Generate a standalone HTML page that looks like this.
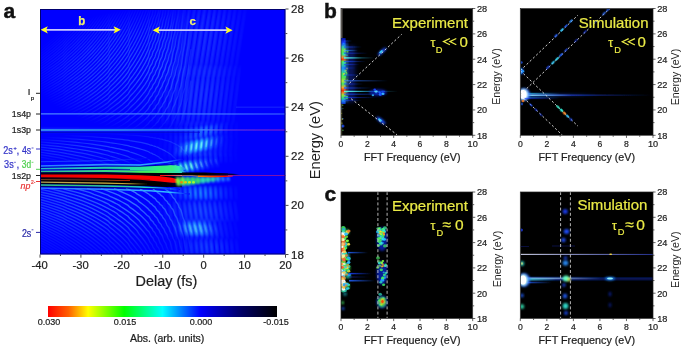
<!DOCTYPE html><html><head><meta charset="utf-8"><style>html,body{margin:0;padding:0;background:#fff;width:685px;height:350px;overflow:hidden;position:relative}</style></head><body><svg width="685" height="350" viewBox="0 0 685 350" font-family='"Liberation Sans", sans-serif' style="position:absolute;left:0;top:0;will-change:transform">
<defs>
<filter id="b04" x="-20%" y="-20%" width="140%" height="140%"><feGaussianBlur stdDeviation="0.4"/></filter>
<filter id="b08" x="-20%" y="-50%" width="140%" height="200%"><feGaussianBlur stdDeviation="0.8"/></filter>
<filter id="b12" x="-30%" y="-50%" width="160%" height="200%"><feGaussianBlur stdDeviation="1.2"/></filter>
<filter id="b2" x="-50%" y="-50%" width="200%" height="200%"><feGaussianBlur stdDeviation="2"/></filter>
<filter id="b3" x="-50%" y="-50%" width="200%" height="200%"><feGaussianBlur stdDeviation="3"/></filter>
<linearGradient id="cbar" x1="0" x2="1" y1="0" y2="0">
<stop offset="0" stop-color="#ff0000"/>
<stop offset="0.09" stop-color="#ff6000"/>
<stop offset="0.175" stop-color="#ffff00"/>
<stop offset="0.333" stop-color="#00ff00"/>
<stop offset="0.5" stop-color="#00ffff"/>
<stop offset="0.667" stop-color="#0000ff"/>
<stop offset="0.83" stop-color="#000070"/>
<stop offset="1" stop-color="#000000"/>
</linearGradient>
<clipPath id="clipA"><rect x="40" y="9" width="245.5" height="245.5"/></clipPath>
<clipPath id="clipb"><rect x="341" y="8.5" width="131.7" height="126.8"/></clipPath>
<clipPath id="clipb2"><rect x="520.3" y="8.5" width="132.7" height="126.8"/></clipPath>
<clipPath id="clipc"><rect x="341" y="192" width="131.7" height="126.5"/></clipPath>
<clipPath id="clipc2"><rect x="520.3" y="192" width="132.7" height="126.5"/></clipPath>
</defs>
<rect x="0" y="0" width="685" height="350" fill="#ffffff"/>
<g clip-path="url(#clipA)">
<rect x="40" y="9" width="245.5" height="245.5" fill="#0000ff"/>
<radialGradient id="rgU" cx="0.5" cy="0.5" r="0.5"><stop offset="0" stop-color="#fff" stop-opacity="0.8"/><stop offset="0.6" stop-color="#fff" stop-opacity="0.5"/><stop offset="1" stop-color="#fff" stop-opacity="0"/></radialGradient>
<linearGradient id="fx" gradientUnits="userSpaceOnUse" x1="165" y1="0" x2="205" y2="0"><stop offset="0" stop-color="#fff"/><stop offset="1" stop-color="#fff" stop-opacity="0"/></linearGradient>
<mask id="mfx" maskUnits="userSpaceOnUse" x="40" y="9" width="246" height="246"><rect x="40" y="9" width="246" height="246" fill="url(#fx)"/></mask>
<mask id="mkU" maskUnits="userSpaceOnUse" x="40" y="9" width="246" height="246"><ellipse cx="165" cy="70" rx="135" ry="64" fill="url(#rgU)"/></mask>
<mask id="mkM" maskUnits="userSpaceOnUse" x="40" y="9" width="246" height="246"><ellipse cx="120" cy="149" rx="115" ry="16" fill="url(#rgU)"/></mask>
<linearGradient id="fanL" gradientUnits="userSpaceOnUse" x1="0" y1="188" x2="0" y2="254"><stop offset="0" stop-color="#fff" stop-opacity="1"/><stop offset="0.45" stop-color="#fff" stop-opacity="0.75"/><stop offset="0.75" stop-color="#fff" stop-opacity="0.3"/><stop offset="1" stop-color="#fff" stop-opacity="0.12"/></linearGradient>
<mask id="mkL" maskUnits="userSpaceOnUse" x="40" y="180" width="246" height="80"><rect x="40" y="180" width="246" height="80" fill="url(#fanL)"/></mask>
<linearGradient id="fanLx" gradientUnits="userSpaceOnUse" x1="40" y1="0" x2="210" y2="0"><stop offset="0" stop-color="#fff" stop-opacity="0.45"/><stop offset="0.55" stop-color="#fff" stop-opacity="0.95"/><stop offset="0.85" stop-color="#fff" stop-opacity="0.6"/><stop offset="1" stop-color="#fff" stop-opacity="0"/></linearGradient>
<mask id="mkLx" maskUnits="userSpaceOnUse" x="40" y="180" width="246" height="80"><rect x="40" y="180" width="246" height="80" fill="url(#fanLx)"/></mask>
<g mask="url(#mfx)">
<path d="M38,170.9L43,170.8L48,170.6L53,170.4L58,170.3L63,170.1L67,169.8L72,169.6L77,169.4L82,169.1L87,168.8L92,168.5L97,168.2L102,167.8L105,167.5L108,167.3L110,167.0L113,166.8L116,166.5L119,166.1L122,165.8L125,165.4L128,165.0L130,164.6L133,164.1L136,163.6L139,163.1L142,162.5L145,161.8L148,161.1L149,160.7L150,160.3L152,159.9L153,159.4L155,158.9L156,158.4L158,157.9L159,157.3L160,156.7L162,156.0L163,155.3L165,154.6L166,153.7L168,152.9L169,151.9L171,150.9L172,149.7L173,148.5L175,147.1L176,145.6L178,144.0L179,142.1L181,140.0L182,137.6L183,134.9L185,131.8L186,128.2L188,123.9L189,118.7L191,112.5M38,168.4L43,168.2L48,167.9L53,167.7L58,167.4L63,167.1L67,166.8L72,166.5L77,166.1L82,165.7L87,165.3L92,164.8L97,164.3L102,163.7L105,163.4L108,163.0L110,162.6L113,162.2L116,161.7L119,161.2L122,160.7L125,160.2L128,159.6L130,158.9L133,158.2L136,157.5L139,156.7L142,155.8L145,154.8L148,153.7L149,153.1L150,152.5L152,151.9L153,151.2L155,150.4L156,149.7L158,148.9L159,148.0L160,147.1L162,146.1L163,145.0L165,143.9L166,142.6L168,141.3L169,139.9L171,138.3L172,136.6L173,134.8L175,132.7L176,130.5L178,128.0L179,125.2L181,122.0L182,118.5L183,114.4L185,109.7L186,104.3L188,97.8L189,90.1L191,80.7M38,165.9L43,165.6L48,165.3L53,164.9L58,164.6L63,164.2L67,163.7L72,163.3L77,162.8L82,162.3L87,161.7L92,161.1L97,160.4L102,159.6L105,159.2L108,158.7L110,158.1L113,157.6L116,157.0L119,156.3L122,155.6L125,154.9L128,154.1L130,153.2L133,152.3L136,151.3L139,150.2L142,149.0L145,147.7L148,146.3L149,145.5L150,144.7L152,143.8L153,142.9L155,142.0L156,140.9L158,139.8L159,138.7L160,137.4L162,136.1L163,134.7L165,133.2L166,131.6L168,129.8L169,127.9L171,125.8L172,123.5L173,121.1L175,118.3L176,115.3L178,112.0L179,108.2L181,104.1L182,99.3L183,93.9L185,87.6L186,80.4L188,71.8L189,61.5L191,49.0M38,163.4L43,163.0L48,162.6L53,162.2L58,161.7L63,161.2L67,160.7L72,160.1L77,159.5L82,158.8L87,158.1L92,157.3L97,156.5L102,155.6L105,155.0L108,154.3L110,153.7L113,153.0L116,152.2L119,151.4L122,150.6L125,149.6L128,148.6L130,147.6L133,146.4L136,145.2L139,143.8L142,142.3L145,140.7L148,138.9L149,137.9L150,136.9L152,135.8L153,134.7L155,133.5L156,132.2L158,130.8L159,129.4L160,127.8L162,126.2L163,124.4L165,122.5L166,120.5L168,118.2L169,115.9L171,113.3L172,110.4L173,107.3L175,103.9L176,100.2L178,96.0L179,91.3L181,86.1L182,80.1L183,73.4L185,65.6L186,56.5L188,45.8L189,32.9L191,17.3M38,160.9L43,160.4L48,159.9L53,159.4L58,158.9L63,158.3L67,157.6L72,157.0L77,156.2L82,155.4L87,154.6L92,153.6L97,152.6L102,151.5L105,150.8L108,150.0L110,149.2L113,148.4L116,147.5L119,146.5L122,145.5L125,144.4L128,143.2L130,141.9L133,140.5L136,139.0L139,137.4L142,135.6L145,133.6L148,131.5L149,130.3L150,129.1L152,127.8L153,126.4L155,125.0L156,123.4L158,121.8L159,120.0L160,118.2L162,116.2L163,114.1L165,111.8L166,109.4L168,106.7L169,103.8L171,100.7L172,97.3L173,93.6L175,89.5L176,85.0L178,80.0L179,74.4L181,68.1L182,61.0L183,52.9L185,43.5L186,32.6L188,19.7L189,4.3M38,158.4L43,157.9L48,157.3L53,156.7L58,156.0L63,155.3L67,154.6L72,153.8L77,152.9L82,152.0L87,151.0L92,149.9L97,148.7L102,147.4L105,146.6L108,145.7L110,144.8L113,143.8L116,142.7L119,141.6L122,140.4L125,139.1L128,137.7L130,136.2L133,134.6L136,132.9L139,131.0L142,128.9L145,126.6L148,124.1L149,122.7L150,121.3L152,119.8L153,118.2L155,116.5L156,114.7L158,112.8L159,110.7L160,108.6L162,106.3L163,103.8L165,101.1L166,98.3L168,95.2L169,91.8L171,88.2L172,84.2L173,79.9L175,75.1L176,69.9L178,64.0L179,57.5L181,50.1L182,41.8L183,32.3L185,21.4L186,8.7M38,155.9L43,155.3L48,154.6L53,153.9L58,153.2L63,152.4L67,151.5L72,150.6L77,149.7L82,148.6L87,147.4L92,146.2L97,144.8L102,143.3L105,142.4L108,141.4L110,140.3L113,139.2L116,138.0L119,136.7L122,135.3L125,133.9L128,132.3L130,130.6L133,128.7L136,126.7L139,124.5L142,122.1L145,119.5L148,116.6L149,115.1L150,113.5L152,111.7L153,109.9L155,108.0L156,105.9L158,103.7L159,101.4L160,98.9L162,96.3L163,93.5L165,90.4L166,87.2L168,83.6L169,79.8L171,75.7L172,71.1L173,66.2L175,60.7L176,54.7L178,48.0L179,40.6L181,32.2L182,22.7L183,11.8L185,-0.6M38,153.4L43,152.7L48,152.0L53,151.2L58,150.3L63,149.5L67,148.5L72,147.5L77,146.4L82,145.2L87,143.9L92,142.5L97,140.9L102,139.2L105,138.2L108,137.1L110,135.9L113,134.6L116,133.2L119,131.8L122,130.2L125,128.6L128,126.8L130,124.9L133,122.8L136,120.6L139,118.1L142,115.4L145,112.5L148,109.2L149,107.5L150,105.6L152,103.7L153,101.6L155,99.5L156,97.2L158,94.7L159,92.1L160,89.3L162,86.3L163,83.2L165,79.7L166,76.1L168,72.1L169,67.8L171,63.1L172,58.0L173,52.4L175,46.3L176,39.5L178,32.0L179,23.6L181,14.2L182,3.5M38,150.9L43,150.1L48,149.3L53,148.4L58,147.5L63,146.5L67,145.4L72,144.3L77,143.1L82,141.8L87,140.3L92,138.7L97,137.0L102,135.2L105,134.0L108,132.7L110,131.4L113,130.0L116,128.5L119,126.9L122,125.2L125,123.3L128,121.3L130,119.2L133,116.9L136,114.4L139,111.7L142,108.7L145,105.4L148,101.8L149,99.9L150,97.8L152,95.7L153,93.4L155,91.0L156,88.4L158,85.7L159,82.8L160,79.7L162,76.4L163,72.9L165,69.1L166,65.0L168,60.6L169,55.8L171,50.6L172,44.9L173,38.7L175,31.9L176,24.4L178,16.0L179,6.7L181,-3.8M38,148.4L43,147.5L48,146.6L53,145.7L58,144.7L63,143.6L67,142.4L72,141.1L77,139.8L82,138.3L87,136.7L92,135.0L97,133.1L102,131.1L105,129.8L108,128.4L110,127.0L113,125.4L116,123.7L119,122.0L122,120.1L125,118.1L128,115.9L130,113.5L133,111.0L136,108.2L139,105.2L142,102.0L145,98.4L148,94.4L149,92.3L150,90.0L152,87.6L153,85.1L155,82.5L156,79.7L158,76.7L159,73.5L160,70.1L162,66.4L163,62.5L165,58.4L166,53.9L168,49.0L169,43.8L171,38.0L172,31.8L173,25.0L175,17.5L176,9.2L178,0.0M38,145.9L43,144.9L48,144.0L53,142.9L58,141.8L63,140.6L67,139.3L72,138.0L77,136.5L82,134.9L87,133.2L92,131.3L97,129.3L102,127.0L105,125.6L108,124.1L110,122.5L113,120.8L116,119.0L119,117.1L122,115.0L125,112.8L128,110.4L130,107.9L133,105.1L136,102.1L139,98.8L142,95.2L145,91.3L148,87.0L149,84.7L150,82.2L152,79.6L153,76.9L155,74.0L156,70.9L158,67.6L159,64.2L160,60.4L162,56.5L163,52.2L165,47.7L166,42.8L168,37.5L169,31.7L171,25.5L172,18.7L173,11.3L175,3.1M38,143.3L43,142.4L48,141.3L53,140.2L58,139.0L63,137.7L67,136.3L72,134.8L77,133.2L82,131.5L87,129.6L92,127.6L97,125.4L102,122.9L105,121.4L108,119.8L110,118.0L113,116.2L116,114.3L119,112.2L122,109.9L125,107.5L128,105.0L130,102.2L133,99.2L136,95.9L139,92.4L142,88.5L145,84.3L148,79.6L149,77.1L150,74.4L152,71.6L153,68.6L155,65.5L156,62.1L158,58.6L159,54.8L160,50.8L162,46.5L163,41.9L165,37.0L166,31.7L168,25.9L169,19.7L171,13.0L172,5.6L173,-2.4M38,140.8L43,139.8L48,138.6L53,137.4L58,136.1L63,134.7L67,133.3L72,131.7L77,129.9L82,128.1L87,126.1L92,123.9L97,121.5L102,118.8L105,117.2L108,115.4L110,113.6L113,111.6L116,109.5L119,107.3L122,104.9L125,102.3L128,99.5L130,96.5L133,93.3L136,89.8L139,86.0L142,81.8L145,77.2L148,72.2L149,69.5L150,66.6L152,63.6L153,60.4L155,57.0L156,53.4L158,49.6L159,45.5L160,41.2L162,36.6L163,31.6L165,26.3L166,20.6L168,14.4L169,7.7L171,0.4M38,138.3L43,137.2L48,136.0L53,134.7L58,133.3L63,131.8L67,130.2L72,128.5L77,126.6L82,124.7L87,122.5L92,120.1L97,117.6L102,114.8L105,113.0L108,111.1L110,109.1L113,107.0L116,104.8L119,102.4L122,99.8L125,97.0L128,94.1L130,90.9L133,87.4L136,83.6L139,79.5L142,75.1L145,70.2L148,64.8L149,61.9L150,58.8L152,55.5L153,52.1L155,48.5L156,44.6L158,40.6L159,36.2L160,31.6L162,26.6L163,21.3L165,15.6L166,9.5L168,2.9L169,-4.3M38,135.8L43,134.6L48,133.3L53,131.9L58,130.4L63,128.8L67,127.2L72,125.3L77,123.4L82,121.2L87,118.9L92,116.4L97,113.7L102,110.7L105,108.8L108,106.8L110,104.7L113,102.4L116,100.0L119,97.5L122,94.7L125,91.8L128,88.6L130,85.2L133,81.5L136,77.5L139,73.1L142,68.3L145,63.1L148,57.4L149,54.2L150,51.0L152,47.5L153,43.9L155,40.0L156,35.9L158,31.5L159,26.9L160,21.9L162,16.7L163,11.0L165,4.9L166,-1.6M38,133.3L43,132.0L48,130.6L53,129.2L58,127.6L63,125.9L67,124.1L72,122.2L77,120.1L82,117.8L87,115.4L92,112.7L97,109.8L102,106.6L105,104.6L108,102.5L110,100.2L113,97.8L116,95.3L119,92.6L122,89.6L125,86.5L128,83.1L130,79.5L133,75.6L136,71.3L139,66.7L142,61.6L145,56.1L148,49.9L149,46.6L150,43.2L152,39.5L153,35.6L155,31.5L156,27.1L158,22.5L159,17.6L160,12.3L162,6.7L163,0.7M38,130.8L43,129.4L48,128.0L53,126.4L58,124.7L63,123.0L67,121.1L72,119.0L77,116.8L82,114.4L87,111.8L92,109.0L97,105.9L102,102.5L105,100.4L108,98.2L110,95.8L113,93.2L116,90.5L119,87.6L122,84.6L125,81.2L128,77.7L130,73.8L133,69.7L136,65.2L139,60.3L142,54.9L145,49.0L148,42.5L149,39.0L150,35.3L152,31.5L153,27.3L155,23.0L156,18.4L158,13.5L159,8.3L160,2.7L162,-3.2M38,128.3L43,126.8L48,125.3L53,123.7L58,121.9L63,120.0L67,118.0L72,115.8L77,113.5L82,111.0L87,108.2L92,105.3L97,102.0L102,98.5L105,96.2L108,93.8L110,91.3L113,88.6L116,85.8L119,82.7L122,79.5L125,76.0L128,72.2L130,68.2L133,63.8L136,59.0L139,53.8L142,48.2L145,42.0L148,35.1L149,31.4L150,27.5L152,23.4L153,19.1L155,14.5L156,9.6L158,4.5L159,-1.1M38,125.8L43,124.3L48,122.6L53,120.9L58,119.1L63,117.1L67,115.0L72,112.7L77,110.2L82,107.6L87,104.7L92,101.6L97,98.1L102,94.4L105,92.0L108,89.5L110,86.9L113,84.0L116,81.0L119,77.8L122,74.4L125,70.7L128,66.8L130,62.5L133,57.9L136,52.9L139,47.4L142,41.5L145,34.9L148,27.7L149,23.8L150,19.7L152,15.4L153,10.8L155,6.0L156,0.9L158,-4.6M38,123.3L43,121.7L48,120.0L53,118.2L58,116.2L63,114.1L67,111.9L72,109.5L77,106.9L82,104.1L87,101.1L92,97.8L97,94.2L102,90.3L105,87.8L108,85.2L110,82.4L113,79.5L116,76.3L119,72.9L122,69.3L125,65.5L128,61.3L130,56.8L133,52.0L136,46.7L139,41.0L142,34.7L145,27.9L148,20.3L149,16.2L150,11.9L152,7.4L153,2.6L155,-2.5M38,120.8L43,119.1L48,117.3L53,115.4L58,113.4L63,111.2L67,108.9L72,106.3L77,103.6L82,100.7L87,97.6L92,94.1L97,90.4L102,86.2L105,83.6L108,80.9L110,78.0L113,74.9L116,71.6L119,68.0L122,64.2L125,60.2L128,55.8L130,51.1L133,46.1L136,40.6L139,34.6L142,28.0L145,20.8L148,12.9L149,8.6L150,4.1L152,-0.6L153,-5.7M38,118.3L43,116.5L48,114.6L53,112.7L58,110.5L63,108.2L67,105.8L72,103.2L77,100.4L82,97.3L87,94.0L92,90.4L97,86.5L102,82.1L105,79.4L108,76.6L110,73.5L113,70.3L116,66.8L119,63.1L122,59.2L125,54.9L128,50.4L130,45.5L133,40.2L136,34.4L139,28.1L142,21.3L145,13.8L148,5.5L149,1.0L150,-3.7M38,115.8L43,113.9L48,112.0L53,109.9L58,107.7L63,105.3L67,102.8L72,100.0L77,97.1L82,93.9L87,90.4L92,86.7L97,82.6L102,78.1L105,75.2L108,72.2L110,69.1L113,65.7L116,62.1L119,58.2L122,54.1L125,49.7L128,44.9L130,39.8L133,34.3L136,28.2L139,21.7L142,14.6L145,6.7L148,-1.9M38,113.3L43,111.3L48,109.3L53,107.1L58,104.8L63,102.4L67,99.7L72,96.9L77,93.8L82,90.5L87,86.9L92,83.0L97,78.7L102,74.0L105,71.0L108,67.9L110,64.6L113,61.1L116,57.3L119,53.3L122,49.0L125,44.4L128,39.5L130,34.1L133,28.4L136,22.1L139,15.3L142,7.8L145,-0.3M38,110.8L43,108.8L48,106.6L53,104.4L58,102.0L63,99.4L67,96.7L72,93.7L77,90.5L82,87.1L87,83.3L92,79.2L97,74.8L102,69.9L105,66.8L108,63.6L110,60.2L113,56.5L116,52.6L119,48.4L122,43.9L125,39.2L128,34.0L130,28.5L133,22.5L136,15.9L139,8.9L142,1.1M38,108.2L43,106.2L48,104.0L53,101.6L58,99.1L63,96.5L67,93.6L72,90.5L77,87.2L82,83.6L87,79.7L92,75.5L97,70.9L102,65.8L105,62.7L108,59.3L110,55.7L113,51.9L116,47.8L119,43.5L122,38.9L125,33.9L128,28.5L130,22.8L133,16.5L136,9.8L139,2.4L142,-5.6M38,105.7L43,103.6L48,101.3L53,98.9L58,96.3L63,93.5L67,90.6L72,87.4L77,83.9L82,80.2L87,76.2L92,71.8L97,67.0L102,61.8L105,58.5L108,55.0L110,51.2L113,47.3L116,43.1L119,38.6L122,33.8L125,28.6L128,23.1L130,17.1L133,10.6L136,3.6L139,-4.0M38,103.2L43,101.0L48,98.7L53,96.1L58,93.5L63,90.6L67,87.5L72,84.2L77,80.6L82,76.8L87,72.6L92,68.1L97,63.1L102,57.7L105,54.3L108,50.6L110,46.8L113,42.7L116,38.3L119,33.7L122,28.7L125,23.4L128,17.6L130,11.4L133,4.7L136,-2.5M38,100.7L43,98.4L48,96.0L53,93.4L58,90.6L63,87.6L67,84.5L72,81.0L77,77.4L82,73.4L87,69.1L92,64.4L97,59.2L102,53.6L105,50.1L108,46.3L110,42.3L113,38.1L116,33.6L119,28.8L122,23.6L125,18.1L128,12.2L130,5.8L133,-1.2M38,98.2L43,95.8L48,93.3L53,90.6L58,87.8L63,84.7L67,81.4L72,77.9L77,74.1L82,70.0L87,65.5L92,60.6L97,55.3L102,49.5L105,45.9L108,42.0L110,37.9L113,33.5L116,28.9L119,23.9L122,18.6L125,12.8L128,6.7L130,0.1M38,95.7L43,93.3L48,90.7L53,87.9L58,84.9L63,81.8L67,78.4L72,74.7L77,70.8L82,66.5L87,61.9L92,56.9L97,51.4L102,45.4L105,41.7L108,37.7L110,33.4L113,28.9L116,24.1L119,19.0L122,13.5L125,7.6L128,1.2L130,-5.6M38,93.2L43,90.7L48,88.0L53,85.1L58,82.1L63,78.8L67,75.3L72,71.6L77,67.5L82,63.1L87,58.4L92,53.2L97,47.6L102,41.4L105,37.5L108,33.4L110,29.0L113,24.3L116,19.4L119,14.1L122,8.4L125,2.3L128,-4.2M38,90.7L43,88.1L48,85.3L53,82.4L58,79.2L63,75.9L67,72.3L72,68.4L77,64.2L82,59.7L87,54.8L92,49.5L97,43.7L102,37.3L105,33.3L108,29.0L110,24.5L113,19.7L116,14.6L119,9.2L122,3.3L125,-2.9M38,88.2L43,85.5L48,82.7L53,79.6L58,76.4L63,72.9L67,69.2L72,65.2L77,60.9L82,56.3L87,51.2L92,45.8L97,39.8L102,33.2L105,29.1L108,24.7L110,20.1L113,15.1L116,9.9L119,4.3L122,-1.8M38,85.7L43,82.9L48,80.0L53,76.9L58,73.5L63,70.0L67,66.2L72,62.1L77,57.6L82,52.9L87,47.7L92,42.0L97,35.9L102,29.1L105,24.9L108,20.4L110,15.6L113,10.5L116,5.1L119,-0.6M38,83.2L43,80.3L48,77.3L53,74.1L58,70.7L63,67.0L67,63.1L72,58.9L77,54.4L82,49.4L87,44.1L92,38.3L97,32.0L102,25.1L105,20.7L108,16.1L110,11.2L113,5.9L116,0.4L119,-5.6M38,80.7L43,77.8L48,74.7L53,71.4L58,67.9L63,64.1L67,60.1L72,55.7L77,51.1L82,46.0L87,40.6L92,34.6L97,28.1L102,21.0L105,16.5L108,11.7L110,6.7L113,1.3L116,-4.4M38,78.2L43,75.2L48,72.0L53,68.6L58,65.0L63,61.2L67,57.0L72,52.6L77,47.8L82,42.6L87,37.0L92,30.9L97,24.2L102,16.9L105,12.3L108,7.4L110,2.3L113,-3.2M38,75.7L43,72.6L48,69.3L53,65.9L58,62.2L63,58.2L67,54.0L72,49.4L77,44.5L82,39.2L87,33.4L92,27.2L97,20.3L102,12.8L105,8.1L108,3.1L110,-2.2M38,73.1L43,70.0L48,66.7L53,63.1L58,59.3L63,55.3L67,50.9L72,46.2L77,41.2L82,35.8L87,29.9L92,23.4L97,16.4L102,8.7L105,3.9L108,-1.2M38,70.6L43,67.4L48,64.0L53,60.4L58,56.5L63,52.3L67,47.9L72,43.1L77,37.9L82,32.3L87,26.3L92,19.7L97,12.5L102,4.7L105,-0.3L108,-5.5M38,68.1L43,64.8L48,61.3L53,57.6L58,53.6L63,49.4L67,44.8L72,39.9L77,34.6L82,28.9L87,22.7L92,16.0L97,8.7L102,0.6L105,-4.5M38,65.6L43,62.3L48,58.7L53,54.9L58,50.8L63,46.4L67,41.8L72,36.8L77,31.4L82,25.5L87,19.2L92,12.3L97,4.8L102,-3.5M38,63.1L43,59.7L48,56.0L53,52.1L58,47.9L63,43.5L67,38.7L72,33.6L77,28.1L82,22.1L87,15.6L92,8.6L97,0.9M38,60.6L43,57.1L48,53.3L53,49.4L58,45.1L63,40.6L67,35.7L72,30.4L77,24.8L82,18.7L87,12.1L92,4.8L97,-3.0M38,58.1L43,54.5L48,50.7L53,46.6L58,42.3L63,37.6L67,32.6L72,27.3L77,21.5L82,15.3L87,8.5L92,1.1M38,55.6L43,51.9L48,48.0L53,43.9L58,39.4L63,34.7L67,29.6L72,24.1L77,18.2L82,11.8L87,4.9L92,-2.6M38,53.1L43,49.3L48,45.4L53,41.1L58,36.6L63,31.7L67,26.5L72,20.9L77,14.9L82,8.4L87,1.4M38,50.6L43,46.8L48,42.7L53,38.4L58,33.7L63,28.8L67,23.5L72,17.8L77,11.6L82,5.0L87,-2.2M38,48.1L43,44.2L48,40.0L53,35.6L58,30.9L63,25.8L67,20.4L72,14.6L77,8.4L82,1.6M38,45.6L43,41.6L48,37.4L53,32.9L58,28.0L63,22.9L67,17.4L72,11.5L77,5.1L82,-1.8M38,43.1L43,39.0L48,34.7L53,30.1L58,25.2L63,20.0L67,14.3L72,8.3L77,1.8L82,-5.3M38,40.6L43,36.4L48,32.0L53,27.3L58,22.4L63,17.0L67,11.3L72,5.1L77,-1.5M38,38.0L43,33.8L48,29.4L53,24.6L58,19.5L63,14.1L67,8.2L72,2.0L77,-4.8M38,35.5L43,31.3L48,26.7L53,21.8L58,16.7L63,11.1L67,5.2L72,-1.2M38,33.0L43,28.7L48,24.0L53,19.1L58,13.8L63,8.2L67,2.1L72,-4.4M38,30.5L43,26.1L48,21.4L53,16.3L58,11.0L63,5.2L67,-0.9M38,28.0L43,23.5L48,18.7L53,13.6L58,8.1L63,2.3L67,-4.0M38,25.5L43,20.9L48,16.0L53,10.8L58,5.3L63,-0.6M38,23.0L43,18.3L48,13.4L53,8.1L58,2.4L63,-3.6M38,20.5L43,15.8L48,10.7L53,5.3L58,-0.4" fill="none" stroke="#3c78ff" stroke-width="1.3" mask="url(#mkU)" opacity="0.85" filter="url(#b04)"/>
<path d="M38,131.8L43,131.9L48,132.0L53,132.0L58,132.1L63,132.2L67,132.3L72,132.5L77,132.6L82,132.7L87,132.9L92,133.0L97,133.2L102,133.4L105,133.5L108,133.6L110,133.7L113,133.9L116,134.0L119,134.2L122,134.4L125,134.6L128,134.8L130,135.0L133,135.2L136,135.4L139,135.7L142,136.0L145,136.3L148,136.7L149,136.9L150,137.1L152,137.3L153,137.6L155,137.8L156,138.0L158,138.3L159,138.6L160,138.9L162,139.2L163,139.6L165,140.0L166,140.4L168,140.8L169,141.3L171,141.8L172,142.4L173,143.0L175,143.7L176,144.5L178,145.3L179,146.2L181,147.3L182,148.5L183,149.8L185,151.4L186,153.2L188,155.3L189,157.9L191,161.0M38,134.3L43,134.5L48,134.6L53,134.8L58,135.0L63,135.2L67,135.4L72,135.6L77,135.9L82,136.1L87,136.4L92,136.7L97,137.1L102,137.5L105,137.7L108,137.9L110,138.2L113,138.5L116,138.8L119,139.1L122,139.4L125,139.8L128,140.2L130,140.6L133,141.1L136,141.6L139,142.1L142,142.7L145,143.4L148,144.1L149,144.5L150,144.9L152,145.3L153,145.8L155,146.3L156,146.8L158,147.3L159,147.9L160,148.5L162,149.2L163,149.9L165,150.7L166,151.5L168,152.4L169,153.3L171,154.4L172,155.5L173,156.7L175,158.1L176,159.6L178,161.3L179,163.1L181,165.2M38,136.8L43,137.0L48,137.3L53,137.6L58,137.8L63,138.1L67,138.4L72,138.8L77,139.2L82,139.6L87,140.0L92,140.5L97,141.0L102,141.5L105,141.9L108,142.3L110,142.7L113,143.1L116,143.5L119,144.0L122,144.5L125,145.1L128,145.7L130,146.3L133,147.0L136,147.8L139,148.6L142,149.5L145,150.4L148,151.5L149,152.1L150,152.7L152,153.4L153,154.1L155,154.8L156,155.6L158,156.4L159,157.2L160,158.2L162,159.2L163,160.2L165,161.4L166,162.6L168,163.9L169,165.3M38,139.3L43,139.6L48,140.0L53,140.3L58,140.7L63,141.1L67,141.5L72,141.9L77,142.4L82,143.0L87,143.5L92,144.2L97,144.9L102,145.6L105,146.1L108,146.6L110,147.1L113,147.7L116,148.3L119,148.9L122,149.6L125,150.3L128,151.1L130,152.0L133,152.9L136,153.9L139,155.0L142,156.2L145,157.5L148,158.9L149,159.7L150,160.5L152,161.4L153,162.3L155,163.3L156,164.3L158,165.4M38,141.8L43,142.2L48,142.6L53,143.1L58,143.5L63,144.0L67,144.5L72,145.1L77,145.7L82,146.4L87,147.1L92,147.9L97,148.7L102,149.7L105,150.3L108,150.9L110,151.6L113,152.3L116,153.0L119,153.8L122,154.7L125,155.6L128,156.6L130,157.7L133,158.8L136,160.1L139,161.4L142,162.9L145,164.6M38,144.3L43,144.8L48,145.3L53,145.8L58,146.4L63,147.0L67,147.6L72,148.3L77,149.0L82,149.8L87,150.7L92,151.6L97,152.6L102,153.8L105,154.5L108,155.2L110,156.0L113,156.9L116,157.8L119,158.7L122,159.8L125,160.9L128,162.0L130,163.3L133,164.7M38,146.8L43,147.4L48,148.0L53,148.6L58,149.2L63,149.9L67,150.6L72,151.4L77,152.3L82,153.2L87,154.2L92,155.3L97,156.5L102,157.8L105,158.7L108,159.5L110,160.5L113,161.5L116,162.5L119,163.6L122,164.8M38,149.4L43,150.0L48,150.6L53,151.3L58,152.0L63,152.8L67,153.7L72,154.6L77,155.6L82,156.6L87,157.8L92,159.0L97,160.4L102,161.9L105,162.9L108,163.9L110,164.9L113,166.1M38,151.9L43,152.5L48,153.3L53,154.1L58,154.9L63,155.8L67,156.7L72,157.8L77,158.9L82,160.1L87,161.4L92,162.8L97,164.3L102,166.0M38,154.4L43,155.1L48,155.9L53,156.8L58,157.7L63,158.7L67,159.8L72,160.9L77,162.2L82,163.5L87,164.9M38,156.9L43,157.7L48,158.6L53,159.6L58,160.6L63,161.7L67,162.8L72,164.1L77,165.4M38,159.4L43,160.3L48,161.3L53,162.3L58,163.4L63,164.6L67,165.9" fill="none" stroke="#3c80ff" stroke-width="1.2" mask="url(#mkM)" opacity="0.7" filter="url(#b04)"/>
</g>
<g mask="url(#mkLx)">
<path d="M165,188.4L166,189.6L168,190.9L169,192.3L171,193.9L172,195.6L173,197.5L175,199.5L176,201.8L178,204.3L179,207.1L181,210.2L182,213.8L183,217.8L185,222.5L186,228.0L188,234.4L189,242.1L191,251.5L192,263.2M153,188.8L154,189.7L155,190.7L157,191.8L158,192.9L160,194.1L161,195.4L163,196.7L164,198.2L165,199.7L167,201.4L168,203.3L170,205.2L171,207.4L173,209.7L174,212.3L175,215.2L177,218.3L178,221.8L180,225.7L181,230.1L183,235.2L184,240.9L185,247.6L187,255.4L188,264.6M140,189.1L143,190.6L146,192.3L149,194.2L150,195.2L152,196.3L153,197.4L155,198.6L156,199.9L157,201.2L159,202.7L160,204.2L162,205.8L163,207.6L165,209.5L166,211.5L167,213.7L169,216.0L170,218.6L172,221.4L173,224.4L175,227.8L176,231.5L177,235.6L179,240.2L180,245.4L182,251.2L183,257.8L185,265.5M126,188.4L129,189.6L132,190.9L135,192.3L137,193.9L140,195.6L143,197.5L146,199.5L149,201.8L150,203.0L152,204.3L153,205.6L155,207.1L156,208.6L157,210.2L159,211.9L160,213.8L162,215.7L163,217.8L165,220.1L166,222.5L167,225.1L169,228.0L170,231.1L172,234.4L173,238.1L175,242.1L176,246.6L177,251.5L179,257.0L180,263.2M114,188.6L117,189.7L119,190.8L122,192.0L125,193.3L128,194.7L131,196.2L134,197.9L137,199.6L139,201.6L142,203.7L145,206.0L148,208.6L149,209.9L151,211.4L152,212.9L154,214.6L155,216.3L157,218.1L158,220.0L159,222.1L161,224.3L162,226.7L164,229.2L165,231.9L167,234.8L168,238.0L170,241.4L171,245.1L172,249.2L174,253.7L175,258.6L177,264.0M101,188.8L104,189.7L107,190.7L110,191.8L113,192.9L116,194.1L119,195.4L121,196.7L124,198.2L127,199.7L130,201.4L133,203.3L136,205.2L139,207.4L141,209.7L144,212.3L147,215.2L149,216.7L150,218.3L151,220.0L153,221.8L154,223.7L156,225.7L157,227.9L159,230.1L160,232.6L162,235.2L163,237.9L164,240.9L166,244.1L167,247.6L169,251.3L170,255.4L172,259.8L173,264.6M87,188.4L92,189.8L97,191.3L102,193.0L105,194.1L108,195.2L110,196.4L113,197.7L116,199.0L119,200.4L122,202.0L125,203.6L128,205.4L130,207.4L133,209.4L136,211.7L139,214.1L142,216.8L145,219.8L148,223.0L149,224.8L150,226.6L152,228.5L153,230.6L155,232.8L156,235.1L158,237.5L159,240.1L160,242.9L162,245.9L163,249.1L165,252.5L166,256.2L168,260.1L169,264.4L171,269.1M75,188.5L80,189.8L85,191.2L90,192.7L94,194.3L99,196.1L104,198.1L107,199.3L110,200.6L113,202.0L116,203.5L119,205.1L121,206.8L124,208.6L127,210.6L130,212.7L133,215.0L136,217.5L139,220.2L141,223.1L144,226.3L147,229.9L149,231.8L150,233.8L151,235.9L153,238.2L154,240.6L156,243.1L157,245.8L159,248.6L160,251.6L162,254.9L163,258.3L164,262.1L166,266.1M63,188.7L67,189.8L72,191.1L77,192.4L82,193.9L87,195.5L92,197.2L97,199.1L102,201.2L105,202.5L108,203.8L110,205.3L113,206.8L116,208.5L119,210.3L122,212.1L125,214.2L128,216.3L130,218.7L133,221.2L136,224.0L139,227.0L142,230.3L145,233.9L148,237.8L149,240.0L150,242.2L152,244.6L153,247.1L155,249.8L156,252.6L158,255.6L159,258.8L160,262.2L162,265.8M48,188.4L53,189.4L58,190.5L63,191.7L68,193.0L73,194.4L78,195.9L83,197.5L87,199.2L92,201.1L97,203.2L102,205.4L105,206.9L108,208.4L111,210.0L114,211.7L117,213.5L119,215.4L122,217.5L125,219.8L128,222.2L131,224.8L134,227.6L137,230.6L139,233.9L142,237.5L145,241.5L148,245.9L149,248.3L151,250.8L152,253.4L154,256.2L155,259.1L157,262.3L158,265.6L159,269.1M38,188.9L43,189.9L48,190.9L53,192.1L58,193.3L63,194.6L67,195.9L72,197.4L77,199.0L82,200.7L87,202.6L92,204.7L97,206.9L102,209.3L105,210.8L108,212.5L110,214.2L113,216.0L116,218.0L119,220.1L122,222.3L125,224.7L128,227.3L130,230.0L133,233.0L136,236.3L139,239.8L142,243.7L145,248.0L148,252.7L149,255.2L150,257.8L152,260.6L153,263.6L155,266.8M38,191.4L43,192.5L48,193.6L53,194.8L58,196.1L63,197.5L67,199.0L72,200.6L77,202.3L82,204.2L87,206.2L92,208.4L97,210.8L102,213.4L105,215.0L108,216.8L110,218.6L113,220.6L116,222.7L119,225.0L122,227.4L125,230.0L128,232.7L130,235.7L133,238.9L136,242.5L139,246.3L142,250.4L145,255.0L148,260.1L149,262.8L150,265.6L152,268.7M38,193.9L43,195.1L48,196.3L53,197.6L58,199.0L63,200.4L67,202.0L72,203.7L77,205.6L82,207.6L87,209.7L92,212.1L97,214.7L102,217.5L105,219.2L108,221.1L110,223.1L113,225.2L116,227.5L119,229.9L122,232.5L125,235.2L128,238.2L130,241.4L133,244.9L136,248.6L139,252.7L142,257.2L145,262.1L148,267.5M38,196.4L43,197.6L48,198.9L53,200.3L58,201.8L63,203.4L67,205.1L72,206.9L77,208.9L82,211.0L87,213.3L92,215.8L97,218.5L102,221.5L105,223.4L108,225.4L110,227.6L113,229.8L116,232.2L119,234.8L122,237.5L125,240.5L128,243.6L130,247.1L133,250.8L136,254.8L139,259.1L142,263.9L145,269.1M38,198.9L43,200.2L48,201.6L53,203.1L58,204.7L63,206.3L67,208.1L72,210.1L77,212.2L82,214.4L87,216.9L92,219.5L97,222.4L102,225.6L105,227.6L108,229.8L110,232.0L113,234.4L116,237.0L119,239.7L122,242.6L125,245.7L128,249.1L130,252.7L133,256.7L136,260.9L139,265.6M38,201.4L43,202.8L48,204.3L53,205.8L58,207.5L63,209.3L67,211.2L72,213.2L77,215.4L82,217.8L87,220.4L92,223.2L97,226.3L102,229.7L105,231.8L108,234.1L110,236.5L113,239.0L116,241.7L119,244.6L122,247.7L125,251.0L128,254.6L130,258.4L133,262.6L136,267.1M38,203.9L43,205.4L48,206.9L53,208.6L58,210.3L63,212.2L67,214.2L72,216.4L77,218.7L82,221.3L87,224.0L92,227.0L97,230.2L102,233.8L105,236.0L108,238.4L110,240.9L113,243.6L116,246.5L119,249.5L122,252.8L125,256.3L128,260.0L130,264.1L133,268.5M38,206.4L43,208.0L48,209.6L53,211.3L58,213.2L63,215.2L67,217.3L72,219.6L77,222.0L82,224.7L87,227.6L92,230.7L97,234.1L102,237.9L105,240.2L108,242.7L110,245.4L113,248.2L116,251.2L119,254.4L122,257.8L125,261.5L128,265.5M38,208.9L43,210.6L48,212.3L53,214.1L58,216.0L63,218.1L67,220.3L72,222.7L77,225.3L82,228.1L87,231.1L92,234.4L97,238.0L102,241.9L105,244.4L108,247.0L110,249.8L113,252.8L116,255.9L119,259.3L122,262.9L125,266.8M38,211.5L43,213.1L48,214.9L53,216.8L58,218.9L63,221.0L67,223.4L72,225.9L77,228.6L82,231.5L87,234.7L92,238.1L97,241.9L102,246.0L105,248.6L108,251.4L110,254.3L113,257.4L116,260.7L119,264.2L122,268.0M38,214.0L43,215.7L48,217.6L53,219.6L58,221.7L63,224.0L67,226.4L72,229.1L77,231.9L82,234.9L87,238.2L92,241.8L97,245.8L102,250.1L105,252.8L108,255.7L110,258.7L113,262.0L116,265.4L119,269.1M38,216.5L43,218.3L48,220.3L53,222.3L58,224.6L63,226.9L67,229.5L72,232.2L77,235.2L82,238.4L87,241.8L92,245.6L97,249.7L102,254.2L105,257.0L108,260.0L110,263.2L113,266.6M38,219.0L43,220.9L48,222.9L53,225.1L58,227.4L63,229.9L67,232.5L72,235.4L77,238.5L82,241.8L87,245.4L92,249.3L97,253.6L102,258.2L105,261.2L108,264.3L110,267.6M38,221.5L43,223.5L48,225.6L53,227.8L58,230.2L63,232.8L67,235.6L72,238.5L77,241.7L82,245.2L87,248.9L92,253.0L97,257.4L102,262.3L105,265.4L108,268.6M38,224.0L43,226.1L48,228.3L53,230.6L58,233.1L63,235.8L67,238.6L72,241.7L77,245.0L82,248.6L87,252.5L92,256.7L97,261.3L102,266.4M38,226.5L43,228.6L48,230.9L53,233.3L58,235.9L63,238.7L67,241.7L72,244.9L77,248.3L82,252.0L87,256.1L92,260.4L97,265.2M38,229.0L43,231.2L48,233.6L53,236.1L58,238.8L63,241.7L67,244.7L72,248.0L77,251.6L82,255.4L87,259.6L92,264.2L97,269.1M38,231.5L43,233.8L48,236.3L53,238.9L58,241.6L63,244.6L67,247.8L72,251.2L77,254.9L82,258.9L87,263.2L92,267.9M38,234.0L43,236.4L48,238.9L53,241.6L58,244.5L63,247.5L67,250.8L72,254.4L77,258.2L82,262.3L87,266.7M38,236.5L43,239.0L48,241.6L53,244.4L58,247.3L63,250.5L67,253.9L72,257.5L77,261.5L82,265.7M38,239.0L43,241.6L48,244.2L53,247.1L58,250.2L63,253.4L67,256.9L72,260.7L77,264.7L82,269.1M38,241.5L43,244.1L48,246.9L53,249.9L58,253.0L63,256.4L67,260.0L72,263.8L77,268.0M38,244.0L43,246.7L48,249.6L53,252.6L58,255.8L63,259.3L67,263.0L72,267.0M38,246.6L43,249.3L48,252.2L53,255.4L58,258.7L63,262.3L67,266.1M38,249.1L43,251.9L48,254.9L53,258.1L58,261.5L63,265.2L67,269.1M38,251.6L43,254.5L48,257.6L53,260.9L58,264.4L63,268.1M38,254.1L43,257.1L48,260.2L53,263.6L58,267.2M38,256.6L43,259.6L48,262.9L53,266.4M38,259.1L43,262.2L48,265.6L53,269.1M38,261.6L43,264.8L48,268.2M38,264.1L43,267.4" fill="none" stroke="#3c84ff" stroke-width="1.4" mask="url(#mkL)" filter="url(#b04)"/>
</g>
<ellipse cx="149.0" cy="42.0" rx="1.10" ry="36.00" fill="#3068ff" transform="rotate(9 149.0 42)" opacity="0.061112246480397134" filter="url(#b08)"/>
<ellipse cx="145.5" cy="95.0" rx="1.10" ry="30.00" fill="#3070ff" transform="rotate(7 145.5 95)" opacity="0.06547740694328265" filter="url(#b08)"/>
<ellipse cx="145.5" cy="130.0" rx="1.10" ry="9.00" fill="#2a70ff" transform="rotate(3 145.5 130)" opacity="0.005633437243446034" filter="url(#b08)"/>
<ellipse cx="145.0" cy="158.0" rx="1.10" ry="5.00" fill="#2a80ff" opacity="0.0013585323646617918" filter="url(#b08)"/>
<ellipse cx="145.0" cy="146.0" rx="1.50" ry="11.00" fill="#2a86ff" transform="rotate(5 145.0 146)" opacity="0.002900120274341886" filter="url(#b08)"/>
<ellipse cx="154.1" cy="42.0" rx="1.10" ry="36.00" fill="#3068ff" transform="rotate(9 154.05 42)" opacity="0.09513004322259339" filter="url(#b08)"/>
<ellipse cx="150.6" cy="95.0" rx="1.10" ry="30.00" fill="#3070ff" transform="rotate(7 150.55 95)" opacity="0.1019250463099215" filter="url(#b08)"/>
<ellipse cx="150.6" cy="130.0" rx="1.10" ry="9.00" fill="#2a70ff" transform="rotate(3 150.55 130)" opacity="0.012763852535808968" filter="url(#b08)"/>
<ellipse cx="150.1" cy="158.0" rx="1.10" ry="5.00" fill="#2a80ff" opacity="0.003824991865500471" filter="url(#b08)"/>
<ellipse cx="150.1" cy="146.0" rx="1.50" ry="11.00" fill="#2a86ff" transform="rotate(5 150.05 146)" opacity="0.007849504841044597" filter="url(#b08)"/>
<ellipse cx="159.1" cy="42.0" rx="1.10" ry="36.00" fill="#3068ff" transform="rotate(9 159.1 42)" opacity="0.14167025509861897" filter="url(#b08)"/>
<ellipse cx="155.6" cy="95.0" rx="1.10" ry="30.00" fill="#3070ff" transform="rotate(7 155.6 95)" opacity="0.15178955903423463" filter="url(#b08)"/>
<ellipse cx="155.6" cy="130.0" rx="1.10" ry="9.00" fill="#2a70ff" transform="rotate(3 155.6 130)" opacity="0.026730443236670773" filter="url(#b08)"/>
<ellipse cx="155.1" cy="158.0" rx="1.10" ry="5.00" fill="#2a80ff" opacity="0.009748257656782286" filter="url(#b08)"/>
<ellipse cx="155.1" cy="146.0" rx="1.50" ry="11.00" fill="#2a86ff" transform="rotate(5 155.1 146)" opacity="0.01923111526066492" filter="url(#b08)"/>
<ellipse cx="164.2" cy="42.0" rx="1.10" ry="36.00" fill="#3068ff" transform="rotate(9 164.15 42)" opacity="0.20184183888617133" filter="url(#b08)"/>
<ellipse cx="160.7" cy="95.0" rx="1.10" ry="30.00" fill="#3070ff" transform="rotate(7 160.65 95)" opacity="0.21625911309232643" filter="url(#b08)"/>
<ellipse cx="160.7" cy="130.0" rx="1.10" ry="9.00" fill="#2a70ff" transform="rotate(3 160.65 130)" opacity="0.05174240453191947" filter="url(#b08)"/>
<ellipse cx="160.2" cy="158.0" rx="1.10" ry="5.00" fill="#2a80ff" opacity="0.02248844570545564" filter="url(#b08)"/>
<ellipse cx="160.2" cy="146.0" rx="1.50" ry="11.00" fill="#2a86ff" transform="rotate(5 160.15 146)" opacity="0.04264838960023462" filter="url(#b08)"/>
<ellipse cx="169.2" cy="42.0" rx="1.10" ry="36.00" fill="#3068ff" transform="rotate(9 169.2 42)" opacity="0.27511562013285606" filter="url(#b08)"/>
<ellipse cx="165.7" cy="95.0" rx="1.10" ry="30.00" fill="#3070ff" transform="rotate(7 165.7 95)" opacity="0.29476673585663155" filter="url(#b08)"/>
<ellipse cx="165.7" cy="130.0" rx="1.10" ry="9.00" fill="#2a70ff" transform="rotate(3 165.7 130)" opacity="0.09257700330094086" filter="url(#b08)"/>
<ellipse cx="165.2" cy="158.0" rx="1.10" ry="5.00" fill="#2a80ff" opacity="0.04695997289950213" filter="url(#b08)"/>
<ellipse cx="165.2" cy="146.0" rx="1.50" ry="11.00" fill="#2a86ff" transform="rotate(5 165.2 146)" opacity="0.08561241734283027" filter="url(#b08)"/>
<ellipse cx="174.2" cy="42.0" rx="1.10" ry="36.00" fill="#3068ff" transform="rotate(9 174.25 42)" opacity="0.3587491162992355" filter="url(#b08)"/>
<ellipse cx="170.8" cy="95.0" rx="1.10" ry="30.00" fill="#3070ff" transform="rotate(7 170.75 95)" opacity="0.38437405317775236" filter="url(#b08)"/>
<ellipse cx="170.8" cy="130.0" rx="1.10" ry="9.00" fill="#2a70ff" transform="rotate(3 170.75 130)" opacity="0.1531001777789787" filter="url(#b08)"/>
<ellipse cx="170.2" cy="158.0" rx="1.10" ry="5.00" fill="#2a80ff" opacity="0.08876304496804929" filter="url(#b08)"/>
<ellipse cx="170.2" cy="146.0" rx="1.50" ry="11.00" fill="#2a86ff" transform="rotate(5 170.25 146)" opacity="0.15556318985947343" filter="url(#b08)"/>
<ellipse cx="179.3" cy="42.0" rx="1.10" ry="36.00" fill="#3068ff" transform="rotate(9 179.3 42)" opacity="0.4475462963171952" filter="url(#b08)"/>
<ellipse cx="175.8" cy="95.0" rx="1.10" ry="30.00" fill="#3070ff" transform="rotate(7 175.8 95)" opacity="0.47951388891128066" filter="url(#b08)"/>
<ellipse cx="175.8" cy="130.0" rx="1.10" ry="9.00" fill="#2a70ff" transform="rotate(3 175.8 130)" opacity="0.2340261220070226" filter="url(#b08)"/>
<ellipse cx="175.3" cy="158.0" rx="1.10" ry="5.00" fill="#2a80ff" opacity="0.15187017851266116" filter="url(#b08)"/>
<ellipse cx="175.3" cy="146.0" rx="1.50" ry="11.00" fill="#2a86ff" transform="rotate(5 175.3 146)" opacity="0.2558661749753225" filter="url(#b08)"/>
<ellipse cx="184.3" cy="42.0" rx="1.10" ry="36.00" fill="#3068ff" transform="rotate(9 184.35 42)" opacity="0.5341418808994214" filter="url(#b08)"/>
<ellipse cx="180.8" cy="95.0" rx="1.10" ry="30.00" fill="#3070ff" transform="rotate(7 180.85 95)" opacity="0.5722948723922373" filter="url(#b08)"/>
<ellipse cx="180.8" cy="130.0" rx="1.10" ry="9.00" fill="#2a70ff" transform="rotate(3 180.85 130)" opacity="0.3306503919990066" filter="url(#b08)"/>
<ellipse cx="180.3" cy="158.0" rx="1.10" ry="5.00" fill="#2a80ff" opacity="0.2352062033842491" filter="url(#b08)"/>
<ellipse cx="180.3" cy="146.0" rx="1.50" ry="11.00" fill="#2a86ff" transform="rotate(5 180.35 146)" opacity="0.38093850284035974" filter="url(#b08)"/>
<ellipse cx="189.4" cy="42.0" rx="1.10" ry="36.00" fill="#3068ff" transform="rotate(9 189.4 42)" opacity="0.6098834266446176" filter="url(#b08)"/>
<ellipse cx="185.9" cy="95.0" rx="1.10" ry="30.00" fill="#3070ff" transform="rotate(7 185.9 95)" opacity="0.6534465285478046" filter="url(#b08)"/>
<ellipse cx="185.9" cy="130.0" rx="1.10" ry="9.00" fill="#2a70ff" transform="rotate(3 185.9 130)" opacity="0.43180713333079357" filter="url(#b08)"/>
<ellipse cx="185.4" cy="158.0" rx="1.10" ry="5.00" fill="#2a80ff" opacity="0.32973192420216296" filter="url(#b08)"/>
<ellipse cx="185.4" cy="146.0" rx="1.50" ry="11.00" fill="#2a86ff" transform="rotate(5 185.4 146)" opacity="0.513372760543355" filter="url(#b08)"/>
<ellipse cx="194.4" cy="42.0" rx="1.10" ry="36.00" fill="#3068ff" transform="rotate(9 194.45 42)" opacity="0.6662060441124407" filter="url(#b08)"/>
<ellipse cx="190.9" cy="95.0" rx="1.10" ry="30.00" fill="#3070ff" transform="rotate(7 190.95 95)" opacity="0.7137921901204722" filter="url(#b08)"/>
<ellipse cx="190.9" cy="130.0" rx="1.10" ry="9.00" fill="#2a70ff" transform="rotate(3 190.95 130)" opacity="0.5212266919609103" filter="url(#b08)"/>
<ellipse cx="190.4" cy="158.0" rx="1.10" ry="5.00" fill="#2a80ff" opacity="0.4184168630560089" filter="url(#b08)"/>
<ellipse cx="190.4" cy="146.0" rx="1.50" ry="11.00" fill="#2a86ff" transform="rotate(5 190.45 146)" opacity="0.6262485438651263" filter="url(#b08)"/>
<ellipse cx="199.5" cy="42.0" rx="1.10" ry="36.00" fill="#3068ff" transform="rotate(9 199.5 42)" opacity="0.6962125403763452" filter="url(#b08)"/>
<ellipse cx="196.0" cy="95.0" rx="1.10" ry="30.00" fill="#3070ff" transform="rotate(7 196.0 95)" opacity="0.7459420075460842" filter="url(#b08)"/>
<ellipse cx="196.0" cy="130.0" rx="1.10" ry="9.00" fill="#2a70ff" transform="rotate(3 196.0 130)" opacity="0.5815399406858065" filter="url(#b08)"/>
<ellipse cx="195.5" cy="158.0" rx="1.10" ry="5.00" fill="#2a80ff" opacity="0.48061057037007826" filter="url(#b08)"/>
<ellipse cx="195.5" cy="146.0" rx="1.50" ry="11.00" fill="#2a86ff" transform="rotate(5 195.5 146)" opacity="0.6915070206198002" filter="url(#b08)"/>
<ellipse cx="204.6" cy="42.0" rx="1.10" ry="36.00" fill="#3068ff" transform="rotate(9 204.55 42)" opacity="0.6960599584299296" filter="url(#b08)"/>
<ellipse cx="201.1" cy="95.0" rx="1.10" ry="30.00" fill="#3070ff" transform="rotate(7 201.05 95)" opacity="0.7457785268892104" filter="url(#b08)"/>
<ellipse cx="201.1" cy="130.0" rx="1.10" ry="9.00" fill="#2a70ff" transform="rotate(3 201.05 130)" opacity="0.5997199727737859" filter="url(#b08)"/>
<ellipse cx="200.6" cy="158.0" rx="1.10" ry="5.00" fill="#2a80ff" opacity="0.4997046770937265" filter="url(#b08)"/>
<ellipse cx="200.6" cy="146.0" rx="1.50" ry="11.00" fill="#2a86ff" transform="rotate(5 200.55 146)" opacity="0.6911660782854274" filter="url(#b08)"/>
<ellipse cx="209.6" cy="42.0" rx="1.10" ry="36.00" fill="#3068ff" transform="rotate(9 209.6 42)" opacity="0.6657681229339759" filter="url(#b08)"/>
<ellipse cx="206.1" cy="95.0" rx="1.10" ry="30.00" fill="#3070ff" transform="rotate(7 206.1 95)" opacity="0.7133229888578314" filter="url(#b08)"/>
<ellipse cx="206.1" cy="130.0" rx="1.10" ry="9.00" fill="#2a70ff" transform="rotate(3 206.1 130)" opacity="0.5716543888595926" filter="url(#b08)"/>
<ellipse cx="205.6" cy="158.0" rx="1.10" ry="5.00" fill="#2a80ff" opacity="0.4702940316821711" filter="url(#b08)"/>
<ellipse cx="205.6" cy="146.0" rx="1.50" ry="11.00" fill="#2a86ff" transform="rotate(5 205.6 146)" opacity="0.6253226990959778" filter="url(#b08)"/>
<ellipse cx="214.6" cy="42.0" rx="1.10" ry="36.00" fill="#3068ff" transform="rotate(9 214.64999999999998 42)" opacity="0.6092154092287128" filter="url(#b08)"/>
<ellipse cx="211.1" cy="95.0" rx="1.10" ry="30.00" fill="#3070ff" transform="rotate(7 211.14999999999998 95)" opacity="0.6527307956021923" filter="url(#b08)"/>
<ellipse cx="211.1" cy="130.0" rx="1.10" ry="9.00" fill="#2a70ff" transform="rotate(3 211.14999999999998 130)" opacity="0.5036567240772116" filter="url(#b08)"/>
<ellipse cx="210.6" cy="158.0" rx="1.10" ry="5.00" fill="#2a80ff" opacity="0.40064661447597494" filter="url(#b08)"/>
<ellipse cx="210.6" cy="146.0" rx="1.50" ry="11.00" fill="#2a86ff" transform="rotate(5 210.64999999999998 146)" opacity="0.512108435002943" filter="url(#b08)"/>
<ellipse cx="219.7" cy="42.0" rx="1.10" ry="36.00" fill="#3068ff" transform="rotate(9 219.7 42)" opacity="0.5333229816917363" filter="url(#b08)"/>
<ellipse cx="216.2" cy="95.0" rx="1.10" ry="30.00" fill="#3070ff" transform="rotate(7 216.2 95)" opacity="0.5714174803840032" filter="url(#b08)"/>
<ellipse cx="216.2" cy="130.0" rx="1.10" ry="9.00" fill="#2a70ff" transform="rotate(3 216.2 130)" opacity="0.4101585748078616" filter="url(#b08)"/>
<ellipse cx="215.7" cy="158.0" rx="1.10" ry="5.00" fill="#2a80ff" opacity="0.3089508853485333" filter="url(#b08)"/>
<ellipse cx="215.7" cy="146.0" rx="1.50" ry="11.00" fill="#2a86ff" transform="rotate(5 215.7 146)" opacity="0.379625713857958" filter="url(#b08)"/>
<ellipse cx="224.8" cy="42.0" rx="1.10" ry="36.00" fill="#3068ff" transform="rotate(9 224.75 42)" opacity="0.44666431153101194" filter="url(#b08)"/>
<ellipse cx="221.2" cy="95.0" rx="1.10" ry="30.00" fill="#3070ff" transform="rotate(7 221.25 95)" opacity="0.4785689052117985" filter="url(#b08)"/>
<ellipse cx="221.2" cy="130.0" rx="1.10" ry="9.00" fill="#2a70ff" transform="rotate(3 221.25 130)" opacity="0.3087343976527265" filter="url(#b08)"/>
<ellipse cx="220.8" cy="158.0" rx="1.10" ry="5.00" fill="#2a80ff" opacity="0.21565193924476014" filter="url(#b08)"/>
<ellipse cx="220.8" cy="146.0" rx="1.50" ry="11.00" fill="#2a86ff" transform="rotate(5 220.75 146)" opacity="0.25473303552125587" filter="url(#b08)"/>
<ellipse cx="229.8" cy="42.0" rx="1.10" ry="36.00" fill="#3068ff" transform="rotate(9 229.8 42)" opacity="0.35788520533390444" filter="url(#b08)"/>
<ellipse cx="226.3" cy="95.0" rx="1.10" ry="30.00" fill="#3070ff" transform="rotate(7 226.3 95)" opacity="0.3834484342863262" filter="url(#b08)"/>
<ellipse cx="226.3" cy="130.0" rx="1.10" ry="9.00" fill="#2a70ff" transform="rotate(3 226.3 130)" opacity="0.2148000151131596" filter="url(#b08)"/>
<ellipse cx="225.8" cy="158.0" rx="1.10" ry="5.00" fill="#2a80ff" opacity="0.13625525115968046" filter="url(#b08)"/>
<ellipse cx="225.8" cy="146.0" rx="1.50" ry="11.00" fill="#2a86ff" transform="rotate(5 225.8 146)" opacity="0.15472157480053464" filter="url(#b08)"/>
<ellipse cx="234.8" cy="42.0" rx="1.10" ry="36.00" fill="#3068ff" transform="rotate(9 234.85 42)" opacity="0.27433282356333966" filter="url(#b08)"/>
<ellipse cx="231.3" cy="95.0" rx="1.10" ry="30.00" fill="#3070ff" transform="rotate(7 231.35 95)" opacity="0.29392802524643535" filter="url(#b08)"/>
<ellipse cx="231.3" cy="130.0" rx="1.10" ry="9.00" fill="#2a70ff" transform="rotate(3 231.35 130)" opacity="0.1381337050797228" filter="url(#b08)"/>
<ellipse cx="230.8" cy="158.0" rx="1.10" ry="5.00" fill="#2a80ff" opacity="0.07792720257784677" filter="url(#b08)"/>
<ellipse cx="230.8" cy="146.0" rx="1.50" ry="11.00" fill="#2a86ff" transform="rotate(5 230.85 146)" opacity="0.08506530045834527" filter="url(#b08)"/>
<ellipse cx="239.9" cy="42.0" rx="1.10" ry="36.00" fill="#3068ff" transform="rotate(9 239.89999999999998 42)" opacity="0.20117932097471997" filter="url(#b08)"/>
<ellipse cx="236.4" cy="95.0" rx="1.10" ry="30.00" fill="#3070ff" transform="rotate(7 236.39999999999998 95)" opacity="0.21554927247291425" filter="url(#b08)"/>
<ellipse cx="236.4" cy="130.0" rx="1.10" ry="9.00" fill="#2a70ff" transform="rotate(3 236.39999999999998 130)" opacity="0.08210716910191664" filter="url(#b08)"/>
<ellipse cx="235.9" cy="158.0" rx="1.10" ry="5.00" fill="#2a80ff" opacity="0.040342321014393584" filter="url(#b08)"/>
<ellipse cx="235.9" cy="146.0" rx="1.50" ry="11.00" fill="#2a86ff" transform="rotate(5 235.89999999999998 146)" opacity="0.042334063843760046" filter="url(#b08)"/>
<ellipse cx="176.4" cy="150.4" rx="1.55" ry="6.60" fill="#30f0ff" transform="rotate(8 176.4 150.412)" opacity="0.10672607004541589" filter="url(#b08)"/>
<ellipse cx="176.4" cy="150.4" rx="0.80" ry="3.50" fill="#a0fff0" transform="rotate(8 176.4 150.412)" opacity="0.05821422002477229" filter="url(#b04)"/>
<ellipse cx="181.4" cy="149.3" rx="1.55" ry="6.60" fill="#30f0ff" transform="rotate(8 181.4 149.312)" opacity="0.27734589865763043" filter="url(#b08)"/>
<ellipse cx="181.4" cy="149.3" rx="0.80" ry="3.50" fill="#a0fff0" transform="rotate(8 181.4 149.312)" opacity="0.15127958108598022" filter="url(#b04)"/>
<ellipse cx="186.4" cy="148.2" rx="1.55" ry="6.60" fill="#30f0ff" transform="rotate(8 186.4 148.212)" opacity="0.5613055775750545" filter="url(#b08)"/>
<ellipse cx="186.4" cy="148.2" rx="0.80" ry="3.50" fill="#a0fff0" transform="rotate(8 186.4 148.212)" opacity="0.30616667867730246" filter="url(#b04)"/>
<ellipse cx="191.4" cy="147.1" rx="1.55" ry="6.60" fill="#30f0ff" transform="rotate(8 191.4 147.112)" opacity="0.8847149111223217" filter="url(#b08)"/>
<ellipse cx="191.4" cy="147.1" rx="0.80" ry="3.50" fill="#a0fff0" transform="rotate(8 191.4 147.112)" opacity="0.4825717697030845" filter="url(#b04)"/>
<ellipse cx="196.4" cy="146.0" rx="1.55" ry="6.60" fill="#30f0ff" transform="rotate(8 196.4 146.012)" filter="url(#b08)"/>
<ellipse cx="196.4" cy="146.0" rx="0.80" ry="3.50" fill="#a0fff0" transform="rotate(8 196.4 146.012)" opacity="0.5923689429541743" filter="url(#b04)"/>
<ellipse cx="201.4" cy="144.9" rx="1.55" ry="6.60" fill="#30f0ff" transform="rotate(8 201.4 144.912)" filter="url(#b08)"/>
<ellipse cx="201.4" cy="144.9" rx="0.80" ry="3.50" fill="#a0fff0" transform="rotate(8 201.4 144.912)" opacity="0.5663032177803257" filter="url(#b04)"/>
<ellipse cx="206.4" cy="143.8" rx="1.55" ry="6.60" fill="#30f0ff" transform="rotate(8 206.4 143.812)" opacity="0.7729894951552371" filter="url(#b08)"/>
<ellipse cx="206.4" cy="143.8" rx="0.80" ry="3.50" fill="#a0fff0" transform="rotate(8 206.4 143.812)" opacity="0.4216306337210384" filter="url(#b04)"/>
<ellipse cx="211.4" cy="142.7" rx="1.55" ry="6.60" fill="#30f0ff" transform="rotate(8 211.4 142.712)" opacity="0.44821160737378013" filter="url(#b08)"/>
<ellipse cx="211.4" cy="142.7" rx="0.80" ry="3.50" fill="#a0fff0" transform="rotate(8 211.4 142.712)" opacity="0.2444790585675164" filter="url(#b04)"/>
<ellipse cx="216.4" cy="141.6" rx="1.55" ry="6.60" fill="#30f0ff" transform="rotate(8 216.4 141.612)" opacity="0.20240395116449164" filter="url(#b08)"/>
<ellipse cx="216.4" cy="141.6" rx="0.80" ry="3.50" fill="#a0fff0" transform="rotate(8 216.4 141.612)" opacity="0.11040215518063179" filter="url(#b04)"/>
<ellipse cx="221.4" cy="140.5" rx="1.55" ry="6.60" fill="#30f0ff" transform="rotate(8 221.4 140.512)" opacity="0.0711838138343494" filter="url(#b08)"/>
<ellipse cx="221.4" cy="140.5" rx="0.80" ry="3.50" fill="#a0fff0" transform="rotate(8 221.4 140.512)" opacity="0.03882753481873603" filter="url(#b04)"/>
<ellipse cx="186.0" cy="134.0" rx="1.30" ry="5.50" fill="#2aa0ff" transform="rotate(8 186.0 134.0)" opacity="0.13157956526172393" filter="url(#b08)"/>
<ellipse cx="191.0" cy="133.2" rx="1.30" ry="5.50" fill="#2aa0ff" transform="rotate(8 191.0 133.25)" opacity="0.3002488790811197" filter="url(#b08)"/>
<ellipse cx="196.0" cy="132.5" rx="1.30" ry="5.50" fill="#2aa0ff" transform="rotate(8 196.0 132.5)" opacity="0.5335814486867795" filter="url(#b08)"/>
<ellipse cx="201.0" cy="131.8" rx="1.30" ry="5.50" fill="#2aa0ff" transform="rotate(8 201.0 131.75)" opacity="0.7384930771093087" filter="url(#b08)"/>
<ellipse cx="206.0" cy="131.0" rx="1.30" ry="5.50" fill="#2aa0ff" transform="rotate(8 206.0 131.0)" opacity="0.7960099833541459" filter="url(#b08)"/>
<ellipse cx="211.0" cy="130.2" rx="1.30" ry="5.50" fill="#2aa0ff" transform="rotate(8 211.0 130.25)" opacity="0.6682161691290176" filter="url(#b08)"/>
<ellipse cx="216.0" cy="129.5" rx="1.30" ry="5.50" fill="#2aa0ff" transform="rotate(8 216.0 129.5)" opacity="0.4368595413117675" filter="url(#b08)"/>
<ellipse cx="221.0" cy="128.8" rx="1.30" ry="5.50" fill="#2aa0ff" transform="rotate(8 221.0 128.75)" opacity="0.22242984036255528" filter="url(#b08)"/>
<ellipse cx="226.0" cy="128.0" rx="1.30" ry="5.50" fill="#2aa0ff" transform="rotate(8 226.0 128.0)" opacity="0.08820042024358818" filter="url(#b08)"/>
<ellipse cx="171.3" cy="169.4" rx="1.70" ry="5.80" fill="#40f0a0" transform="rotate(-18 171.3 169.44899999999998)" filter="url(#b08)"/>
<ellipse cx="171.3" cy="169.4" rx="0.90" ry="3.00" fill="#b0fff0" transform="rotate(-18 171.3 169.44899999999998)" opacity="0.5" filter="url(#b04)"/>
<ellipse cx="176.3" cy="168.6" rx="1.70" ry="5.80" fill="#40f0a0" transform="rotate(-18 176.3 168.599)" filter="url(#b08)"/>
<ellipse cx="176.3" cy="168.6" rx="0.90" ry="3.00" fill="#b0fff0" transform="rotate(-18 176.3 168.599)" opacity="0.5" filter="url(#b04)"/>
<ellipse cx="181.3" cy="167.7" rx="1.70" ry="5.80" fill="#30f0e8" transform="rotate(-18 181.3 167.749)" filter="url(#b08)"/>
<ellipse cx="181.3" cy="167.7" rx="0.90" ry="3.00" fill="#b0fff0" transform="rotate(-18 181.3 167.749)" opacity="0.5" filter="url(#b04)"/>
<ellipse cx="186.3" cy="166.9" rx="1.70" ry="5.80" fill="#30f0e8" transform="rotate(-18 186.3 166.899)" filter="url(#b08)"/>
<ellipse cx="186.3" cy="166.9" rx="0.90" ry="3.00" fill="#b0fff0" transform="rotate(-18 186.3 166.899)" opacity="0.5" filter="url(#b04)"/>
<ellipse cx="191.3" cy="166.0" rx="1.70" ry="5.80" fill="#30f0e8" transform="rotate(-18 191.3 166.049)" filter="url(#b08)"/>
<ellipse cx="191.3" cy="166.0" rx="0.90" ry="3.00" fill="#b0fff0" transform="rotate(-18 191.3 166.049)" opacity="0.5" filter="url(#b04)"/>
<ellipse cx="196.3" cy="165.2" rx="1.70" ry="5.80" fill="#30c0ff" transform="rotate(-18 196.3 165.199)" opacity="0.804545454545454" filter="url(#b08)"/>
<ellipse cx="196.3" cy="165.2" rx="0.90" ry="3.00" fill="#b0fff0" transform="rotate(-18 196.3 165.199)" opacity="0.402272727272727" filter="url(#b04)"/>
<ellipse cx="201.3" cy="164.3" rx="1.70" ry="5.80" fill="#30c0ff" transform="rotate(-18 201.3 164.349)" opacity="0.5772727272727267" filter="url(#b08)"/>
<ellipse cx="201.3" cy="164.3" rx="0.90" ry="3.00" fill="#b0fff0" transform="rotate(-18 201.3 164.349)" opacity="0.28863636363636336" filter="url(#b04)"/>
<ellipse cx="206.3" cy="163.5" rx="1.70" ry="5.80" fill="#30c0ff" transform="rotate(-18 206.3 163.499)" opacity="0.34999999999999953" filter="url(#b08)"/>
<ellipse cx="206.3" cy="163.5" rx="0.90" ry="3.00" fill="#b0fff0" transform="rotate(-18 206.3 163.499)" opacity="0.17499999999999977" filter="url(#b04)"/>
<ellipse cx="211.3" cy="162.6" rx="1.70" ry="5.80" fill="#30c0ff" transform="rotate(-18 211.3 162.649)" opacity="0.15" filter="url(#b08)"/>
<ellipse cx="211.3" cy="162.6" rx="0.90" ry="3.00" fill="#b0fff0" transform="rotate(-18 211.3 162.649)" opacity="0.075" filter="url(#b04)"/>
<ellipse cx="216.3" cy="161.8" rx="1.70" ry="5.80" fill="#30c0ff" transform="rotate(-18 216.3 161.799)" opacity="0.15" filter="url(#b08)"/>
<ellipse cx="216.3" cy="161.8" rx="0.90" ry="3.00" fill="#b0fff0" transform="rotate(-18 216.3 161.799)" opacity="0.075" filter="url(#b04)"/>
<ellipse cx="145.0" cy="211.0" rx="1.30" ry="11.00" fill="#2a80ff" transform="rotate(-8 145.0 211)" opacity="0.018235344706889877" filter="url(#b08)"/>
<ellipse cx="145.0" cy="229.0" rx="1.30" ry="11.00" fill="#2a84ff" transform="rotate(-10 145.0 229)" opacity="0.0037341354573509978" filter="url(#b08)"/>
<ellipse cx="146.0" cy="247.0" rx="1.20" ry="9.00" fill="#2a84ff" transform="rotate(-6 146.0 247)" opacity="0.001380860192143378" filter="url(#b08)"/>
<ellipse cx="150.1" cy="211.0" rx="1.30" ry="11.00" fill="#2a80ff" transform="rotate(-8 150.05 211)" opacity="0.03536980898308136" filter="url(#b08)"/>
<ellipse cx="150.1" cy="229.0" rx="1.30" ry="11.00" fill="#2a84ff" transform="rotate(-10 150.05 229)" opacity="0.009341501628469683" filter="url(#b08)"/>
<ellipse cx="151.1" cy="247.0" rx="1.20" ry="9.00" fill="#2a84ff" transform="rotate(-6 151.05 247)" opacity="0.0037698211758648466" filter="url(#b08)"/>
<ellipse cx="155.1" cy="211.0" rx="1.30" ry="11.00" fill="#2a80ff" transform="rotate(-8 155.1 211)" opacity="0.06436688080858713" filter="url(#b08)"/>
<ellipse cx="155.1" cy="229.0" rx="1.30" ry="11.00" fill="#2a84ff" transform="rotate(-10 155.1 229)" opacity="0.02139535325105774" filter="url(#b08)"/>
<ellipse cx="156.1" cy="247.0" rx="1.20" ry="9.00" fill="#2a84ff" transform="rotate(-6 156.1 247)" opacity="0.009422538729735048" filter="url(#b08)"/>
<ellipse cx="160.2" cy="211.0" rx="1.30" ry="11.00" fill="#2a80ff" transform="rotate(-8 160.15 211)" opacity="0.10990140027321352" filter="url(#b08)"/>
<ellipse cx="160.2" cy="229.0" rx="1.30" ry="11.00" fill="#2a84ff" transform="rotate(-10 160.15 229)" opacity="0.044864039121648616" filter="url(#b08)"/>
<ellipse cx="161.2" cy="247.0" rx="1.20" ry="9.00" fill="#2a84ff" transform="rotate(-6 161.15 247)" opacity="0.021562109866485397" filter="url(#b08)"/>
<ellipse cx="165.2" cy="211.0" rx="1.30" ry="11.00" fill="#2a80ff" transform="rotate(-8 165.2 211)" opacity="0.17605769039583652" filter="url(#b08)"/>
<ellipse cx="165.2" cy="229.0" rx="1.30" ry="11.00" fill="#2a84ff" transform="rotate(-10 165.2 229)" opacity="0.08612979662556323" filter="url(#b08)"/>
<ellipse cx="166.2" cy="247.0" rx="1.20" ry="9.00" fill="#2a84ff" transform="rotate(-6 166.2 247)" opacity="0.04517422594868763" filter="url(#b08)"/>
<ellipse cx="170.2" cy="193.0" rx="1.30" ry="7.50" fill="#28c8ff" transform="rotate(-4 170.25 193)" opacity="0.1508971764456838" filter="url(#b08)"/>
<ellipse cx="170.2" cy="211.0" rx="1.30" ry="11.00" fill="#2a80ff" transform="rotate(-8 170.25 211)" opacity="0.26461702781905183" filter="url(#b08)"/>
<ellipse cx="170.2" cy="229.0" rx="1.30" ry="11.00" fill="#2a84ff" transform="rotate(-10 170.25 229)" opacity="0.1513856167809211" filter="url(#b08)"/>
<ellipse cx="171.2" cy="247.0" rx="1.20" ry="9.00" fill="#2a84ff" transform="rotate(-6 171.25 247)" opacity="0.08664955300613546" filter="url(#b08)"/>
<ellipse cx="175.3" cy="193.0" rx="1.30" ry="7.50" fill="#28c8ff" transform="rotate(-4 175.3 193)" opacity="0.25817930347152396" filter="url(#b08)"/>
<ellipse cx="175.3" cy="211.0" rx="1.30" ry="11.00" fill="#2a80ff" transform="rotate(-8 175.3 211)" opacity="0.37315699442293376" filter="url(#b08)"/>
<ellipse cx="175.3" cy="228.5" rx="1.40" ry="7.50" fill="#38f0ff" transform="rotate(-14 175.3 228.5)" opacity="0.07810588911360089" filter="url(#b08)"/>
<ellipse cx="175.3" cy="228.5" rx="0.80" ry="4.00" fill="#a0fff0" transform="rotate(-14 175.3 228.5)" opacity="0.03550267686981858" filter="url(#b04)"/>
<ellipse cx="175.3" cy="229.0" rx="1.30" ry="11.00" fill="#2a84ff" transform="rotate(-10 175.3 229)" opacity="0.24360822603971566" filter="url(#b08)"/>
<ellipse cx="176.3" cy="247.0" rx="1.20" ry="9.00" fill="#2a84ff" transform="rotate(-6 176.3 247)" opacity="0.15216615801094718" filter="url(#b08)"/>
<ellipse cx="180.3" cy="193.0" rx="1.30" ry="7.50" fill="#28c8ff" transform="rotate(-4 180.35 193)" opacity="0.3998505457532235" filter="url(#b08)"/>
<ellipse cx="180.3" cy="211.0" rx="1.30" ry="11.00" fill="#2a80ff" transform="rotate(-8 180.35 211)" opacity="0.4937150864204151" filter="url(#b08)"/>
<ellipse cx="180.3" cy="228.5" rx="1.40" ry="7.50" fill="#38f0ff" transform="rotate(-14 180.35 228.5)" opacity="0.24254764731148748" filter="url(#b08)"/>
<ellipse cx="180.3" cy="228.5" rx="0.80" ry="4.00" fill="#a0fff0" transform="rotate(-14 180.35 228.5)" opacity="0.11024893059613067" filter="url(#b04)"/>
<ellipse cx="180.3" cy="229.0" rx="1.30" ry="11.00" fill="#2a84ff" transform="rotate(-10 180.35 229)" opacity="0.3589016258097099" filter="url(#b08)"/>
<ellipse cx="181.3" cy="247.0" rx="1.20" ry="9.00" fill="#2a84ff" transform="rotate(-6 181.35 247)" opacity="0.24465042013982932" filter="url(#b08)"/>
<ellipse cx="185.4" cy="193.0" rx="1.30" ry="7.50" fill="#28c8ff" transform="rotate(-4 185.4 193)" opacity="0.560544271143677" filter="url(#b08)"/>
<ellipse cx="185.4" cy="211.0" rx="1.30" ry="11.00" fill="#2a80ff" transform="rotate(-8 185.4 211)" opacity="0.6128754459871733" filter="url(#b08)"/>
<ellipse cx="185.4" cy="228.5" rx="1.40" ry="7.50" fill="#38f0ff" transform="rotate(-14 185.4 228.5)" opacity="0.5497618650733351" filter="url(#b08)"/>
<ellipse cx="185.4" cy="228.5" rx="0.80" ry="4.00" fill="#a0fff0" transform="rotate(-14 185.4 228.5)" opacity="0.24989175685151596" filter="url(#b04)"/>
<ellipse cx="185.4" cy="229.0" rx="1.30" ry="11.00" fill="#2a84ff" transform="rotate(-10 185.4 229)" opacity="0.48409995679994233" filter="url(#b08)"/>
<ellipse cx="186.4" cy="247.0" rx="1.20" ry="9.00" fill="#2a84ff" transform="rotate(-6 186.4 247)" opacity="0.3601222859058446" filter="url(#b08)"/>
<ellipse cx="190.4" cy="193.0" rx="1.30" ry="7.50" fill="#28c8ff" transform="rotate(-4 190.45 193)" opacity="0.7113086671952151" filter="url(#b08)"/>
<ellipse cx="190.4" cy="211.0" rx="1.30" ry="11.00" fill="#2a80ff" transform="rotate(-8 190.45 211)" opacity="0.7138041340645223" filter="url(#b08)"/>
<ellipse cx="190.4" cy="228.5" rx="1.40" ry="7.50" fill="#38f0ff" transform="rotate(-14 190.45 228.5)" opacity="0.9095287151321739" filter="url(#b08)"/>
<ellipse cx="190.4" cy="228.5" rx="0.80" ry="4.00" fill="#a0fff0" transform="rotate(-14 190.45 228.5)" opacity="0.4134221432418972" filter="url(#b04)"/>
<ellipse cx="190.4" cy="229.0" rx="1.30" ry="11.00" fill="#2a84ff" transform="rotate(-10 190.45 229)" opacity="0.5978205005909503" filter="url(#b08)"/>
<ellipse cx="191.4" cy="247.0" rx="1.20" ry="9.00" fill="#2a84ff" transform="rotate(-6 191.45 247)" opacity="0.4853222163749535" filter="url(#b08)"/>
<ellipse cx="195.5" cy="193.0" rx="1.30" ry="7.50" fill="#28c8ff" transform="rotate(-4 195.5 193)" opacity="0.817037969629133" filter="url(#b08)"/>
<ellipse cx="195.5" cy="211.0" rx="1.30" ry="11.00" fill="#2a80ff" transform="rotate(-8 195.5 211)" opacity="0.7800041402387343" filter="url(#b08)"/>
<ellipse cx="195.5" cy="228.5" rx="1.40" ry="7.50" fill="#38f0ff" transform="rotate(-14 195.5 228.5)" filter="url(#b08)"/>
<ellipse cx="195.5" cy="228.5" rx="0.80" ry="4.00" fill="#a0fff0" transform="rotate(-14 195.5 228.5)" opacity="0.49922899012976485" filter="url(#b04)"/>
<ellipse cx="195.5" cy="229.0" rx="1.30" ry="11.00" fill="#2a84ff" transform="rotate(-10 195.5 229)" opacity="0.675900403418451" filter="url(#b08)"/>
<ellipse cx="196.5" cy="247.0" rx="1.20" ry="9.00" fill="#2a84ff" transform="rotate(-6 196.5 247)" opacity="0.598806475449722" filter="url(#b08)"/>
<ellipse cx="200.6" cy="193.0" rx="1.30" ry="7.50" fill="#28c8ff" transform="rotate(-4 200.55 193)" opacity="0.849497951059335" filter="url(#b08)"/>
<ellipse cx="200.6" cy="211.0" rx="1.30" ry="11.00" fill="#2a80ff" transform="rotate(-8 200.55 211)" opacity="0.7996975571841984" filter="url(#b08)"/>
<ellipse cx="200.6" cy="228.5" rx="1.40" ry="7.50" fill="#38f0ff" transform="rotate(-14 200.55 228.5)" opacity="0.9680388772417556" filter="url(#b08)"/>
<ellipse cx="200.6" cy="228.5" rx="0.80" ry="4.00" fill="#a0fff0" transform="rotate(-14 200.55 228.5)" opacity="0.4400176714735253" filter="url(#b04)"/>
<ellipse cx="200.6" cy="229.0" rx="1.30" ry="11.00" fill="#2a84ff" transform="rotate(-10 200.55 229)" opacity="0.6996337463679824" filter="url(#b08)"/>
<ellipse cx="201.6" cy="247.0" rx="1.20" ry="9.00" fill="#2a84ff" transform="rotate(-6 201.55 247)" opacity="0.6764239026370766" filter="url(#b08)"/>
<ellipse cx="205.6" cy="193.0" rx="1.30" ry="7.50" fill="#28c8ff" transform="rotate(-4 205.6 193)" opacity="0.7994998538596908" filter="url(#b08)"/>
<ellipse cx="205.6" cy="211.0" rx="1.30" ry="11.00" fill="#2a80ff" transform="rotate(-8 205.6 211)" opacity="0.7692467025906156" filter="url(#b08)"/>
<ellipse cx="205.6" cy="228.5" rx="1.40" ry="7.50" fill="#38f0ff" transform="rotate(-14 205.6 228.5)" opacity="0.6227695644689178" filter="url(#b08)"/>
<ellipse cx="205.6" cy="228.5" rx="0.80" ry="4.00" fill="#a0fff0" transform="rotate(-14 205.6 228.5)" opacity="0.283077074758599" filter="url(#b04)"/>
<ellipse cx="205.6" cy="229.0" rx="1.30" ry="11.00" fill="#2a84ff" transform="rotate(-10 205.6 229)" opacity="0.6630326797400454" filter="url(#b08)"/>
<ellipse cx="206.6" cy="247.0" rx="1.20" ry="9.00" fill="#2a84ff" transform="rotate(-6 206.6 247)" opacity="0.6995641495868828" filter="url(#b08)"/>
<ellipse cx="210.6" cy="193.0" rx="1.30" ry="7.50" fill="#28c8ff" transform="rotate(-4 210.64999999999998 193)" opacity="0.6810992446091574" filter="url(#b08)"/>
<ellipse cx="210.6" cy="211.0" rx="1.30" ry="11.00" fill="#2a80ff" transform="rotate(-8 210.64999999999998 211)" opacity="0.6942510250477042" filter="url(#b08)"/>
<ellipse cx="210.6" cy="228.5" rx="1.40" ry="7.50" fill="#38f0ff" transform="rotate(-14 210.64999999999998 228.5)" opacity="0.29243289217068624" filter="url(#b08)"/>
<ellipse cx="210.6" cy="228.5" rx="0.80" ry="4.00" fill="#a0fff0" transform="rotate(-14 210.64999999999998 228.5)" opacity="0.13292404189576645" filter="url(#b04)"/>
<ellipse cx="210.6" cy="229.0" rx="1.30" ry="11.00" fill="#2a84ff" transform="rotate(-10 210.64999999999998 229)" opacity="0.5752746828767695" filter="url(#b08)"/>
<ellipse cx="211.6" cy="247.0" rx="1.20" ry="9.00" fill="#2a84ff" transform="rotate(-6 211.64999999999998 247)" opacity="0.6623877412210586" filter="url(#b08)"/>
<ellipse cx="215.7" cy="193.0" rx="1.30" ry="7.50" fill="#28c8ff" transform="rotate(-4 215.7 193)" opacity="0.5252165050925066" filter="url(#b08)"/>
<ellipse cx="215.7" cy="211.0" rx="1.30" ry="11.00" fill="#2a80ff" transform="rotate(-8 215.7 211)" opacity="0.5878661157490037" filter="url(#b08)"/>
<ellipse cx="215.7" cy="228.5" rx="1.40" ry="7.50" fill="#38f0ff" transform="rotate(-14 215.7 228.5)" opacity="0.10022805854356429" filter="url(#b08)"/>
<ellipse cx="215.7" cy="228.5" rx="0.80" ry="4.00" fill="#a0fff0" transform="rotate(-14 215.7 228.5)" opacity="0.045558208428892855" filter="url(#b04)"/>
<ellipse cx="215.7" cy="229.0" rx="1.30" ry="11.00" fill="#2a84ff" transform="rotate(-10 215.7 229)" opacity="0.45697425195241825" filter="url(#b08)"/>
<ellipse cx="216.7" cy="247.0" rx="1.20" ry="9.00" fill="#2a84ff" transform="rotate(-6 216.7 247)" opacity="0.574213196749861" filter="url(#b08)"/>
<ellipse cx="220.8" cy="193.0" rx="1.30" ry="7.50" fill="#28c8ff" transform="rotate(-4 220.75 193)" opacity="0.36660829671609224" filter="url(#b08)"/>
<ellipse cx="220.8" cy="211.0" rx="1.30" ry="11.00" fill="#2a80ff" transform="rotate(-8 220.75 211)" opacity="0.46703705558461517" filter="url(#b08)"/>
<ellipse cx="220.8" cy="229.0" rx="1.30" ry="11.00" fill="#2a84ff" transform="rotate(-10 220.75 229)" opacity="0.33234132062245836" filter="url(#b08)"/>
<ellipse cx="221.8" cy="247.0" rx="1.20" ry="9.00" fill="#2a84ff" transform="rotate(-6 221.75 247)" opacity="0.45573270281649764" filter="url(#b08)"/>
<ellipse cx="225.8" cy="193.0" rx="1.30" ry="7.50" fill="#28c8ff" transform="rotate(-4 225.8 193)" opacity="0.23163392697145677" filter="url(#b08)"/>
<ellipse cx="225.8" cy="211.0" rx="1.30" ry="11.00" fill="#2a80ff" transform="rotate(-8 225.8 211)" opacity="0.34812504072588535" filter="url(#b08)"/>
<ellipse cx="225.8" cy="229.0" rx="1.30" ry="11.00" fill="#2a84ff" transform="rotate(-10 225.8 229)" opacity="0.22128556958791679" filter="url(#b08)"/>
<ellipse cx="226.8" cy="247.0" rx="1.20" ry="9.00" fill="#2a84ff" transform="rotate(-6 226.8 247)" opacity="0.33114893349531566" filter="url(#b08)"/>
<ellipse cx="230.8" cy="193.0" rx="1.30" ry="7.50" fill="#28c8ff" transform="rotate(-4 230.85 193)" opacity="0.13247624438233951" filter="url(#b08)"/>
<ellipse cx="230.8" cy="211.0" rx="1.30" ry="11.00" fill="#2a80ff" transform="rotate(-8 230.85 211)" opacity="0.2434614472976717" filter="url(#b08)"/>
<ellipse cx="230.8" cy="229.0" rx="1.30" ry="11.00" fill="#2a84ff" transform="rotate(-10 230.85 229)" opacity="0.13489566331887634" filter="url(#b08)"/>
<ellipse cx="231.8" cy="247.0" rx="1.20" ry="9.00" fill="#2a84ff" transform="rotate(-6 231.85 247)" opacity="0.22029907266621207" filter="url(#b08)"/>
<ellipse cx="235.9" cy="193.0" rx="1.30" ry="7.50" fill="#28c8ff" transform="rotate(-4 235.89999999999998 193)" opacity="0.06858194572446909" filter="url(#b08)"/>
<ellipse cx="235.9" cy="211.0" rx="1.30" ry="11.00" fill="#2a80ff" transform="rotate(-8 235.89999999999998 211)" opacity="0.15974826423147315" filter="url(#b08)"/>
<ellipse cx="235.9" cy="229.0" rx="1.30" ry="11.00" fill="#2a84ff" transform="rotate(-10 235.89999999999998 229)" opacity="0.0752868322155133" filter="url(#b08)"/>
<ellipse cx="236.9" cy="247.0" rx="1.20" ry="9.00" fill="#2a84ff" transform="rotate(-6 236.89999999999998 247)" opacity="0.1341770128756561" filter="url(#b08)"/>
<linearGradient id="bg1" gradientUnits="userSpaceOnUse" x1="236" y1="0" x2="286" y2="0"><stop offset="0.000" stop-color="#3358ff"/><stop offset="1.000" stop-color="#3358ff"/></linearGradient>
<polygon points="236.0,106.65 286.0,106.65 286.0,107.55 236.0,107.55" fill="url(#bg1)" filter="url(#b04)" opacity="0.6"/>
<linearGradient id="bg2" gradientUnits="userSpaceOnUse" x1="40" y1="0" x2="286" y2="0"><stop offset="0.000" stop-color="#4c84ff"/><stop offset="0.447" stop-color="#4078ff"/><stop offset="0.780" stop-color="#4a88ff"/><stop offset="1.000" stop-color="#4070ff"/></linearGradient>
<polygon points="40.0,113.20 150.0,113.25 232.0,113.40 286.0,113.45 286.0,114.55 232.0,114.60 150.0,114.55 40.0,114.60" fill="url(#bg2)" filter="url(#b04)"/>
<linearGradient id="bg3" gradientUnits="userSpaceOnUse" x1="40" y1="0" x2="286" y2="0"><stop offset="0.000" stop-color="#50d0e0"/><stop offset="0.325" stop-color="#40c0e8"/><stop offset="0.650" stop-color="#4090ff"/><stop offset="0.764" stop-color="#6a40e0"/><stop offset="1.000" stop-color="#9a1cb8"/></linearGradient>
<polygon points="40.0,129.15 120.0,129.25 200.0,129.30 228.0,129.40 286.0,129.40 286.0,130.40 228.0,130.40 200.0,130.50 120.0,130.75 40.0,130.85" fill="url(#bg3)" filter="url(#b04)"/>
<linearGradient id="bg4" gradientUnits="userSpaceOnUse" x1="40" y1="0" x2="200" y2="0"><stop offset="0.000" stop-color="#2060ff"/><stop offset="1.000" stop-color="#1a40ff"/></linearGradient>
<polygon points="40.0,128.40 200.0,128.70 200.0,131.70 40.0,132.00" fill="url(#bg4)" filter="url(#b08)" opacity="0.5"/>
<linearGradient id="bg5" gradientUnits="userSpaceOnUse" x1="40" y1="0" x2="200" y2="0"><stop offset="0.000" stop-color="#0000a0"/><stop offset="1.000" stop-color="#0000c8"/></linearGradient>
<polygon points="40.0,131.70 200.0,131.70 200.0,132.70 40.0,132.70" fill="url(#bg5)" filter="url(#b04)" opacity="0.7"/>
<linearGradient id="bg6" gradientUnits="userSpaceOnUse" x1="40" y1="0" x2="182" y2="0"><stop offset="0.000" stop-color="#000018"/><stop offset="0.458" stop-color="#000010"/><stop offset="0.704" stop-color="#000008"/><stop offset="0.894" stop-color="#000010"/><stop offset="1.000" stop-color="#000060"/></linearGradient>
<polygon points="40.0,172.60 105.0,172.50 140.0,173.00 167.0,173.60 182.0,175.60 182.0,185.60 167.0,187.00 140.0,186.00 105.0,185.10 40.0,184.20" fill="url(#bg6)" filter="url(#b04)"/>
<linearGradient id="bg7" gradientUnits="userSpaceOnUse" x1="40" y1="0" x2="150" y2="0"><stop offset="0.000" stop-color="#2050ff"/><stop offset="0.636" stop-color="#2050ff"/><stop offset="1.000" stop-color="#0000ff"/></linearGradient>
<polygon points="40.0,161.30 110.0,160.00 150.0,158.00 150.0,159.00 110.0,161.00 40.0,162.30" fill="url(#bg7)" filter="url(#b04)" opacity="0.8"/>
<linearGradient id="bg8" gradientUnits="userSpaceOnUse" x1="40" y1="0" x2="184" y2="0"><stop offset="0.000" stop-color="#2a80ff"/><stop offset="0.451" stop-color="#3090ff"/><stop offset="0.694" stop-color="#30a8ff"/><stop offset="0.882" stop-color="#2a90ff"/><stop offset="1.000" stop-color="#0000ff"/></linearGradient>
<polygon points="40.0,165.30 105.0,163.80 140.0,164.15 167.0,161.25 184.0,158.40 184.0,159.60 167.0,162.75 140.0,165.85 105.0,165.40 40.0,166.70" fill="url(#bg8)" filter="url(#b04)"/>
<linearGradient id="bg9" gradientUnits="userSpaceOnUse" x1="40" y1="0" x2="178" y2="0"><stop offset="0.000" stop-color="#0000a0"/><stop offset="0.471" stop-color="#0000a0"/><stop offset="0.725" stop-color="#000080"/><stop offset="0.870" stop-color="#000090"/><stop offset="1.000" stop-color="#0000ff"/></linearGradient>
<polygon points="40.0,166.90 105.0,165.70 140.0,166.00 160.0,165.00 178.0,163.30 178.0,164.30 160.0,166.20 140.0,167.20 105.0,166.70 40.0,167.70" fill="url(#bg9)" filter="url(#b04)" opacity="0.9"/>
<linearGradient id="bg10" gradientUnits="userSpaceOnUse" x1="40" y1="0" x2="185" y2="0"><stop offset="0.000" stop-color="#20b4c8"/><stop offset="0.448" stop-color="#20ccb0"/><stop offset="0.690" stop-color="#28e0a0"/><stop offset="0.828" stop-color="#30f080"/><stop offset="0.910" stop-color="#38f080"/><stop offset="0.959" stop-color="#30f0b0"/><stop offset="1.000" stop-color="#2080ff"/></linearGradient>
<polygon points="40.0,167.90 105.0,166.80 140.0,166.80 160.0,165.70 172.0,165.20 179.0,165.90 185.0,167.80 185.0,169.80 179.0,171.30 172.0,171.60 160.0,170.90 140.0,170.60 105.0,169.00 40.0,169.50" fill="url(#bg10)" filter="url(#b04)"/>
<linearGradient id="bg11" gradientUnits="userSpaceOnUse" x1="40" y1="0" x2="130" y2="0"><stop offset="0.000" stop-color="#000090"/><stop offset="0.722" stop-color="#000070"/><stop offset="1.000" stop-color="#0000a0"/></linearGradient>
<polygon points="40.0,169.70 105.0,168.75 130.0,169.00 130.0,169.80 105.0,169.65 40.0,170.50" fill="url(#bg11)" filter="url(#b04)" opacity="0.8"/>
<linearGradient id="bg12" gradientUnits="userSpaceOnUse" x1="40" y1="0" x2="186" y2="0"><stop offset="0.000" stop-color="#30c090"/><stop offset="0.445" stop-color="#30d888"/><stop offset="0.685" stop-color="#40f060"/><stop offset="0.822" stop-color="#40f060"/><stop offset="0.966" stop-color="#30e0c0"/><stop offset="1.000" stop-color="#2080ff"/></linearGradient>
<polygon points="40.0,170.80 105.0,170.10 140.0,170.40 160.0,170.50 181.0,171.00 186.0,171.40 186.0,172.60 181.0,173.00 160.0,173.50 140.0,173.00 105.0,171.90 40.0,172.20" fill="url(#bg12)" filter="url(#b04)"/>
<linearGradient id="bg13" gradientUnits="userSpaceOnUse" x1="40" y1="0" x2="240" y2="0"><stop offset="0.000" stop-color="#000028"/><stop offset="0.325" stop-color="#000018"/><stop offset="0.600" stop-color="#000008"/><stop offset="0.750" stop-color="#000000"/><stop offset="0.875" stop-color="#000000"/><stop offset="0.965" stop-color="#000040"/><stop offset="1.000" stop-color="#0000ff"/></linearGradient>
<polygon points="40.0,172.55 105.0,172.45 160.0,172.95 190.0,172.90 215.0,173.00 233.0,173.85 240.0,174.30 240.0,175.30 233.0,175.35 215.0,175.60 190.0,175.30 160.0,174.45 105.0,173.75 40.0,173.85" fill="url(#bg13)" filter="url(#b04)"/>
<linearGradient id="bg14" gradientUnits="userSpaceOnUse" x1="40" y1="0" x2="182" y2="0"><stop offset="0.000" stop-color="#100000"/><stop offset="0.458" stop-color="#000000"/><stop offset="0.704" stop-color="#000000"/><stop offset="0.894" stop-color="#000008"/><stop offset="1.000" stop-color="#000040"/></linearGradient>
<polygon points="40.0,180.00 105.0,180.40 140.0,181.30 167.0,183.20 182.0,185.20 182.0,187.20 167.0,186.80 140.0,184.70 105.0,182.40 40.0,181.20" fill="url(#bg14)" filter="url(#b04)"/>
<linearGradient id="bg15" gradientUnits="userSpaceOnUse" x1="40" y1="0" x2="180.5" y2="0"><stop offset="0.000" stop-color="#f00000"/><stop offset="0.463" stop-color="#ff0000"/><stop offset="0.712" stop-color="#ff0000"/><stop offset="0.854" stop-color="#ff0000"/><stop offset="0.940" stop-color="#ff0800"/><stop offset="0.975" stop-color="#ff2000"/><stop offset="1.000" stop-color="#ff6000"/></linearGradient>
<polygon points="40.0,174.50 105.0,174.60 140.0,175.20 160.0,176.20 172.0,177.70 177.0,179.20 180.5,180.75 180.5,182.25 177.0,182.80 172.0,182.70 160.0,181.40 140.0,179.80 105.0,178.00 40.0,177.30" fill="url(#bg15)" filter="url(#b04)"/>
<linearGradient id="bg16" gradientUnits="userSpaceOnUse" x1="45" y1="0" x2="150" y2="0"><stop offset="0.000" stop-color="#500000"/><stop offset="0.571" stop-color="#600000"/><stop offset="1.000" stop-color="#700000"/></linearGradient>
<polygon points="45.0,177.60 105.0,178.30 150.0,178.90 150.0,179.50 105.0,178.90 45.0,178.20" fill="url(#bg16)" filter="url(#b04)" opacity="0.6"/>
<linearGradient id="bg17" gradientUnits="userSpaceOnUse" x1="40" y1="0" x2="130" y2="0"><stop offset="0.000" stop-color="#a05020"/><stop offset="0.722" stop-color="#c06020"/><stop offset="1.000" stop-color="#ff3000"/></linearGradient>
<polygon points="40.0,179.20 105.0,179.65 130.0,180.20 130.0,181.00 105.0,180.55 40.0,180.00" fill="url(#bg17)" filter="url(#b04)" opacity="0.9"/>
<linearGradient id="bg18" gradientUnits="userSpaceOnUse" x1="160" y1="0" x2="233" y2="0"><stop offset="0.000" stop-color="#ff0000"/><stop offset="0.274" stop-color="#e06080"/><stop offset="0.438" stop-color="#d0a0c8"/><stop offset="0.548" stop-color="#ff7000"/><stop offset="0.712" stop-color="#ff4000"/><stop offset="0.890" stop-color="#ff1000"/><stop offset="1.000" stop-color="#c01060"/></linearGradient>
<polygon points="160.0,174.90 180.0,174.90 192.0,174.90 200.0,175.30 212.0,175.45 225.0,175.60 233.0,175.55 233.0,176.45 225.0,177.00 212.0,177.15 200.0,176.70 192.0,175.90 180.0,175.90 160.0,176.10" fill="url(#bg18)" filter="url(#b04)"/>
<linearGradient id="bg19" gradientUnits="userSpaceOnUse" x1="40" y1="0" x2="148" y2="0"><stop offset="0.000" stop-color="#b8a050"/><stop offset="0.602" stop-color="#d0b040"/><stop offset="0.833" stop-color="#c0a030"/><stop offset="1.000" stop-color="#000000"/></linearGradient>
<polygon points="40.0,181.60 105.0,182.55 130.0,183.20 148.0,183.60 148.0,184.40 130.0,184.20 105.0,183.85 40.0,182.80" fill="url(#bg19)" filter="url(#b04)"/>
<linearGradient id="bg20" gradientUnits="userSpaceOnUse" x1="40" y1="0" x2="180" y2="0"><stop offset="0.000" stop-color="#30c070"/><stop offset="0.464" stop-color="#30d080"/><stop offset="0.714" stop-color="#20d8b0"/><stop offset="0.893" stop-color="#20c0ff"/><stop offset="1.000" stop-color="#0000ff"/></linearGradient>
<polygon points="40.0,184.35 105.0,185.25 140.0,186.20 165.0,187.85 180.0,189.10 180.0,190.10 165.0,189.35 140.0,187.80 105.0,186.75 40.0,185.65" fill="url(#bg20)" filter="url(#b04)"/>
<linearGradient id="bg21" gradientUnits="userSpaceOnUse" x1="40" y1="0" x2="170" y2="0"><stop offset="0.000" stop-color="#000070"/><stop offset="0.500" stop-color="#000060"/><stop offset="0.846" stop-color="#000090"/><stop offset="1.000" stop-color="#0000ff"/></linearGradient>
<polygon points="40.0,186.05 105.0,187.05 150.0,188.15 170.0,188.60 170.0,189.40 150.0,189.05 105.0,187.95 40.0,186.95" fill="url(#bg21)" filter="url(#b04)"/>
<linearGradient id="bg22" gradientUnits="userSpaceOnUse" x1="40" y1="0" x2="190" y2="0"><stop offset="0.000" stop-color="#2a80ff"/><stop offset="0.433" stop-color="#3090ff"/><stop offset="0.733" stop-color="#30b0ff"/><stop offset="0.867" stop-color="#30c0ff"/><stop offset="1.000" stop-color="#0000ff"/></linearGradient>
<polygon points="40.0,187.55 105.0,188.60 150.0,190.00 170.0,191.40 190.0,193.40 190.0,194.60 170.0,193.00 150.0,191.60 105.0,190.00 40.0,188.85" fill="url(#bg22)" filter="url(#b04)"/>
<polygon points="177,177.8 200,177.4 224,177.6 214,180.4 200,183 187,185.5 178,185" fill="#20d890" opacity="0.75" filter="url(#b12)"/>
<ellipse cx="178.0" cy="181.5" rx="1.90" ry="4.60" fill="#80ff30" transform="rotate(-10 178.0 181.5)" filter="url(#b08)"/>
<ellipse cx="183.0" cy="181.2" rx="1.90" ry="4.38" fill="#80ff30" transform="rotate(-10 183.0 181.24)" opacity="0.96" filter="url(#b08)"/>
<ellipse cx="188.0" cy="181.0" rx="1.90" ry="4.16" fill="#40f060" transform="rotate(-10 188.0 180.98)" opacity="0.9199999999999999" filter="url(#b08)"/>
<ellipse cx="193.0" cy="180.7" rx="1.90" ry="3.94" fill="#40f060" transform="rotate(-10 193.0 180.72)" opacity="0.88" filter="url(#b08)"/>
<ellipse cx="198.0" cy="180.5" rx="1.90" ry="3.72" fill="#40f060" transform="rotate(-10 198.0 180.46)" opacity="0.84" filter="url(#b08)"/>
<ellipse cx="203.0" cy="180.2" rx="1.90" ry="3.50" fill="#30f0c0" transform="rotate(-10 203.0 180.2)" opacity="0.8" filter="url(#b08)"/>
<ellipse cx="208.0" cy="179.9" rx="1.90" ry="3.28" fill="#30f0c0" transform="rotate(-10 208.0 179.94)" opacity="0.76" filter="url(#b08)"/>
<ellipse cx="213.0" cy="179.7" rx="1.90" ry="3.06" fill="#30f0c0" transform="rotate(-10 213.0 179.68)" opacity="0.72" filter="url(#b08)"/>
<ellipse cx="218.0" cy="179.4" rx="1.90" ry="2.84" fill="#30c8ff" transform="rotate(-10 218.0 179.42)" opacity="0.6799999999999999" filter="url(#b08)"/>
<ellipse cx="223.0" cy="179.2" rx="1.90" ry="2.62" fill="#30c8ff" transform="rotate(-10 223.0 179.16)" opacity="0.6399999999999999" filter="url(#b08)"/>
<ellipse cx="228.0" cy="178.9" rx="1.90" ry="2.40" fill="#30c8ff" transform="rotate(-10 228.0 178.9)" opacity="0.6" filter="url(#b08)"/>
<ellipse cx="181.5" cy="182.2" rx="1.50" ry="1.30" fill="#ff8000" opacity="0.85" filter="url(#b04)"/>
<ellipse cx="185.5" cy="182.2" rx="1.50" ry="1.30" fill="#ffc000" opacity="0.85" filter="url(#b04)"/>
<ellipse cx="189.5" cy="182.2" rx="1.50" ry="1.30" fill="#e8f000" opacity="0.85" filter="url(#b04)"/>
<ellipse cx="193.5" cy="182.2" rx="1.50" ry="1.30" fill="#b0ff20" opacity="0.85" filter="url(#b04)"/>
<linearGradient id="bg23" gradientUnits="userSpaceOnUse" x1="182" y1="0" x2="228" y2="0"><stop offset="0.000" stop-color="#000000"/><stop offset="0.500" stop-color="#000000"/><stop offset="1.000" stop-color="#000040"/></linearGradient>
<polygon points="182.0,172.40 205.0,172.60 228.0,173.60 228.0,175.40 205.0,175.60 182.0,175.20" fill="url(#bg23)" filter="url(#b04)"/>
<linearGradient id="bg24" gradientUnits="userSpaceOnUse" x1="198" y1="0" x2="232" y2="0"><stop offset="0.000" stop-color="#ff8000"/><stop offset="0.353" stop-color="#ff4000"/><stop offset="0.765" stop-color="#ff1000"/><stop offset="1.000" stop-color="#c01060"/></linearGradient>
<polygon points="198.0,175.70 210.0,175.65 224.0,175.70 232.0,175.60 232.0,176.40 224.0,176.90 210.0,177.15 198.0,176.90" fill="url(#bg24)" filter="url(#b04)"/>
<linearGradient id="bg25" gradientUnits="userSpaceOnUse" x1="228" y1="0" x2="286" y2="0"><stop offset="0.000" stop-color="#b0188c"/><stop offset="1.000" stop-color="#b0188c"/></linearGradient>
<polygon points="228.0,175.15 286.0,175.15 286.0,176.05 228.0,176.05" fill="url(#bg25)" filter="url(#b04)" opacity="0.95"/>
</g>
<line x1="45.6" y1="29.8" x2="115.8" y2="29.8" stroke="#c8c8ff" stroke-width="1.8"/>
<polygon points="40.6,29.8 47.800000000000004,26.2 46.2,29.8 47.800000000000004,33.4" fill="#ffff20"/>
<polygon points="120.8,29.8 113.6,26.2 115.2,29.8 113.6,33.4" fill="#ffff20"/>
<line x1="157.6" y1="30.2" x2="227.6" y2="30.2" stroke="#c8c8ff" stroke-width="1.8"/>
<polygon points="152.6,30.2 159.79999999999998,26.599999999999998 158.2,30.2 159.79999999999998,33.8" fill="#ffff20"/>
<polygon points="232.6,30.2 225.4,26.599999999999998 227.0,30.2 225.4,33.8" fill="#ffff20"/>
<text x="78.2" y="25.1" font-size="12" fill="#f0f070" stroke="#f0f070" stroke-width="0.25" font-weight="bold" textLength="7" lengthAdjust="spacingAndGlyphs">b</text>
<text x="189.4" y="24.9" font-size="11.5" fill="#f0f070" stroke="#f0f070" stroke-width="0.25" font-weight="bold" textLength="6.4" lengthAdjust="spacingAndGlyphs">c</text>
<rect x="40.5" y="9.5" width="244.5" height="244.5" fill="none" stroke="#000070" stroke-width="1"/>
<g clip-path="url(#clipb)">
<rect x="341" y="8.5" width="131.7" height="126.80000000000001" fill="#000000"/>
<rect x="341" y="9" width="1.4" height="32" fill="#c8c0b8" opacity="0.6"/>
<rect x="341" y="100" width="1.2" height="35" fill="#a0a060" opacity="0.45"/>
<linearGradient id="vs26" gradientUnits="userSpaceOnUse" x1="0" y1="38" x2="0" y2="104"><stop offset="0.000" stop-color="#0010a0"/><stop offset="0.076" stop-color="#1a40ff"/><stop offset="0.136" stop-color="#30c0c0"/><stop offset="0.182" stop-color="#60f040"/><stop offset="0.242" stop-color="#40f060"/><stop offset="0.295" stop-color="#ff9020"/><stop offset="0.326" stop-color="#ff4000"/><stop offset="0.356" stop-color="#60f040"/><stop offset="0.409" stop-color="#30d0a0"/><stop offset="0.455" stop-color="#2090ff"/><stop offset="0.500" stop-color="#30c0c0"/><stop offset="0.545" stop-color="#40f060"/><stop offset="0.606" stop-color="#60f040"/><stop offset="0.652" stop-color="#c0f030"/><stop offset="0.697" stop-color="#40f060"/><stop offset="0.750" stop-color="#ffb020"/><stop offset="0.795" stop-color="#ff3000"/><stop offset="0.826" stop-color="#ff8020"/><stop offset="0.864" stop-color="#a0f030"/><stop offset="0.909" stop-color="#30e080"/><stop offset="0.955" stop-color="#2080ff"/><stop offset="1.000" stop-color="#1030c0"/></linearGradient>
<rect x="341" y="38" width="4.6" height="66" fill="url(#vs26)" filter="url(#b04)"/>
<rect x="344" y="42" width="4" height="60" fill="url(#vs26)" opacity="0.5" filter="url(#b08)"/>
<rect x="345" y="46" width="10" height="56" fill="#1a40ff" opacity="0.35" filter="url(#b2)"/>
<ellipse cx="343.5" cy="46.7" rx="1.0" ry="0.8" fill="#40f060" opacity="0.46" filter="url(#b04)"/>
<ellipse cx="343.9" cy="53.9" rx="1.3" ry="1.0" fill="#30e0c0" opacity="0.79" filter="url(#b04)"/>
<ellipse cx="343.6" cy="43.6" rx="0.9" ry="0.8" fill="#20a0ff" opacity="0.61" filter="url(#b04)"/>
<ellipse cx="344.3" cy="75.6" rx="0.8" ry="0.7" fill="#20a0ff" opacity="0.54" filter="url(#b04)"/>
<ellipse cx="344.3" cy="63.5" rx="1.2" ry="1.0" fill="#30e0c0" opacity="0.48" filter="url(#b04)"/>
<ellipse cx="344.4" cy="75.1" rx="1.1" ry="0.9" fill="#40f060" opacity="0.74" filter="url(#b04)"/>
<ellipse cx="344.9" cy="52.2" rx="1.3" ry="1.1" fill="#20a0ff" opacity="0.41" filter="url(#b04)"/>
<ellipse cx="346.4" cy="92.1" rx="1.2" ry="1.0" fill="#30e0c0" opacity="0.48" filter="url(#b04)"/>
<ellipse cx="345.2" cy="62.0" rx="1.0" ry="0.8" fill="#30e0c0" opacity="0.59" filter="url(#b04)"/>
<ellipse cx="344.6" cy="57.6" rx="1.1" ry="0.9" fill="#20a0ff" opacity="0.66" filter="url(#b04)"/>
<ellipse cx="346.8" cy="97.7" rx="1.4" ry="1.2" fill="#40f060" opacity="0.72" filter="url(#b04)"/>
<ellipse cx="344.7" cy="50.6" rx="1.2" ry="1.0" fill="#e0e040" opacity="0.74" filter="url(#b04)"/>
<ellipse cx="344.7" cy="50.4" rx="0.8" ry="0.6" fill="#e0e040" opacity="0.55" filter="url(#b04)"/>
<ellipse cx="347.3" cy="80.2" rx="1.0" ry="0.8" fill="#80ff40" opacity="0.66" filter="url(#b04)"/>
<ellipse cx="347.5" cy="51.8" rx="1.1" ry="0.9" fill="#80ff40" opacity="0.58" filter="url(#b04)"/>
<ellipse cx="346.7" cy="73.7" rx="0.8" ry="0.7" fill="#40f060" opacity="0.75" filter="url(#b04)"/>
<ellipse cx="346.0" cy="97.6" rx="0.9" ry="0.7" fill="#30e0c0" opacity="0.69" filter="url(#b04)"/>
<ellipse cx="346.9" cy="68.5" rx="1.1" ry="0.9" fill="#e0e040" opacity="0.51" filter="url(#b04)"/>
<ellipse cx="345.0" cy="76.8" rx="1.2" ry="1.0" fill="#40f060" opacity="0.74" filter="url(#b04)"/>
<ellipse cx="345.4" cy="87.8" rx="1.2" ry="1.0" fill="#20a0ff" opacity="0.79" filter="url(#b04)"/>
<ellipse cx="346.6" cy="55.3" rx="1.3" ry="1.0" fill="#20a0ff" opacity="0.54" filter="url(#b04)"/>
<ellipse cx="343.5" cy="62.5" rx="1.0" ry="0.8" fill="#30e0c0" opacity="0.80" filter="url(#b04)"/>
<ellipse cx="344.0" cy="74.0" rx="1.2" ry="1.0" fill="#e0e040" opacity="0.75" filter="url(#b04)"/>
<ellipse cx="346.7" cy="96.8" rx="1.3" ry="1.1" fill="#30e0c0" opacity="0.62" filter="url(#b04)"/>
<ellipse cx="345.7" cy="70.8" rx="1.2" ry="1.0" fill="#e0e040" opacity="0.56" filter="url(#b04)"/>
<ellipse cx="345.6" cy="83.0" rx="1.1" ry="0.9" fill="#20a0ff" opacity="0.53" filter="url(#b04)"/>
<ellipse cx="345.0" cy="71.4" rx="1.0" ry="0.8" fill="#30e0c0" opacity="0.78" filter="url(#b04)"/>
<ellipse cx="346.3" cy="74.8" rx="0.9" ry="0.7" fill="#40f060" opacity="0.69" filter="url(#b04)"/>
<ellipse cx="344.3" cy="54.7" rx="1.4" ry="1.1" fill="#30e0c0" opacity="0.57" filter="url(#b04)"/>
<ellipse cx="346.3" cy="72.5" rx="0.9" ry="0.8" fill="#80ff40" opacity="0.69" filter="url(#b04)"/>
<ellipse cx="341.5" cy="108.8" rx="0.8" ry="0.7" fill="#2060ff" opacity="0.60" filter="url(#b04)"/>
<ellipse cx="342.6" cy="105.2" rx="0.9" ry="0.8" fill="#60c060" opacity="0.61" filter="url(#b04)"/>
<ellipse cx="342.9" cy="130.2" rx="0.9" ry="0.7" fill="#60c060" opacity="0.62" filter="url(#b04)"/>
<ellipse cx="342.7" cy="118.8" rx="0.9" ry="0.8" fill="#2060ff" opacity="0.73" filter="url(#b04)"/>
<ellipse cx="342.9" cy="108.5" rx="0.7" ry="0.6" fill="#60c060" opacity="0.41" filter="url(#b04)"/>
<ellipse cx="342.2" cy="125.3" rx="0.9" ry="0.7" fill="#30a0a0" opacity="0.42" filter="url(#b04)"/>
<ellipse cx="341.5" cy="113.3" rx="0.7" ry="0.6" fill="#c0c040" opacity="0.69" filter="url(#b04)"/>
<ellipse cx="342.2" cy="119.1" rx="1.1" ry="0.9" fill="#c0c040" opacity="0.63" filter="url(#b04)"/>
<ellipse cx="342.3" cy="126.6" rx="1.0" ry="0.8" fill="#2060ff" opacity="0.52" filter="url(#b04)"/>
<ellipse cx="341.5" cy="123.2" rx="1.1" ry="0.9" fill="#c0c040" opacity="0.57" filter="url(#b04)"/>
<linearGradient id="st27" gradientUnits="userSpaceOnUse" x1="344" y1="0" x2="352" y2="0"><stop offset="0" stop-color="#1a50ff" stop-opacity="0.7"/><stop offset="1" stop-color="#1a50ff" stop-opacity="0"/></linearGradient>
<rect x="344" y="40.45" width="8" height="1.1" fill="url(#st27)" filter="url(#b04)"/>
<linearGradient id="st28" gradientUnits="userSpaceOnUse" x1="344" y1="0" x2="362" y2="0"><stop offset="0" stop-color="#1a50ff" stop-opacity="0.8"/><stop offset="1" stop-color="#1a50ff" stop-opacity="0"/></linearGradient>
<rect x="344" y="46.45" width="18" height="1.1" fill="url(#st28)" filter="url(#b04)"/>
<linearGradient id="st29" gradientUnits="userSpaceOnUse" x1="344" y1="0" x2="358" y2="0"><stop offset="0" stop-color="#30a0ff" stop-opacity="0.8"/><stop offset="1" stop-color="#30a0ff" stop-opacity="0"/></linearGradient>
<rect x="344" y="49.95" width="14" height="1.1" fill="url(#st29)" filter="url(#b04)"/>
<linearGradient id="st30" gradientUnits="userSpaceOnUse" x1="344" y1="0" x2="368" y2="0"><stop offset="0" stop-color="#1a40ff" stop-opacity="0.7"/><stop offset="1" stop-color="#1a40ff" stop-opacity="0"/></linearGradient>
<rect x="344" y="52.65" width="24" height="1.1" fill="url(#st30)" filter="url(#b04)"/>
<linearGradient id="st31" gradientUnits="userSpaceOnUse" x1="344" y1="0" x2="374" y2="0"><stop offset="0" stop-color="#30d0ff" stop-opacity="1.0"/><stop offset="1" stop-color="#30d0ff" stop-opacity="0"/></linearGradient>
<rect x="344" y="57.35" width="30" height="1.1" fill="url(#st31)" filter="url(#b04)"/>
<linearGradient id="st32" gradientUnits="userSpaceOnUse" x1="344" y1="0" x2="366" y2="0"><stop offset="0" stop-color="#1a50ff" stop-opacity="0.8"/><stop offset="1" stop-color="#1a50ff" stop-opacity="0"/></linearGradient>
<rect x="344" y="60.95" width="22" height="1.1" fill="url(#st32)" filter="url(#b04)"/>
<linearGradient id="st33" gradientUnits="userSpaceOnUse" x1="344" y1="0" x2="360" y2="0"><stop offset="0" stop-color="#1a40ff" stop-opacity="0.7"/><stop offset="1" stop-color="#1a40ff" stop-opacity="0"/></linearGradient>
<rect x="344" y="63.95" width="16" height="1.1" fill="url(#st33)" filter="url(#b04)"/>
<linearGradient id="st34" gradientUnits="userSpaceOnUse" x1="344" y1="0" x2="356" y2="0"><stop offset="0" stop-color="#1a40ff" stop-opacity="0.6"/><stop offset="1" stop-color="#1a40ff" stop-opacity="0"/></linearGradient>
<rect x="344" y="67.45" width="12" height="1.1" fill="url(#st34)" filter="url(#b04)"/>
<linearGradient id="st35" gradientUnits="userSpaceOnUse" x1="344" y1="0" x2="362" y2="0"><stop offset="0" stop-color="#1a40ff" stop-opacity="0.7"/><stop offset="1" stop-color="#1a40ff" stop-opacity="0"/></linearGradient>
<rect x="344" y="74.45" width="18" height="1.1" fill="url(#st35)" filter="url(#b04)"/>
<linearGradient id="st36" gradientUnits="userSpaceOnUse" x1="344" y1="0" x2="388" y2="0"><stop offset="0" stop-color="#2a70ff" stop-opacity="0.9"/><stop offset="1" stop-color="#2a70ff" stop-opacity="0"/></linearGradient>
<rect x="344" y="80.25" width="44" height="1.1" fill="url(#st36)" filter="url(#b04)"/>
<linearGradient id="st37" gradientUnits="userSpaceOnUse" x1="344" y1="0" x2="364" y2="0"><stop offset="0" stop-color="#1a40ff" stop-opacity="0.7"/><stop offset="1" stop-color="#1a40ff" stop-opacity="0"/></linearGradient>
<rect x="344" y="83.45" width="20" height="1.1" fill="url(#st37)" filter="url(#b04)"/>
<linearGradient id="st38" gradientUnits="userSpaceOnUse" x1="344" y1="0" x2="372" y2="0"><stop offset="0" stop-color="#1a50ff" stop-opacity="0.8"/><stop offset="1" stop-color="#1a50ff" stop-opacity="0"/></linearGradient>
<rect x="344" y="87.45" width="28" height="1.1" fill="url(#st38)" filter="url(#b04)"/>
<linearGradient id="st39" gradientUnits="userSpaceOnUse" x1="344" y1="0" x2="398" y2="0"><stop offset="0" stop-color="#30c8ff" stop-opacity="1.0"/><stop offset="1" stop-color="#30c8ff" stop-opacity="0"/></linearGradient>
<rect x="344" y="90.85" width="54" height="1.1" fill="url(#st39)" filter="url(#b04)"/>
<linearGradient id="st40" gradientUnits="userSpaceOnUse" x1="344" y1="0" x2="388" y2="0"><stop offset="0" stop-color="#1a50ff" stop-opacity="0.8"/><stop offset="1" stop-color="#1a50ff" stop-opacity="0"/></linearGradient>
<rect x="344" y="93.65" width="44" height="1.1" fill="url(#st40)" filter="url(#b04)"/>
<linearGradient id="st41" gradientUnits="userSpaceOnUse" x1="344" y1="0" x2="378" y2="0"><stop offset="0" stop-color="#1a40ff" stop-opacity="0.7"/><stop offset="1" stop-color="#1a40ff" stop-opacity="0"/></linearGradient>
<rect x="344" y="96.95" width="34" height="1.1" fill="url(#st41)" filter="url(#b04)"/>
<linearGradient id="st42" gradientUnits="userSpaceOnUse" x1="344" y1="0" x2="362" y2="0"><stop offset="0" stop-color="#1a40e0" stop-opacity="0.6"/><stop offset="1" stop-color="#1a40e0" stop-opacity="0"/></linearGradient>
<rect x="344" y="99.95" width="18" height="1.1" fill="url(#st42)" filter="url(#b04)"/>
<linearGradient id="st43" gradientUnits="userSpaceOnUse" x1="344" y1="0" x2="362" y2="0"><stop offset="0" stop-color="#60ffd0" stop-opacity="0.8"/><stop offset="1" stop-color="#60ffd0" stop-opacity="0"/></linearGradient>
<rect x="344" y="57.30" width="18" height="1.2" fill="url(#st43)" filter="url(#b04)"/>
<linearGradient id="st44" gradientUnits="userSpaceOnUse" x1="344" y1="0" x2="365" y2="0"><stop offset="0" stop-color="#60ffd0" stop-opacity="0.8"/><stop offset="1" stop-color="#60ffd0" stop-opacity="0"/></linearGradient>
<rect x="344" y="90.80" width="21" height="1.2" fill="url(#st44)" filter="url(#b04)"/>
<line x1="346" y1="70.3" x2="472" y2="70.3" stroke="#1a30d0" stroke-width="1.3" stroke-dasharray="2.2,2.8" opacity="0.85" filter="url(#b04)"/>
<ellipse cx="378.0" cy="92.5" rx="9.00" ry="3.40" fill="#1030ff" opacity="0.55" filter="url(#b12)"/>
<ellipse cx="376.6" cy="90.9" rx="1.0" ry="0.8" fill="#1a40ff" opacity="0.83" filter="url(#b04)"/>
<ellipse cx="380.3" cy="92.8" rx="1.2" ry="1.0" fill="#1a50ff" opacity="0.91" filter="url(#b04)"/>
<ellipse cx="379.9" cy="94.5" rx="1.2" ry="1.0" fill="#2a80ff" opacity="0.99" filter="url(#b04)"/>
<ellipse cx="383.8" cy="91.4" rx="1.1" ry="0.9" fill="#1a50ff" opacity="0.65" filter="url(#b04)"/>
<ellipse cx="379.1" cy="92.1" rx="1.1" ry="0.9" fill="#2a80ff" opacity="0.63" filter="url(#b04)"/>
<ellipse cx="376.3" cy="92.4" rx="1.3" ry="1.1" fill="#1a50ff" opacity="0.65" filter="url(#b04)"/>
<ellipse cx="383.0" cy="93.6" rx="1.6" ry="1.3" fill="#1a50ff" opacity="0.71" filter="url(#b04)"/>
<ellipse cx="374.7" cy="89.7" rx="1.3" ry="1.1" fill="#1a40ff" opacity="0.96" filter="url(#b04)"/>
<ellipse cx="382.2" cy="91.3" rx="1.0" ry="0.8" fill="#1a50ff" opacity="0.76" filter="url(#b04)"/>
<ellipse cx="380.0" cy="92.5" rx="1.2" ry="1.0" fill="#1a50ff" opacity="0.63" filter="url(#b04)"/>
<ellipse cx="372.9" cy="95.2" rx="1.2" ry="1.0" fill="#30c0ff" opacity="0.82" filter="url(#b04)"/>
<ellipse cx="382.6" cy="93.4" rx="1.1" ry="0.9" fill="#2a80ff" opacity="0.92" filter="url(#b04)"/>
<ellipse cx="380.6" cy="93.8" rx="1.4" ry="1.1" fill="#1a50ff" opacity="0.99" filter="url(#b04)"/>
<ellipse cx="380.5" cy="94.9" rx="1.2" ry="1.0" fill="#1a50ff" opacity="0.84" filter="url(#b04)"/>
<ellipse cx="376.0" cy="91.5" rx="1.80" ry="1.00" fill="#60f0ff" opacity="0.8" filter="url(#b04)"/>
<ellipse cx="383.0" cy="94.0" rx="1.50" ry="1.00" fill="#40e0ff" opacity="0.7" filter="url(#b04)"/>
<line x1="395" y1="91.5" x2="420" y2="91.5" stroke="#1a30d0" stroke-width="1.2" stroke-dasharray="2,3" opacity="0.6" filter="url(#b04)"/>
<ellipse cx="382" cy="51.5" rx="5.5" ry="1.6" fill="#1a50ff" transform="rotate(-42 382 51.5)" filter="url(#b08)"/>
<ellipse cx="381" cy="51.7" rx="2.2" ry="1.0" fill="#40e0ff" transform="rotate(-42 381 51.7)" filter="url(#b04)"/>
<ellipse cx="381" cy="120.5" rx="5.5" ry="1.8" fill="#1a50ff" transform="rotate(38 381 120.5)" filter="url(#b08)"/>
<ellipse cx="380" cy="120" rx="2.2" ry="1.0" fill="#40e0ff" transform="rotate(38 380 120)" filter="url(#b04)"/>
<ellipse cx="343.0" cy="126.0" rx="1.50" ry="1.50" fill="#2050ff" opacity="0.7" filter="url(#b04)"/>
<line x1="349.5" y1="83.2" x2="401.7" y2="34.3" stroke="#e8e8e8" stroke-width="0.9" stroke-dasharray="2.2,2.2"/>
<line x1="351.1" y1="98.7" x2="397" y2="134.8" stroke="#e8e8e8" stroke-width="0.9" stroke-dasharray="2.2,2.2"/>
</g>
<g clip-path="url(#clipb2)">
<rect x="520.3" y="8.5" width="132.70000000000005" height="126.80000000000001" fill="#000000"/>
<polygon points="520.3,67.5 524.5,71.3 520.3,74.5" fill="#30e0ff" filter="url(#b04)"/>
<ellipse cx="521.5" cy="71.3" rx="2.20" ry="3.20" fill="#1a60ff" opacity="0.8" filter="url(#b08)"/>
<linearGradient id="st45" gradientUnits="userSpaceOnUse" x1="524" y1="0" x2="653" y2="0"><stop offset="0" stop-color="#1a3cd0" stop-opacity="0.95"/><stop offset="1" stop-color="#1a3cd0" stop-opacity="0"/></linearGradient>
<rect x="524" y="94.40" width="129" height="1.6" fill="url(#st45)" filter="url(#b04)"/>
<linearGradient id="st46" gradientUnits="userSpaceOnUse" x1="524" y1="0" x2="600" y2="0"><stop offset="0" stop-color="#2050ff" stop-opacity="0.6"/><stop offset="1" stop-color="#2050ff" stop-opacity="0"/></linearGradient>
<rect x="524" y="93.40" width="76" height="3.2" fill="url(#st46)" filter="url(#b12)"/>
<linearGradient id="st47" gradientUnits="userSpaceOnUse" x1="524" y1="0" x2="572" y2="0"><stop offset="0" stop-color="#a0fff0" stop-opacity="1.0"/><stop offset="1" stop-color="#a0fff0" stop-opacity="0"/></linearGradient>
<rect x="524" y="94.55" width="48" height="1.3" fill="url(#st47)" filter="url(#b04)"/>
<linearGradient id="st48" gradientUnits="userSpaceOnUse" x1="526" y1="0" x2="560" y2="0"><stop offset="0" stop-color="#30d0ff" stop-opacity="0.8"/><stop offset="1" stop-color="#30d0ff" stop-opacity="0"/></linearGradient>
<rect x="526" y="92.90" width="34" height="1.0" fill="url(#st48)" filter="url(#b04)"/>
<linearGradient id="st49" gradientUnits="userSpaceOnUse" x1="526" y1="0" x2="560" y2="0"><stop offset="0" stop-color="#2090ff" stop-opacity="0.8"/><stop offset="1" stop-color="#2090ff" stop-opacity="0"/></linearGradient>
<rect x="526" y="96.70" width="34" height="1.0" fill="url(#st49)" filter="url(#b04)"/>
<ellipse cx="524.0" cy="94.4" rx="6.00" ry="6.50" fill="#2a70ff" opacity="0.85" filter="url(#b12)"/>
<ellipse cx="523.5" cy="94.4" rx="4.50" ry="5.50" fill="#e0ffff" filter="url(#b08)"/>
<ellipse cx="523.0" cy="94.4" rx="3.40" ry="4.40" fill="#ffffff" filter="url(#b04)"/>
<ellipse cx="523.0" cy="101.0" rx="1.50" ry="1.20" fill="#ff8020" opacity="0.8" filter="url(#b04)"/>
<linearGradient id="st50" gradientUnits="userSpaceOnUse" x1="524" y1="0" x2="560" y2="0"><stop offset="0" stop-color="#1a40ff" stop-opacity="0.7"/><stop offset="1" stop-color="#1a40ff" stop-opacity="0"/></linearGradient>
<rect x="524" y="97.90" width="36" height="1.2" fill="url(#st50)" filter="url(#b04)"/>
<ellipse cx="521.5" cy="62.5" rx="1.20" ry="1.20" fill="#2060ff" opacity="0.7" filter="url(#b04)"/>
<ellipse cx="522.0" cy="104.0" rx="1.20" ry="1.40" fill="#2060ff" opacity="0.6" filter="url(#b04)"/>
<line x1="520.3" y1="70.63" x2="578" y2="15.07" stroke="#e8e8e8" stroke-width="0.9" stroke-dasharray="2.2,2.2"/>
<line x1="520.3" y1="94.72" x2="625" y2="-6.1" stroke="#e8e8e8" stroke-width="0.9" stroke-dasharray="2.2,2.2"/>
<line x1="520.3" y1="70.63" x2="578" y2="126.2" stroke="#e8e8e8" stroke-width="0.9" stroke-dasharray="2.2,2.2"/>
<line x1="520.3" y1="94.72" x2="565" y2="137.77" stroke="#e8e8e8" stroke-width="0.9" stroke-dasharray="2.2,2.2"/>
<ellipse cx="556" cy="35.7" rx="2.4" ry="1.1" fill="#2060ff" opacity="0.8" transform="rotate(-44 556 35.7)" filter="url(#b04)"/>
<ellipse cx="562" cy="29.9" rx="2.4" ry="1.1" fill="#30c8ff" opacity="0.9" transform="rotate(-44 562 29.9)" filter="url(#b04)"/>
<ellipse cx="566" cy="26.0" rx="2.4" ry="1.1" fill="#2060ff" opacity="0.8" transform="rotate(-44 566 26.0)" filter="url(#b04)"/>
<ellipse cx="571" cy="21.2" rx="2.4" ry="1.1" fill="#3090ff" opacity="0.8" transform="rotate(-44 571 21.2)" filter="url(#b04)"/>
<ellipse cx="548" cy="67.4" rx="2.6" ry="1.1" fill="#2050ff" opacity="0.7" transform="rotate(-44 548 67.4)" filter="url(#b04)"/>
<ellipse cx="553" cy="62.6" rx="2.6" ry="1.1" fill="#30d0ff" opacity="0.9" transform="rotate(-44 553 62.6)" filter="url(#b04)"/>
<ellipse cx="557" cy="58.8" rx="2.6" ry="1.1" fill="#30e0ff" opacity="0.9" transform="rotate(-44 557 58.8)" filter="url(#b04)"/>
<ellipse cx="561" cy="54.9" rx="2.6" ry="1.1" fill="#2060ff" opacity="0.8" transform="rotate(-44 561 54.9)" filter="url(#b04)"/>
<ellipse cx="566" cy="50.1" rx="2.6" ry="1.1" fill="#2050ff" opacity="0.6" transform="rotate(-44 566 50.1)" filter="url(#b04)"/>
<ellipse cx="576" cy="40.5" rx="2.6" ry="1.1" fill="#1a40ff" opacity="0.5" transform="rotate(-44 576 40.5)" filter="url(#b04)"/>
<ellipse cx="585" cy="31.8" rx="2.6" ry="1.1" fill="#1a40ff" opacity="0.5" transform="rotate(-44 585 31.8)" filter="url(#b04)"/>
<ellipse cx="595" cy="22.2" rx="2.6" ry="1.1" fill="#1a40ff" opacity="0.5" transform="rotate(-44 595 22.2)" filter="url(#b04)"/>
<ellipse cx="604" cy="13.5" rx="2.6" ry="1.1" fill="#3070ff" opacity="0.8" transform="rotate(-44 604 13.5)" filter="url(#b04)"/>
<ellipse cx="608" cy="9.7" rx="2.6" ry="1.1" fill="#2060ff" opacity="0.7" transform="rotate(-44 608 9.7)" filter="url(#b04)"/>
<ellipse cx="558" cy="106.9" rx="2.0" ry="1.2" fill="#30e0c0" opacity="0.9" transform="rotate(44 558 106.9)" filter="url(#b04)"/>
<ellipse cx="561.5" cy="110.3" rx="2.0" ry="1.2" fill="#30e8d0" opacity="1.0" transform="rotate(44 561.5 110.3)" filter="url(#b04)"/>
<ellipse cx="564.5" cy="113.2" rx="2.0" ry="1.2" fill="#ff9030" opacity="0.9" transform="rotate(44 564.5 113.2)" filter="url(#b04)"/>
<ellipse cx="567.5" cy="116.1" rx="2.0" ry="1.2" fill="#30c0ff" opacity="0.9" transform="rotate(44 567.5 116.1)" filter="url(#b04)"/>
<ellipse cx="571" cy="119.5" rx="2.0" ry="1.2" fill="#2050ff" opacity="0.6" transform="rotate(44 571 119.5)" filter="url(#b04)"/>
<ellipse cx="531" cy="105.0" rx="2.0" ry="1.0" fill="#2050ff" opacity="0.7" transform="rotate(44 531 105.0)" filter="url(#b04)"/>
<ellipse cx="536" cy="109.8" rx="2.0" ry="1.0" fill="#1a40ff" opacity="0.6" transform="rotate(44 536 109.8)" filter="url(#b04)"/>
<ellipse cx="541" cy="114.7" rx="2.0" ry="1.0" fill="#1a40ff" opacity="0.5" transform="rotate(44 541 114.7)" filter="url(#b04)"/>
</g>
<g clip-path="url(#clipc)">
<rect x="341" y="192" width="131.7" height="126.5" fill="#000000"/>
<ellipse cx="343.2" cy="229.0" rx="2.60" ry="3.00" fill="#40e060" opacity="0.9" filter="url(#b04)"/>
<ellipse cx="343.2" cy="234.0" rx="2.60" ry="2.50" fill="#ffffff" filter="url(#b04)"/>
<ellipse cx="343.2" cy="238.0" rx="2.60" ry="2.50" fill="#ffd040" filter="url(#b04)"/>
<ellipse cx="343.2" cy="242.0" rx="2.60" ry="2.50" fill="#ff8040" opacity="0.9" filter="url(#b04)"/>
<ellipse cx="343.2" cy="246.0" rx="2.60" ry="2.50" fill="#e0e040" opacity="0.9" filter="url(#b04)"/>
<ellipse cx="343.2" cy="250.0" rx="2.60" ry="2.50" fill="#ff7030" opacity="0.9" filter="url(#b04)"/>
<ellipse cx="343.2" cy="254.0" rx="2.60" ry="2.50" fill="#ffffff" opacity="0.95" filter="url(#b04)"/>
<ellipse cx="343.2" cy="258.0" rx="2.60" ry="2.50" fill="#ffb040" opacity="0.9" filter="url(#b04)"/>
<ellipse cx="343.2" cy="262.0" rx="2.60" ry="2.50" fill="#80e040" opacity="0.9" filter="url(#b04)"/>
<ellipse cx="343.2" cy="266.0" rx="2.60" ry="2.50" fill="#ffd060" opacity="0.9" filter="url(#b04)"/>
<ellipse cx="343.2" cy="270.0" rx="2.60" ry="2.50" fill="#ffffff" filter="url(#b04)"/>
<ellipse cx="343.2" cy="274.0" rx="2.60" ry="2.50" fill="#ffe080" filter="url(#b04)"/>
<ellipse cx="343.2" cy="278.0" rx="2.60" ry="2.50" fill="#ffa040" opacity="0.9" filter="url(#b04)"/>
<ellipse cx="343.2" cy="282.0" rx="2.60" ry="2.50" fill="#ffffff" opacity="0.95" filter="url(#b04)"/>
<ellipse cx="343.2" cy="286.0" rx="2.60" ry="2.50" fill="#e0c040" opacity="0.9" filter="url(#b04)"/>
<ellipse cx="343.2" cy="290.0" rx="2.60" ry="2.50" fill="#40e0a0" opacity="0.8" filter="url(#b04)"/>
<ellipse cx="347.0" cy="232.0" rx="2.20" ry="3.00" fill="#20d070" opacity="0.85" filter="url(#b08)"/>
<ellipse cx="346.5" cy="244.0" rx="2.50" ry="2.50" fill="#30e040" opacity="0.8" filter="url(#b08)"/>
<ellipse cx="347.0" cy="256.0" rx="2.50" ry="3.00" fill="#20c0c0" opacity="0.8" filter="url(#b08)"/>
<ellipse cx="347.5" cy="268.0" rx="2.80" ry="3.00" fill="#40e040" opacity="0.85" filter="url(#b08)"/>
<ellipse cx="348.0" cy="276.0" rx="2.80" ry="2.50" fill="#20d0a0" opacity="0.8" filter="url(#b08)"/>
<ellipse cx="347.0" cy="286.0" rx="2.60" ry="3.00" fill="#30e070" opacity="0.8" filter="url(#b08)"/>
<ellipse cx="345.0" cy="294.0" rx="2.00" ry="2.00" fill="#20c0d0" opacity="0.6" filter="url(#b08)"/>
<ellipse cx="342.5" cy="302.7" rx="1.60" ry="1.60" fill="#40e060" opacity="0.8" filter="url(#b08)"/>
<ellipse cx="343.0" cy="308.5" rx="1.50" ry="1.50" fill="#2060ff" opacity="0.8" filter="url(#b08)"/>
<ellipse cx="343.2" cy="271.8" rx="1.6" ry="1.3" fill="#ffe040" opacity="0.94" filter="url(#b04)"/>
<ellipse cx="348.9" cy="258.4" rx="1.9" ry="1.6" fill="#30e0c0" opacity="0.80" filter="url(#b04)"/>
<ellipse cx="343.7" cy="229.2" rx="1.4" ry="1.1" fill="#20a0ff" opacity="0.77" filter="url(#b04)"/>
<ellipse cx="343.0" cy="275.6" rx="1.9" ry="1.6" fill="#30c0ff" opacity="0.62" filter="url(#b04)"/>
<ellipse cx="349.0" cy="274.8" rx="1.9" ry="1.5" fill="#20a0ff" opacity="0.78" filter="url(#b04)"/>
<ellipse cx="348.7" cy="262.5" rx="1.7" ry="1.4" fill="#30c0ff" opacity="0.98" filter="url(#b04)"/>
<ellipse cx="344.6" cy="238.6" rx="1.8" ry="1.5" fill="#40f060" opacity="0.92" filter="url(#b04)"/>
<ellipse cx="342.1" cy="239.0" rx="1.7" ry="1.4" fill="#ffe040" opacity="0.79" filter="url(#b04)"/>
<ellipse cx="343.3" cy="231.3" rx="1.8" ry="1.5" fill="#30e0c0" opacity="0.63" filter="url(#b04)"/>
<ellipse cx="343.4" cy="270.8" rx="1.8" ry="1.5" fill="#30c0ff" opacity="0.90" filter="url(#b04)"/>
<ellipse cx="347.3" cy="265.0" rx="1.7" ry="1.4" fill="#40f060" opacity="0.82" filter="url(#b04)"/>
<ellipse cx="345.9" cy="253.1" rx="1.3" ry="1.1" fill="#30e0c0" opacity="0.96" filter="url(#b04)"/>
<ellipse cx="344.9" cy="251.6" rx="1.4" ry="1.2" fill="#ffe040" opacity="0.73" filter="url(#b04)"/>
<ellipse cx="345.4" cy="245.5" rx="1.8" ry="1.5" fill="#30e0c0" opacity="0.89" filter="url(#b04)"/>
<ellipse cx="348.9" cy="259.8" rx="1.5" ry="1.2" fill="#20a0ff" opacity="0.84" filter="url(#b04)"/>
<ellipse cx="345.7" cy="264.4" rx="1.3" ry="1.1" fill="#20a0ff" opacity="0.65" filter="url(#b04)"/>
<ellipse cx="346.7" cy="267.8" rx="1.8" ry="1.5" fill="#80ff40" opacity="0.74" filter="url(#b04)"/>
<ellipse cx="346.2" cy="248.0" rx="1.1" ry="0.9" fill="#40f060" opacity="0.97" filter="url(#b04)"/>
<ellipse cx="343.2" cy="255.6" rx="1.1" ry="0.9" fill="#40f060" opacity="0.87" filter="url(#b04)"/>
<ellipse cx="348.3" cy="288.4" rx="1.4" ry="1.1" fill="#30e0c0" opacity="0.98" filter="url(#b04)"/>
<ellipse cx="346.1" cy="283.8" rx="1.5" ry="1.2" fill="#ffe040" opacity="0.87" filter="url(#b04)"/>
<ellipse cx="348.6" cy="244.2" rx="1.5" ry="1.3" fill="#ffe040" opacity="0.92" filter="url(#b04)"/>
<ellipse cx="347.4" cy="259.0" rx="1.8" ry="1.5" fill="#40f060" opacity="0.94" filter="url(#b04)"/>
<ellipse cx="346.6" cy="231.2" rx="1.2" ry="1.0" fill="#ffe040" opacity="0.63" filter="url(#b04)"/>
<ellipse cx="344.4" cy="284.7" rx="2.0" ry="1.6" fill="#30c0ff" opacity="0.89" filter="url(#b04)"/>
<ellipse cx="342.3" cy="237.7" rx="1.6" ry="1.3" fill="#30c0ff" opacity="0.79" filter="url(#b04)"/>
<ellipse cx="348.7" cy="284.8" rx="1.4" ry="1.1" fill="#30e0c0" opacity="0.95" filter="url(#b04)"/>
<ellipse cx="346.2" cy="255.4" rx="1.6" ry="1.3" fill="#ff8030" opacity="0.79" filter="url(#b04)"/>
<ellipse cx="343.0" cy="265.5" rx="1.1" ry="0.9" fill="#30c0ff" opacity="0.60" filter="url(#b04)"/>
<ellipse cx="346.8" cy="288.1" rx="1.0" ry="0.8" fill="#20a0ff" opacity="0.73" filter="url(#b04)"/>
<ellipse cx="343.7" cy="288.3" rx="1.4" ry="1.2" fill="#30c0ff" opacity="0.76" filter="url(#b04)"/>
<ellipse cx="348.7" cy="285.1" rx="1.1" ry="0.9" fill="#40f060" opacity="0.76" filter="url(#b04)"/>
<ellipse cx="343.3" cy="268.8" rx="1.8" ry="1.4" fill="#40f060" opacity="0.95" filter="url(#b04)"/>
<ellipse cx="346.6" cy="236.8" rx="1.5" ry="1.2" fill="#80ff40" opacity="0.76" filter="url(#b04)"/>
<ellipse cx="348.2" cy="267.5" rx="1.2" ry="1.0" fill="#ff8030" opacity="0.75" filter="url(#b04)"/>
<ellipse cx="347.0" cy="263.1" rx="1.0" ry="0.8" fill="#30c0ff" opacity="0.80" filter="url(#b04)"/>
<ellipse cx="347.2" cy="232.5" rx="1.9" ry="1.6" fill="#ffe040" opacity="0.79" filter="url(#b04)"/>
<ellipse cx="342.4" cy="276.4" rx="1.2" ry="1.0" fill="#30c0ff" opacity="0.69" filter="url(#b04)"/>
<ellipse cx="348.7" cy="266.5" rx="1.7" ry="1.4" fill="#30e0c0" opacity="0.76" filter="url(#b04)"/>
<ellipse cx="344.2" cy="284.8" rx="1.3" ry="1.0" fill="#20a0ff" opacity="0.92" filter="url(#b04)"/>
<ellipse cx="345.4" cy="264.5" rx="1.5" ry="1.3" fill="#40f060" opacity="0.80" filter="url(#b04)"/>
<ellipse cx="347.1" cy="289.0" rx="1.3" ry="1.1" fill="#30c0ff" opacity="0.85" filter="url(#b04)"/>
<ellipse cx="347.3" cy="240.8" rx="1.6" ry="1.3" fill="#80ff40" opacity="0.99" filter="url(#b04)"/>
<ellipse cx="344.5" cy="248.7" rx="2.0" ry="1.6" fill="#40f060" opacity="0.95" filter="url(#b04)"/>
<ellipse cx="346.6" cy="267.8" rx="1.8" ry="1.5" fill="#ffe040" opacity="0.80" filter="url(#b04)"/>
<ellipse cx="348.6" cy="271.2" rx="1.7" ry="1.4" fill="#ffe040" opacity="0.81" filter="url(#b04)"/>
<ellipse cx="344.7" cy="253.9" rx="1.2" ry="1.0" fill="#40f060" opacity="0.86" filter="url(#b04)"/>
<ellipse cx="342.3" cy="246.1" rx="1.6" ry="1.3" fill="#ffe040" opacity="0.89" filter="url(#b04)"/>
<ellipse cx="345.2" cy="243.7" rx="1.4" ry="1.1" fill="#ffe040" opacity="0.69" filter="url(#b04)"/>
<ellipse cx="348.4" cy="269.6" rx="1.0" ry="0.8" fill="#30e0c0" opacity="0.80" filter="url(#b04)"/>
<ellipse cx="347.0" cy="284.2" rx="1.8" ry="1.4" fill="#30c0ff" opacity="0.85" filter="url(#b04)"/>
<ellipse cx="346.3" cy="274.3" rx="1.6" ry="1.3" fill="#ff8030" opacity="0.87" filter="url(#b04)"/>
<ellipse cx="343.7" cy="285.8" rx="1.4" ry="1.1" fill="#20a0ff" opacity="0.75" filter="url(#b04)"/>
<ellipse cx="345.7" cy="273.1" rx="1.9" ry="1.5" fill="#30e0c0" opacity="0.73" filter="url(#b04)"/>
<ellipse cx="344.2" cy="253.3" rx="1.1" ry="0.9" fill="#20a0ff" opacity="0.67" filter="url(#b04)"/>
<ellipse cx="345.7" cy="267.4" rx="1.4" ry="1.1" fill="#30c0ff" opacity="0.78" filter="url(#b04)"/>
<ellipse cx="342.8" cy="288.3" rx="1.7" ry="1.4" fill="#30e0c0" opacity="0.87" filter="url(#b04)"/>
<ellipse cx="344.6" cy="265.1" rx="1.2" ry="1.0" fill="#40f060" opacity="0.98" filter="url(#b04)"/>
<ellipse cx="344.3" cy="244.8" rx="1.8" ry="1.5" fill="#30e0c0" opacity="0.96" filter="url(#b04)"/>
<ellipse cx="345.5" cy="243.8" rx="1.7" ry="1.4" fill="#30c0ff" opacity="0.75" filter="url(#b04)"/>
<ellipse cx="348.6" cy="258.0" rx="1.4" ry="1.2" fill="#20a0ff" opacity="0.87" filter="url(#b04)"/>
<ellipse cx="346.7" cy="270.4" rx="1.6" ry="1.3" fill="#40f060" opacity="0.68" filter="url(#b04)"/>
<ellipse cx="348.7" cy="231.1" rx="1.8" ry="1.5" fill="#ff8030" opacity="0.88" filter="url(#b04)"/>
<ellipse cx="342.1" cy="260.1" rx="1.0" ry="0.8" fill="#20a0ff" opacity="0.78" filter="url(#b04)"/>
<ellipse cx="345.1" cy="290.4" rx="1.9" ry="1.6" fill="#30e0c0" opacity="0.64" filter="url(#b04)"/>
<ellipse cx="344.2" cy="257.2" rx="1.9" ry="1.5" fill="#80ff40" opacity="0.67" filter="url(#b04)"/>
<ellipse cx="346.0" cy="285.5" rx="1.4" ry="1.2" fill="#ff8030" opacity="0.62" filter="url(#b04)"/>
<ellipse cx="343.3" cy="254.0" rx="1.5" ry="1.3" fill="#30e0c0" opacity="0.83" filter="url(#b04)"/>
<ellipse cx="347.8" cy="265.2" rx="1.5" ry="1.2" fill="#ff8030" opacity="0.61" filter="url(#b04)"/>
<ellipse cx="346.1" cy="234.0" rx="1.9" ry="1.5" fill="#30c0ff" opacity="1.00" filter="url(#b04)"/>
<ellipse cx="344.1" cy="241.9" rx="1.0" ry="0.8" fill="#ff6030" opacity="0.67" filter="url(#b04)"/>
<ellipse cx="341.7" cy="270.5" rx="1.4" ry="1.1" fill="#ffffff" opacity="0.69" filter="url(#b04)"/>
<ellipse cx="344.1" cy="251.9" rx="1.7" ry="1.4" fill="#ffd060" opacity="0.87" filter="url(#b04)"/>
<ellipse cx="344.0" cy="273.7" rx="1.0" ry="0.9" fill="#ffffff" opacity="0.84" filter="url(#b04)"/>
<ellipse cx="342.3" cy="244.6" rx="1.9" ry="1.6" fill="#ffd060" opacity="0.81" filter="url(#b04)"/>
<ellipse cx="343.4" cy="289.1" rx="2.0" ry="1.7" fill="#ffffff" opacity="0.88" filter="url(#b04)"/>
<ellipse cx="343.1" cy="248.5" rx="2.0" ry="1.7" fill="#ffb040" opacity="0.96" filter="url(#b04)"/>
<ellipse cx="343.8" cy="287.5" rx="1.6" ry="1.3" fill="#ffb040" opacity="0.93" filter="url(#b04)"/>
<ellipse cx="343.3" cy="244.4" rx="1.0" ry="0.9" fill="#ffd060" opacity="0.96" filter="url(#b04)"/>
<ellipse cx="342.6" cy="248.1" rx="1.3" ry="1.1" fill="#ff6030" opacity="0.76" filter="url(#b04)"/>
<ellipse cx="344.0" cy="244.4" rx="1.6" ry="1.3" fill="#ff6030" opacity="0.83" filter="url(#b04)"/>
<ellipse cx="342.2" cy="267.4" rx="1.6" ry="1.3" fill="#ff6030" opacity="0.90" filter="url(#b04)"/>
<ellipse cx="343.9" cy="257.9" rx="1.1" ry="0.9" fill="#ff6030" opacity="0.74" filter="url(#b04)"/>
<ellipse cx="342.6" cy="256.6" rx="2.0" ry="1.6" fill="#fff0a0" opacity="0.80" filter="url(#b04)"/>
<ellipse cx="342.5" cy="239.4" rx="2.0" ry="1.6" fill="#fff0a0" opacity="0.61" filter="url(#b04)"/>
<ellipse cx="342.5" cy="244.0" rx="2.0" ry="1.6" fill="#ffffff" opacity="0.68" filter="url(#b04)"/>
<ellipse cx="341.5" cy="264.0" rx="1.9" ry="1.5" fill="#ffffff" opacity="0.90" filter="url(#b04)"/>
<ellipse cx="343.2" cy="239.7" rx="1.2" ry="1.0" fill="#ffffff" opacity="0.93" filter="url(#b04)"/>
<ellipse cx="344.0" cy="259.8" rx="1.9" ry="1.6" fill="#ff6030" opacity="0.88" filter="url(#b04)"/>
<ellipse cx="341.8" cy="249.9" rx="1.7" ry="1.4" fill="#ff6030" opacity="0.79" filter="url(#b04)"/>
<ellipse cx="341.6" cy="274.0" rx="2.0" ry="1.7" fill="#ffffff" opacity="0.93" filter="url(#b04)"/>
<ellipse cx="343.1" cy="286.8" rx="1.0" ry="0.8" fill="#ffd060" opacity="0.74" filter="url(#b04)"/>
<ellipse cx="341.6" cy="239.4" rx="1.7" ry="1.4" fill="#ffd060" opacity="0.77" filter="url(#b04)"/>
<ellipse cx="342.2" cy="236.3" rx="2.1" ry="1.7" fill="#ffb040" opacity="0.87" filter="url(#b04)"/>
<ellipse cx="344.2" cy="263.9" rx="1.5" ry="1.2" fill="#ffffff" opacity="0.67" filter="url(#b04)"/>
<ellipse cx="342.2" cy="239.5" rx="1.5" ry="1.2" fill="#fff0a0" opacity="0.76" filter="url(#b04)"/>
<ellipse cx="341.7" cy="284.9" rx="1.6" ry="1.3" fill="#fff0a0" opacity="0.62" filter="url(#b04)"/>
<ellipse cx="342.5" cy="281.5" rx="1.0" ry="0.8" fill="#fff0a0" opacity="0.90" filter="url(#b04)"/>
<ellipse cx="343.2" cy="236.8" rx="1.7" ry="1.4" fill="#ff6030" opacity="0.79" filter="url(#b04)"/>
<ellipse cx="342.1" cy="246.9" rx="1.3" ry="1.0" fill="#ffffff" opacity="0.97" filter="url(#b04)"/>
<ellipse cx="343.0" cy="244.0" rx="2.0" ry="1.7" fill="#ffb040" opacity="0.62" filter="url(#b04)"/>
<ellipse cx="342.8" cy="267.8" rx="1.0" ry="0.8" fill="#ff6030" opacity="0.88" filter="url(#b04)"/>
<ellipse cx="342.2" cy="277.0" rx="1.2" ry="1.0" fill="#ff6030" opacity="0.94" filter="url(#b04)"/>
<ellipse cx="342.1" cy="263.9" rx="1.1" ry="0.9" fill="#ffb040" opacity="0.70" filter="url(#b04)"/>
<ellipse cx="344.1" cy="272.6" rx="1.8" ry="1.4" fill="#ffd060" opacity="0.86" filter="url(#b04)"/>
<ellipse cx="341.9" cy="278.9" rx="2.0" ry="1.6" fill="#ffd060" opacity="0.86" filter="url(#b04)"/>
<ellipse cx="342.2" cy="281.3" rx="1.3" ry="1.0" fill="#ffb040" opacity="0.71" filter="url(#b04)"/>
<ellipse cx="341.8" cy="281.0" rx="1.6" ry="1.3" fill="#ffffff" opacity="0.80" filter="url(#b04)"/>
<ellipse cx="341.8" cy="264.2" rx="1.5" ry="1.3" fill="#ffb040" opacity="0.95" filter="url(#b04)"/>
<ellipse cx="343.5" cy="255.7" rx="1.7" ry="1.4" fill="#fff0a0" opacity="0.88" filter="url(#b04)"/>
<linearGradient id="st51" gradientUnits="userSpaceOnUse" x1="348" y1="0" x2="368" y2="0"><stop offset="0" stop-color="#2060ff" stop-opacity="0.9"/><stop offset="1" stop-color="#2060ff" stop-opacity="0"/></linearGradient>
<rect x="348" y="251.90" width="20" height="1.4" fill="url(#st51)" filter="url(#b04)"/>
<linearGradient id="st52" gradientUnits="userSpaceOnUse" x1="349" y1="0" x2="372" y2="0"><stop offset="0" stop-color="#1a40ff" stop-opacity="0.9"/><stop offset="1" stop-color="#1a40ff" stop-opacity="0"/></linearGradient>
<rect x="349" y="272.90" width="23" height="1.4" fill="url(#st52)" filter="url(#b04)"/>
<linearGradient id="st53" gradientUnits="userSpaceOnUse" x1="349" y1="0" x2="375" y2="0"><stop offset="0" stop-color="#2060ff" stop-opacity="0.9"/><stop offset="1" stop-color="#2060ff" stop-opacity="0"/></linearGradient>
<rect x="349" y="279.90" width="26" height="1.6" fill="url(#st53)" filter="url(#b04)"/>
<linearGradient id="st54" gradientUnits="userSpaceOnUse" x1="349" y1="0" x2="370" y2="0"><stop offset="0" stop-color="#1a30d0" stop-opacity="0.6"/><stop offset="1" stop-color="#1a30d0" stop-opacity="0"/></linearGradient>
<rect x="349" y="276.50" width="21" height="1.0" fill="url(#st54)" filter="url(#b04)"/>
<ellipse cx="382.0" cy="239.0" rx="5.50" ry="12.00" fill="#1030ff" opacity="0.6" filter="url(#b12)"/>
<ellipse cx="381.2" cy="238.1" rx="2.1" ry="1.7" fill="#20c0ff" opacity="0.78" filter="url(#b04)"/>
<ellipse cx="384.0" cy="231.4" rx="2.0" ry="1.6" fill="#20c0ff" opacity="0.85" filter="url(#b04)"/>
<ellipse cx="383.6" cy="229.7" rx="1.4" ry="1.2" fill="#30e0ff" opacity="0.82" filter="url(#b04)"/>
<ellipse cx="384.2" cy="239.4" rx="1.8" ry="1.4" fill="#20c0ff" opacity="0.99" filter="url(#b04)"/>
<ellipse cx="382.6" cy="239.1" rx="1.3" ry="1.0" fill="#30e0ff" opacity="0.93" filter="url(#b04)"/>
<ellipse cx="378.4" cy="228.6" rx="2.1" ry="1.7" fill="#40f0a0" opacity="0.61" filter="url(#b04)"/>
<ellipse cx="381.2" cy="235.9" rx="2.0" ry="1.7" fill="#40f0a0" opacity="0.69" filter="url(#b04)"/>
<ellipse cx="380.1" cy="228.1" rx="1.2" ry="1.0" fill="#40f060" opacity="0.71" filter="url(#b04)"/>
<ellipse cx="385.0" cy="245.9" rx="2.0" ry="1.7" fill="#40f060" opacity="0.70" filter="url(#b04)"/>
<ellipse cx="383.3" cy="237.2" rx="1.1" ry="0.9" fill="#40f0a0" opacity="0.91" filter="url(#b04)"/>
<ellipse cx="380.8" cy="243.2" rx="1.5" ry="1.2" fill="#30e0ff" opacity="0.94" filter="url(#b04)"/>
<ellipse cx="378.0" cy="231.8" rx="2.1" ry="1.7" fill="#20c0ff" opacity="0.75" filter="url(#b04)"/>
<ellipse cx="383.0" cy="235.6" rx="1.7" ry="1.4" fill="#40f060" opacity="0.91" filter="url(#b04)"/>
<ellipse cx="379.9" cy="229.6" rx="1.5" ry="1.2" fill="#20c0ff" opacity="0.90" filter="url(#b04)"/>
<ellipse cx="378.8" cy="232.4" rx="1.2" ry="1.0" fill="#30e0ff" opacity="0.79" filter="url(#b04)"/>
<ellipse cx="381.4" cy="240.3" rx="1.3" ry="1.1" fill="#40f0a0" opacity="0.68" filter="url(#b04)"/>
<ellipse cx="383.1" cy="230.4" rx="1.8" ry="1.5" fill="#30e0ff" opacity="0.76" filter="url(#b04)"/>
<ellipse cx="384.9" cy="228.0" rx="2.1" ry="1.7" fill="#40f0a0" opacity="0.72" filter="url(#b04)"/>
<ellipse cx="384.2" cy="231.8" rx="1.5" ry="1.3" fill="#40f0a0" opacity="0.86" filter="url(#b04)"/>
<ellipse cx="378.7" cy="245.8" rx="1.3" ry="1.1" fill="#80ff40" opacity="0.60" filter="url(#b04)"/>
<ellipse cx="382.3" cy="242.9" rx="1.5" ry="1.2" fill="#30e0ff" opacity="0.64" filter="url(#b04)"/>
<ellipse cx="382.1" cy="232.4" rx="1.8" ry="1.4" fill="#80ff40" opacity="0.85" filter="url(#b04)"/>
<ellipse cx="378.9" cy="238.6" rx="2.0" ry="1.6" fill="#40f060" opacity="0.95" filter="url(#b04)"/>
<ellipse cx="379.3" cy="230.8" rx="2.1" ry="1.7" fill="#40f0a0" opacity="0.70" filter="url(#b04)"/>
<ellipse cx="379.3" cy="241.3" rx="2.1" ry="1.7" fill="#40f060" opacity="0.87" filter="url(#b04)"/>
<ellipse cx="380.7" cy="236.7" rx="1.2" ry="1.0" fill="#30e0ff" opacity="0.64" filter="url(#b04)"/>
<ellipse cx="378.3" cy="245.3" rx="1.4" ry="1.1" fill="#40f060" opacity="0.76" filter="url(#b04)"/>
<ellipse cx="380.9" cy="244.3" rx="1.6" ry="1.3" fill="#40f0a0" opacity="0.67" filter="url(#b04)"/>
<ellipse cx="383.0" cy="229.2" rx="1.4" ry="1.1" fill="#40f0a0" opacity="0.86" filter="url(#b04)"/>
<ellipse cx="382.3" cy="229.3" rx="1.3" ry="1.1" fill="#40f060" opacity="0.90" filter="url(#b04)"/>
<ellipse cx="378.5" cy="235.4" rx="1.4" ry="1.1" fill="#30e0ff" opacity="0.67" filter="url(#b04)"/>
<ellipse cx="380.6" cy="238.3" rx="1.2" ry="1.0" fill="#80ff40" opacity="0.66" filter="url(#b04)"/>
<ellipse cx="381.2" cy="234.0" rx="1.9" ry="1.6" fill="#40f0a0" opacity="0.83" filter="url(#b04)"/>
<ellipse cx="379.0" cy="228.6" rx="1.1" ry="0.9" fill="#80ff40" opacity="0.88" filter="url(#b04)"/>
<ellipse cx="379.8" cy="233.5" rx="1.3" ry="1.1" fill="#ffe020" opacity="0.75" filter="url(#b04)"/>
<ellipse cx="383.7" cy="233.0" rx="1.3" ry="1.1" fill="#ffa020" opacity="0.88" filter="url(#b04)"/>
<ellipse cx="380.5" cy="231.5" rx="1.3" ry="1.1" fill="#ffe020" opacity="0.99" filter="url(#b04)"/>
<ellipse cx="381.1" cy="234.3" rx="1.0" ry="0.8" fill="#c0ff20" opacity="0.93" filter="url(#b04)"/>
<ellipse cx="384.0" cy="234.4" rx="1.1" ry="0.9" fill="#ffa020" opacity="0.92" filter="url(#b04)"/>
<ellipse cx="382.0" cy="273.0" rx="5.50" ry="12.00" fill="#1030ff" opacity="0.6" filter="url(#b12)"/>
<ellipse cx="381.3" cy="269.8" rx="1.7" ry="1.4" fill="#40f060" opacity="0.86" filter="url(#b04)"/>
<ellipse cx="379.0" cy="261.6" rx="1.7" ry="1.4" fill="#40f060" opacity="0.65" filter="url(#b04)"/>
<ellipse cx="379.8" cy="265.7" rx="1.4" ry="1.1" fill="#80ff40" opacity="0.65" filter="url(#b04)"/>
<ellipse cx="378.0" cy="257.9" rx="2.0" ry="1.6" fill="#40f060" opacity="0.63" filter="url(#b04)"/>
<ellipse cx="382.9" cy="261.0" rx="1.3" ry="1.1" fill="#80ff40" opacity="0.90" filter="url(#b04)"/>
<ellipse cx="385.7" cy="264.6" rx="1.3" ry="1.1" fill="#40f060" opacity="0.79" filter="url(#b04)"/>
<ellipse cx="381.6" cy="262.8" rx="1.5" ry="1.2" fill="#80ff40" opacity="0.96" filter="url(#b04)"/>
<ellipse cx="379.2" cy="263.2" rx="1.4" ry="1.1" fill="#30e0d0" opacity="0.92" filter="url(#b04)"/>
<ellipse cx="385.3" cy="265.7" rx="1.6" ry="1.3" fill="#30e0d0" opacity="0.99" filter="url(#b04)"/>
<ellipse cx="377.7" cy="267.5" rx="1.6" ry="1.3" fill="#80ff40" opacity="0.68" filter="url(#b04)"/>
<ellipse cx="383.2" cy="266.0" rx="1.2" ry="1.0" fill="#ff8020" opacity="0.71" filter="url(#b04)"/>
<ellipse cx="381.9" cy="266.6" rx="1.2" ry="1.0" fill="#ffc020" opacity="0.79" filter="url(#b04)"/>
<ellipse cx="382.7" cy="264.3" rx="1.3" ry="1.0" fill="#ffc020" opacity="0.69" filter="url(#b04)"/>
<ellipse cx="382.9" cy="277.9" rx="1.7" ry="1.4" fill="#40f060" opacity="0.97" filter="url(#b04)"/>
<ellipse cx="382.6" cy="279.0" rx="1.8" ry="1.5" fill="#40f060" opacity="0.94" filter="url(#b04)"/>
<ellipse cx="384.6" cy="278.0" rx="1.4" ry="1.1" fill="#20a0ff" opacity="0.71" filter="url(#b04)"/>
<ellipse cx="382.3" cy="280.2" rx="1.9" ry="1.5" fill="#20a0ff" opacity="0.92" filter="url(#b04)"/>
<ellipse cx="383.6" cy="284.7" rx="1.6" ry="1.3" fill="#40f060" opacity="0.83" filter="url(#b04)"/>
<ellipse cx="384.3" cy="275.1" rx="1.5" ry="1.2" fill="#20a0ff" opacity="0.78" filter="url(#b04)"/>
<ellipse cx="380.8" cy="282.2" rx="1.5" ry="1.2" fill="#30e0c0" opacity="0.80" filter="url(#b04)"/>
<ellipse cx="383.0" cy="277.8" rx="1.2" ry="1.0" fill="#40f060" opacity="0.85" filter="url(#b04)"/>
<ellipse cx="383.7" cy="272.4" rx="1.1" ry="0.9" fill="#30c0ff" opacity="0.66" filter="url(#b04)"/>
<ellipse cx="386.1" cy="273.0" rx="1.4" ry="1.2" fill="#30e0c0" opacity="0.79" filter="url(#b04)"/>
<ellipse cx="384.4" cy="274.8" rx="1.5" ry="1.2" fill="#40f060" opacity="0.67" filter="url(#b04)"/>
<ellipse cx="385.0" cy="277.1" rx="1.3" ry="1.1" fill="#20a0ff" opacity="0.67" filter="url(#b04)"/>
<ellipse cx="382.0" cy="302.0" rx="5.50" ry="6.50" fill="#1030ff" opacity="0.6" filter="url(#b12)"/>
<ellipse cx="382.0" cy="302.0" rx="4.20" ry="5.20" fill="#40e060" opacity="0.9" filter="url(#b08)"/>
<ellipse cx="380.4" cy="304.4" rx="1.5" ry="1.2" fill="#30e0c0" opacity="0.60" filter="url(#b04)"/>
<ellipse cx="384.1" cy="298.5" rx="1.3" ry="1.1" fill="#40f060" opacity="0.60" filter="url(#b04)"/>
<ellipse cx="381.4" cy="304.4" rx="1.2" ry="1.0" fill="#a0ff20" opacity="0.84" filter="url(#b04)"/>
<ellipse cx="383.5" cy="302.3" rx="1.6" ry="1.3" fill="#40f060" opacity="0.96" filter="url(#b04)"/>
<ellipse cx="383.2" cy="298.1" rx="1.1" ry="0.9" fill="#30e0c0" opacity="0.84" filter="url(#b04)"/>
<ellipse cx="380.2" cy="294.2" rx="1.8" ry="1.5" fill="#30e0c0" opacity="0.70" filter="url(#b04)"/>
<ellipse cx="382.5" cy="299.5" rx="1.5" ry="1.2" fill="#a0ff20" opacity="0.67" filter="url(#b04)"/>
<ellipse cx="379.3" cy="300.6" rx="1.3" ry="1.1" fill="#40f060" opacity="0.93" filter="url(#b04)"/>
<ellipse cx="382.5" cy="301.5" rx="2.40" ry="2.80" fill="#ffa020" opacity="0.9" filter="url(#b08)"/>
<ellipse cx="382.5" cy="301.5" rx="1.20" ry="1.50" fill="#ff3000" opacity="0.8" filter="url(#b04)"/>
<line x1="377.9" y1="192" x2="377.9" y2="318.5" stroke="#c8c8c8" stroke-width="0.9" stroke-dasharray="3,2.2"/>
<line x1="387.1" y1="192" x2="387.1" y2="318.5" stroke="#c8c8c8" stroke-width="0.9" stroke-dasharray="3,2.2"/>
</g>
<g clip-path="url(#clipc2)">
<rect x="520.3" y="192" width="132.70000000000005" height="126.5" fill="#000000"/>
<linearGradient id="bg55" gradientUnits="userSpaceOnUse" x1="520" y1="0" x2="653" y2="0"><stop offset="0.000" stop-color="#2030b0"/><stop offset="1.000" stop-color="#2030b0"/></linearGradient>
<polygon points="520.0,253.90 653.0,253.90 653.0,254.70 520.0,254.70" fill="url(#bg55)" filter="url(#b04)"/>
<linearGradient id="st56" gradientUnits="userSpaceOnUse" x1="520" y1="0" x2="660" y2="0"><stop offset="0" stop-color="#f4f4f4" stop-opacity="1.0"/><stop offset="1" stop-color="#f4f4f4" stop-opacity="0"/></linearGradient>
<rect x="520" y="253.85" width="140" height="0.9" fill="url(#st56)" filter="url(#b04)"/>
<ellipse cx="610.7" cy="254.3" rx="1.50" ry="0.80" fill="#ffe040" opacity="0.9" filter="url(#b04)"/>
<line x1="520" y1="246.4" x2="529" y2="246.4" stroke="#2030c0" stroke-width="0.8" opacity="0.45"/>
<line x1="552" y1="246" x2="575" y2="246" stroke="#2030c0" stroke-width="0.8" opacity="0.45"/>
<linearGradient id="bg57" gradientUnits="userSpaceOnUse" x1="524" y1="0" x2="653" y2="0"><stop offset="0.000" stop-color="#1028a0"/><stop offset="1.000" stop-color="#1028a0"/></linearGradient>
<polygon points="524.0,277.80 653.0,277.80 653.0,279.40 524.0,279.40" fill="url(#bg57)" filter="url(#b08)"/>
<linearGradient id="st58" gradientUnits="userSpaceOnUse" x1="524" y1="0" x2="600" y2="0"><stop offset="0" stop-color="#e0fff0" stop-opacity="1.0"/><stop offset="1" stop-color="#e0fff0" stop-opacity="0"/></linearGradient>
<rect x="524" y="277.60" width="76" height="1.6" fill="url(#st58)" filter="url(#b04)"/>
<linearGradient id="st59" gradientUnits="userSpaceOnUse" x1="526" y1="0" x2="556" y2="0"><stop offset="0" stop-color="#40f0a0" stop-opacity="0.85"/><stop offset="1" stop-color="#40f0a0" stop-opacity="0"/></linearGradient>
<rect x="526" y="278.30" width="30" height="2.2" fill="url(#st59)" filter="url(#b04)"/>
<linearGradient id="st60" gradientUnits="userSpaceOnUse" x1="526" y1="0" x2="552" y2="0"><stop offset="0" stop-color="#2060ff" stop-opacity="0.8"/><stop offset="1" stop-color="#2060ff" stop-opacity="0"/></linearGradient>
<rect x="526" y="281.70" width="26" height="1.6" fill="url(#st60)" filter="url(#b04)"/>
<linearGradient id="st61" gradientUnits="userSpaceOnUse" x1="524" y1="0" x2="610" y2="0"><stop offset="0" stop-color="#2060ff" stop-opacity="0.6"/><stop offset="1" stop-color="#2060ff" stop-opacity="0"/></linearGradient>
<rect x="524" y="277.30" width="86" height="2.6" fill="url(#st61)" filter="url(#b12)"/>
<ellipse cx="524.0" cy="280.0" rx="6.00" ry="7.00" fill="#2a70ff" opacity="0.85" filter="url(#b12)"/>
<ellipse cx="523.5" cy="280.0" rx="4.20" ry="5.80" fill="#d0fff0" filter="url(#b08)"/>
<ellipse cx="523.0" cy="280.0" rx="3.20" ry="4.50" fill="#ffffff" filter="url(#b04)"/>
<ellipse cx="522.0" cy="263.5" rx="2.20" ry="2.50" fill="#30e0d0" opacity="0.9" filter="url(#b08)"/>
<ellipse cx="522.0" cy="263.5" rx="1.00" ry="1.20" fill="#ffe060" opacity="0.6" filter="url(#b04)"/>
<ellipse cx="522.0" cy="295.6" rx="1.80" ry="2.00" fill="#2060ff" opacity="0.8" filter="url(#b08)"/>
<ellipse cx="522.0" cy="306.5" rx="2.20" ry="2.50" fill="#30e0b0" opacity="0.9" filter="url(#b08)"/>
<ellipse cx="521.5" cy="230.0" rx="1.50" ry="1.50" fill="#2040ff" opacity="0.7" filter="url(#b04)"/>
<ellipse cx="565.2" cy="211.4" rx="2.50" ry="2.50" fill="#1a40ff" opacity="0.9" filter="url(#b08)"/>
<ellipse cx="566.5" cy="231.5" rx="2.80" ry="2.50" fill="#2050ff" opacity="0.95" filter="url(#b08)"/>
<ellipse cx="563.5" cy="240.0" rx="2.20" ry="2.20" fill="#2050ff" opacity="0.9" filter="url(#b08)"/>
<ellipse cx="565.5" cy="263.0" rx="2.80" ry="2.80" fill="#2a90ff" opacity="0.9" filter="url(#b08)"/>
<ellipse cx="566.0" cy="278.5" rx="3.20" ry="3.00" fill="#60ffc0" filter="url(#b08)"/>
<ellipse cx="569.0" cy="279.5" rx="1.80" ry="2.00" fill="#f0f040" opacity="0.8" filter="url(#b08)"/>
<ellipse cx="565.0" cy="296.0" rx="2.20" ry="2.50" fill="#2060ff" opacity="0.9" filter="url(#b08)"/>
<ellipse cx="565.5" cy="306.0" rx="2.80" ry="3.00" fill="#30e0d0" opacity="0.95" filter="url(#b08)"/>
<ellipse cx="566.0" cy="313.0" rx="2.00" ry="2.00" fill="#2050ff" opacity="0.8" filter="url(#b08)"/>
<ellipse cx="565.5" cy="258.0" rx="1.80" ry="2.00" fill="#2050ff" opacity="0.7" filter="url(#b08)"/>
<ellipse cx="564.0" cy="285.0" rx="1.80" ry="2.00" fill="#2050ff" opacity="0.7" filter="url(#b08)"/>
<ellipse cx="610.0" cy="278.6" rx="5.00" ry="1.80" fill="#2090ff" opacity="0.9" filter="url(#b08)"/>
<ellipse cx="610.0" cy="278.6" rx="3.00" ry="1.00" fill="#a0ffff" opacity="0.9" filter="url(#b04)"/>
<ellipse cx="610.0" cy="294.0" rx="1.50" ry="2.50" fill="#1020a0" opacity="0.7" filter="url(#b08)"/>
<ellipse cx="610.0" cy="305.0" rx="1.50" ry="2.50" fill="#1020a0" opacity="0.6" filter="url(#b08)"/>
<line x1="560.6" y1="192" x2="560.6" y2="318.5" stroke="#c8c8c8" stroke-width="0.9" stroke-dasharray="3,2.2"/>
<line x1="570.4" y1="192" x2="570.4" y2="318.5" stroke="#c8c8c8" stroke-width="0.9" stroke-dasharray="3,2.2"/>
</g>
<line x1="285.5" y1="254.5" x2="288.5" y2="254.5" stroke="#222" stroke-width="0.8"/>
<line x1="285.5" y1="229.95" x2="287.3" y2="229.95" stroke="#222" stroke-width="0.8"/>
<line x1="285.5" y1="205.4" x2="288.5" y2="205.4" stroke="#222" stroke-width="0.8"/>
<line x1="285.5" y1="180.85000000000002" x2="287.3" y2="180.85000000000002" stroke="#222" stroke-width="0.8"/>
<line x1="285.5" y1="156.3" x2="288.5" y2="156.3" stroke="#222" stroke-width="0.8"/>
<line x1="285.5" y1="131.75" x2="287.3" y2="131.75" stroke="#222" stroke-width="0.8"/>
<line x1="285.5" y1="107.20000000000002" x2="288.5" y2="107.20000000000002" stroke="#222" stroke-width="0.8"/>
<line x1="285.5" y1="82.65" x2="287.3" y2="82.65" stroke="#222" stroke-width="0.8"/>
<line x1="285.5" y1="58.099999999999994" x2="288.5" y2="58.099999999999994" stroke="#222" stroke-width="0.8"/>
<line x1="285.5" y1="33.54999999999998" x2="287.3" y2="33.54999999999998" stroke="#222" stroke-width="0.8"/>
<line x1="285.5" y1="9.0" x2="288.5" y2="9.0" stroke="#222" stroke-width="0.8"/>
<text x="291" y="258.5" font-size="11.5" fill="#1e1e1e" stroke="#1e1e1e" stroke-width="0.22" textLength="12.8" lengthAdjust="spacingAndGlyphs">18</text>
<text x="291" y="209.4" font-size="11.5" fill="#1e1e1e" stroke="#1e1e1e" stroke-width="0.22" textLength="12.8" lengthAdjust="spacingAndGlyphs">20</text>
<text x="291" y="160.3" font-size="11.5" fill="#1e1e1e" stroke="#1e1e1e" stroke-width="0.22" textLength="12.8" lengthAdjust="spacingAndGlyphs">22</text>
<text x="291" y="111.2" font-size="11.5" fill="#1e1e1e" stroke="#1e1e1e" stroke-width="0.22" textLength="12.8" lengthAdjust="spacingAndGlyphs">24</text>
<text x="291" y="62.1" font-size="11.5" fill="#1e1e1e" stroke="#1e1e1e" stroke-width="0.22" textLength="12.8" lengthAdjust="spacingAndGlyphs">26</text>
<text x="291" y="13.0" font-size="11.5" fill="#1e1e1e" stroke="#1e1e1e" stroke-width="0.22" textLength="12.8" lengthAdjust="spacingAndGlyphs">28</text>
<line x1="40.0" y1="254.5" x2="40.0" y2="257.7" stroke="#222" stroke-width="0.8"/>
<line x1="60.45833333333333" y1="254.5" x2="60.45833333333333" y2="256.0" stroke="#222" stroke-width="0.8"/>
<line x1="80.91666666666666" y1="254.5" x2="80.91666666666666" y2="257.7" stroke="#222" stroke-width="0.8"/>
<line x1="101.375" y1="254.5" x2="101.375" y2="256.0" stroke="#222" stroke-width="0.8"/>
<line x1="121.83333333333333" y1="254.5" x2="121.83333333333333" y2="257.7" stroke="#222" stroke-width="0.8"/>
<line x1="142.29166666666669" y1="254.5" x2="142.29166666666669" y2="256.0" stroke="#222" stroke-width="0.8"/>
<line x1="162.75" y1="254.5" x2="162.75" y2="257.7" stroke="#222" stroke-width="0.8"/>
<line x1="183.20833333333334" y1="254.5" x2="183.20833333333334" y2="256.0" stroke="#222" stroke-width="0.8"/>
<line x1="203.66666666666666" y1="254.5" x2="203.66666666666666" y2="257.7" stroke="#222" stroke-width="0.8"/>
<line x1="224.125" y1="254.5" x2="224.125" y2="256.0" stroke="#222" stroke-width="0.8"/>
<line x1="244.58333333333334" y1="254.5" x2="244.58333333333334" y2="257.7" stroke="#222" stroke-width="0.8"/>
<line x1="265.04166666666663" y1="254.5" x2="265.04166666666663" y2="256.0" stroke="#222" stroke-width="0.8"/>
<line x1="285.5" y1="254.5" x2="285.5" y2="257.7" stroke="#222" stroke-width="0.8"/>
<text x="31.6" y="269.2" font-size="11.3" fill="#1e1e1e" stroke="#1e1e1e" stroke-width="0.22" textLength="16.2" lengthAdjust="spacingAndGlyphs">-40</text>
<text x="72.52" y="269.2" font-size="11.3" fill="#1e1e1e" stroke="#1e1e1e" stroke-width="0.22" textLength="16.2" lengthAdjust="spacingAndGlyphs">-30</text>
<text x="113.43" y="269.2" font-size="11.3" fill="#1e1e1e" stroke="#1e1e1e" stroke-width="0.22" textLength="16.2" lengthAdjust="spacingAndGlyphs">-20</text>
<text x="154.35" y="269.2" font-size="11.3" fill="#1e1e1e" stroke="#1e1e1e" stroke-width="0.22" textLength="16.2" lengthAdjust="spacingAndGlyphs">-10</text>
<text x="200.57" y="269.2" font-size="11.3" fill="#1e1e1e" stroke="#1e1e1e" stroke-width="0.22" textLength="6.2" lengthAdjust="spacingAndGlyphs">0</text>
<text x="238.28" y="269.2" font-size="11.3" fill="#1e1e1e" stroke="#1e1e1e" stroke-width="0.22" textLength="12.6" lengthAdjust="spacingAndGlyphs">10</text>
<text x="279.2" y="269.2" font-size="11.3" fill="#1e1e1e" stroke="#1e1e1e" stroke-width="0.22" textLength="12.6" lengthAdjust="spacingAndGlyphs">20</text>
<text x="135.6" y="286" font-size="14" fill="#1e1e1e" stroke="#1e1e1e" stroke-width="0.22" textLength="61.6" lengthAdjust="spacingAndGlyphs">Delay (fs)</text>
<text transform="translate(320.2,179.2) rotate(-90)" font-size="14.3" fill="#1e1e1e" textLength="78" lengthAdjust="spacingAndGlyphs">Energy (eV)</text>
<text x="3.5" y="18.2" font-size="21" fill="#111" stroke="#111" stroke-width="0.45" font-weight="bold">a</text>
<text x="323.9" y="18.2" font-size="21" fill="#111" stroke="#111" stroke-width="0.45" font-weight="bold">b</text>
<text x="324.4" y="201.2" font-size="21" fill="#111" stroke="#111" stroke-width="0.45" font-weight="bold">c</text>
<line x1="36" y1="93.3" x2="40" y2="93.3" stroke="#222" stroke-width="1"/>
<text x="27.8" y="95.4" font-size="9.5" fill="#1e1e1e" stroke="#1e1e1e" stroke-width="0.22">I</text>
<text x="30.8" y="100.2" font-size="6" fill="#1e1e1e" stroke="#1e1e1e" stroke-width="0.22">p</text>
<line x1="36" y1="114" x2="40" y2="114" stroke="#222" stroke-width="1"/>
<text x="11.8" y="117.2" font-size="9.9" fill="#1e1e1e" stroke="#1e1e1e" stroke-width="0.22" textLength="19.2" lengthAdjust="spacingAndGlyphs">1s4p</text>
<line x1="36" y1="130" x2="40" y2="130" stroke="#222" stroke-width="1"/>
<text x="11.8" y="133.2" font-size="9.9" fill="#1e1e1e" stroke="#1e1e1e" stroke-width="0.22" textLength="19.2" lengthAdjust="spacingAndGlyphs">1s3p</text>
<line x1="36" y1="149" x2="40" y2="149" stroke="#3434c8" stroke-width="1"/>
<text x="3.2" y="153.5" font-size="10" fill="#3434c8" stroke="#3434c8" stroke-width="0.22" textLength="9.6" lengthAdjust="spacingAndGlyphs">2s</text>
<text x="13.4" y="149.6" font-size="5.5" fill="#3434c8" stroke="#3434c8" stroke-width="0.22">+</text>
<text x="16.4" y="153.5" font-size="10" fill="#3434c8" stroke="#3434c8" stroke-width="0.22">,</text>
<text x="22" y="153.5" font-size="10" fill="#3434c8" stroke="#3434c8" stroke-width="0.22" textLength="9.2" lengthAdjust="spacingAndGlyphs">4s</text>
<line x1="31.6" y1="148" x2="33.5" y2="148" stroke="#3434c8" stroke-width="0.8"/>
<line x1="36" y1="169.3" x2="40" y2="169.3" stroke="#4fcf4f" stroke-width="1"/>
<text x="4.1" y="167.9" font-size="10" fill="#3434c8" stroke="#3434c8" stroke-width="0.22" textLength="9.6" lengthAdjust="spacingAndGlyphs">3s</text>
<line x1="14.2" y1="162.3" x2="15.8" y2="162.3" stroke="#3434c8" stroke-width="0.8"/>
<text x="16.4" y="167.9" font-size="10" fill="#3434c8" stroke="#3434c8" stroke-width="0.22">,</text>
<text x="21.8" y="167.9" font-size="10" fill="#4fcf4f" stroke="#4fcf4f" stroke-width="0.22" textLength="9.3" lengthAdjust="spacingAndGlyphs">3d</text>
<line x1="31.6" y1="162.3" x2="33.4" y2="162.3" stroke="#4fcf4f" stroke-width="0.8"/>
<line x1="36" y1="175.5" x2="40" y2="175.5" stroke="#222" stroke-width="1"/>
<text x="11.8" y="178.8" font-size="9.9" fill="#1e1e1e" stroke="#1e1e1e" stroke-width="0.22" textLength="19.2" lengthAdjust="spacingAndGlyphs">1s2p</text>
<line x1="36" y1="181.5" x2="40" y2="181.5" stroke="#e83232" stroke-width="1"/>
<text x="20.6" y="189.2" font-size="9.8" fill="#e83232" stroke="#e83232" stroke-width="0.22" textLength="9.8" lengthAdjust="spacingAndGlyphs" font-style="italic">np</text>
<text x="31.0" y="183.6" font-size="6" fill="#e83232" stroke="#e83232" stroke-width="0.22" textLength="4.4" lengthAdjust="spacingAndGlyphs">2-</text>
<line x1="36" y1="232.4" x2="40" y2="232.4" stroke="#2a2aa8" stroke-width="1"/>
<text x="21.9" y="236.6" font-size="10" fill="#2a2aa8" stroke="#2a2aa8" stroke-width="0.22" textLength="9.4" lengthAdjust="spacingAndGlyphs">2s</text>
<line x1="31.6" y1="229.8" x2="33.4" y2="229.8" stroke="#2a2aa8" stroke-width="0.8"/>
<rect x="48" y="306" width="229" height="11" fill="url(#cbar)"/>
<text x="49.0" y="324.9" font-size="9" fill="#1e1e1e" stroke="#1e1e1e" stroke-width="0.22" text-anchor="middle">0.030</text>
<text x="125.0" y="324.9" font-size="9" fill="#1e1e1e" stroke="#1e1e1e" stroke-width="0.22" text-anchor="middle">0.015</text>
<text x="201.0" y="324.9" font-size="9" fill="#1e1e1e" stroke="#1e1e1e" stroke-width="0.22" text-anchor="middle">0.000</text>
<text x="276.0" y="324.9" font-size="9" fill="#1e1e1e" stroke="#1e1e1e" stroke-width="0.22" text-anchor="middle">-0.015</text>
<text x="129.9" y="341.8" font-size="10.3" fill="#1e1e1e" stroke="#1e1e1e" stroke-width="0.22" textLength="74.5" lengthAdjust="spacingAndGlyphs">Abs. (arb. units)</text>
<rect x="341" y="8.5" width="131.7" height="126.80000000000001" fill="none" stroke="#222" stroke-width="0.7"/>
<line x1="472.7" y1="135.3" x2="475.3" y2="135.3" stroke="#222" stroke-width="0.7"/>
<line x1="472.7" y1="122.62" x2="474.2" y2="122.62" stroke="#222" stroke-width="0.7"/>
<line x1="472.7" y1="109.94000000000001" x2="475.3" y2="109.94000000000001" stroke="#222" stroke-width="0.7"/>
<line x1="472.7" y1="97.26000000000002" x2="474.2" y2="97.26000000000002" stroke="#222" stroke-width="0.7"/>
<line x1="472.7" y1="84.58000000000001" x2="475.3" y2="84.58000000000001" stroke="#222" stroke-width="0.7"/>
<line x1="472.7" y1="71.9" x2="474.2" y2="71.9" stroke="#222" stroke-width="0.7"/>
<line x1="472.7" y1="59.22000000000001" x2="475.3" y2="59.22000000000001" stroke="#222" stroke-width="0.7"/>
<line x1="472.7" y1="46.540000000000006" x2="474.2" y2="46.540000000000006" stroke="#222" stroke-width="0.7"/>
<line x1="472.7" y1="33.86" x2="475.3" y2="33.86" stroke="#222" stroke-width="0.7"/>
<line x1="472.7" y1="21.179999999999993" x2="474.2" y2="21.179999999999993" stroke="#222" stroke-width="0.7"/>
<line x1="472.7" y1="8.5" x2="475.3" y2="8.5" stroke="#222" stroke-width="0.7"/>
<text x="476.9" y="138.7" font-size="9.6" fill="#1e1e1e" stroke="#1e1e1e" stroke-width="0.22" textLength="10.2" lengthAdjust="spacingAndGlyphs">18</text>
<text x="476.9" y="113.34" font-size="9.6" fill="#1e1e1e" stroke="#1e1e1e" stroke-width="0.22" textLength="10.2" lengthAdjust="spacingAndGlyphs">20</text>
<text x="476.9" y="87.98" font-size="9.6" fill="#1e1e1e" stroke="#1e1e1e" stroke-width="0.22" textLength="10.2" lengthAdjust="spacingAndGlyphs">22</text>
<text x="476.9" y="62.62" font-size="9.6" fill="#1e1e1e" stroke="#1e1e1e" stroke-width="0.22" textLength="10.2" lengthAdjust="spacingAndGlyphs">24</text>
<text x="476.9" y="37.26" font-size="9.6" fill="#1e1e1e" stroke="#1e1e1e" stroke-width="0.22" textLength="10.2" lengthAdjust="spacingAndGlyphs">26</text>
<text x="476.9" y="11.9" font-size="9.6" fill="#1e1e1e" stroke="#1e1e1e" stroke-width="0.22" textLength="10.2" lengthAdjust="spacingAndGlyphs">28</text>
<line x1="341.0" y1="135.3" x2="341.0" y2="137.9" stroke="#222" stroke-width="0.7"/>
<line x1="354.17" y1="135.3" x2="354.17" y2="136.8" stroke="#222" stroke-width="0.7"/>
<line x1="367.34" y1="135.3" x2="367.34" y2="137.9" stroke="#222" stroke-width="0.7"/>
<line x1="380.51" y1="135.3" x2="380.51" y2="136.8" stroke="#222" stroke-width="0.7"/>
<line x1="393.68" y1="135.3" x2="393.68" y2="137.9" stroke="#222" stroke-width="0.7"/>
<line x1="406.85" y1="135.3" x2="406.85" y2="136.8" stroke="#222" stroke-width="0.7"/>
<line x1="420.02" y1="135.3" x2="420.02" y2="137.9" stroke="#222" stroke-width="0.7"/>
<line x1="433.19" y1="135.3" x2="433.19" y2="136.8" stroke="#222" stroke-width="0.7"/>
<line x1="446.36" y1="135.3" x2="446.36" y2="137.9" stroke="#222" stroke-width="0.7"/>
<line x1="459.53" y1="135.3" x2="459.53" y2="136.8" stroke="#222" stroke-width="0.7"/>
<line x1="472.7" y1="135.3" x2="472.7" y2="137.9" stroke="#222" stroke-width="0.7"/>
<text x="338.6" y="146.9" font-size="9.6" fill="#1e1e1e" stroke="#1e1e1e" stroke-width="0.22" textLength="4.8" lengthAdjust="spacingAndGlyphs">0</text>
<text x="364.94" y="146.9" font-size="9.6" fill="#1e1e1e" stroke="#1e1e1e" stroke-width="0.22" textLength="4.8" lengthAdjust="spacingAndGlyphs">2</text>
<text x="391.28" y="146.9" font-size="9.6" fill="#1e1e1e" stroke="#1e1e1e" stroke-width="0.22" textLength="4.8" lengthAdjust="spacingAndGlyphs">4</text>
<text x="417.62" y="146.9" font-size="9.6" fill="#1e1e1e" stroke="#1e1e1e" stroke-width="0.22" textLength="4.8" lengthAdjust="spacingAndGlyphs">6</text>
<text x="443.96" y="146.9" font-size="9.6" fill="#1e1e1e" stroke="#1e1e1e" stroke-width="0.22" textLength="4.8" lengthAdjust="spacingAndGlyphs">8</text>
<text x="467.6" y="146.9" font-size="9.6" fill="#1e1e1e" stroke="#1e1e1e" stroke-width="0.22" textLength="10.2" lengthAdjust="spacingAndGlyphs">10</text>
<text x="363.9" y="160.7" font-size="10.7" fill="#1e1e1e" stroke="#1e1e1e" stroke-width="0.22" textLength="96.6" lengthAdjust="spacingAndGlyphs">FFT Frequency (eV)</text>
<text transform="translate(500.3,104.8) rotate(-90)" font-size="10.4" fill="#1e1e1e" textLength="56.5" lengthAdjust="spacingAndGlyphs">Energy (eV)</text>
<rect x="520.3" y="8.5" width="132.70000000000005" height="126.80000000000001" fill="none" stroke="#222" stroke-width="0.7"/>
<line x1="653" y1="135.3" x2="655.6" y2="135.3" stroke="#222" stroke-width="0.7"/>
<line x1="653" y1="122.62" x2="654.5" y2="122.62" stroke="#222" stroke-width="0.7"/>
<line x1="653" y1="109.94000000000001" x2="655.6" y2="109.94000000000001" stroke="#222" stroke-width="0.7"/>
<line x1="653" y1="97.26000000000002" x2="654.5" y2="97.26000000000002" stroke="#222" stroke-width="0.7"/>
<line x1="653" y1="84.58000000000001" x2="655.6" y2="84.58000000000001" stroke="#222" stroke-width="0.7"/>
<line x1="653" y1="71.9" x2="654.5" y2="71.9" stroke="#222" stroke-width="0.7"/>
<line x1="653" y1="59.22000000000001" x2="655.6" y2="59.22000000000001" stroke="#222" stroke-width="0.7"/>
<line x1="653" y1="46.540000000000006" x2="654.5" y2="46.540000000000006" stroke="#222" stroke-width="0.7"/>
<line x1="653" y1="33.86" x2="655.6" y2="33.86" stroke="#222" stroke-width="0.7"/>
<line x1="653" y1="21.179999999999993" x2="654.5" y2="21.179999999999993" stroke="#222" stroke-width="0.7"/>
<line x1="653" y1="8.5" x2="655.6" y2="8.5" stroke="#222" stroke-width="0.7"/>
<text x="657.2" y="138.7" font-size="9.6" fill="#1e1e1e" stroke="#1e1e1e" stroke-width="0.22" textLength="10.2" lengthAdjust="spacingAndGlyphs">18</text>
<text x="657.2" y="113.34" font-size="9.6" fill="#1e1e1e" stroke="#1e1e1e" stroke-width="0.22" textLength="10.2" lengthAdjust="spacingAndGlyphs">20</text>
<text x="657.2" y="87.98" font-size="9.6" fill="#1e1e1e" stroke="#1e1e1e" stroke-width="0.22" textLength="10.2" lengthAdjust="spacingAndGlyphs">22</text>
<text x="657.2" y="62.62" font-size="9.6" fill="#1e1e1e" stroke="#1e1e1e" stroke-width="0.22" textLength="10.2" lengthAdjust="spacingAndGlyphs">24</text>
<text x="657.2" y="37.26" font-size="9.6" fill="#1e1e1e" stroke="#1e1e1e" stroke-width="0.22" textLength="10.2" lengthAdjust="spacingAndGlyphs">26</text>
<text x="657.2" y="11.9" font-size="9.6" fill="#1e1e1e" stroke="#1e1e1e" stroke-width="0.22" textLength="10.2" lengthAdjust="spacingAndGlyphs">28</text>
<line x1="520.3" y1="135.3" x2="520.3" y2="137.9" stroke="#222" stroke-width="0.7"/>
<line x1="533.5699999999999" y1="135.3" x2="533.5699999999999" y2="136.8" stroke="#222" stroke-width="0.7"/>
<line x1="546.8399999999999" y1="135.3" x2="546.8399999999999" y2="137.9" stroke="#222" stroke-width="0.7"/>
<line x1="560.11" y1="135.3" x2="560.11" y2="136.8" stroke="#222" stroke-width="0.7"/>
<line x1="573.38" y1="135.3" x2="573.38" y2="137.9" stroke="#222" stroke-width="0.7"/>
<line x1="586.65" y1="135.3" x2="586.65" y2="136.8" stroke="#222" stroke-width="0.7"/>
<line x1="599.92" y1="135.3" x2="599.92" y2="137.9" stroke="#222" stroke-width="0.7"/>
<line x1="613.1899999999999" y1="135.3" x2="613.1899999999999" y2="136.8" stroke="#222" stroke-width="0.7"/>
<line x1="626.46" y1="135.3" x2="626.46" y2="137.9" stroke="#222" stroke-width="0.7"/>
<line x1="639.73" y1="135.3" x2="639.73" y2="136.8" stroke="#222" stroke-width="0.7"/>
<line x1="653.0" y1="135.3" x2="653.0" y2="137.9" stroke="#222" stroke-width="0.7"/>
<text x="517.9" y="146.9" font-size="9.6" fill="#1e1e1e" stroke="#1e1e1e" stroke-width="0.22" textLength="4.8" lengthAdjust="spacingAndGlyphs">0</text>
<text x="544.44" y="146.9" font-size="9.6" fill="#1e1e1e" stroke="#1e1e1e" stroke-width="0.22" textLength="4.8" lengthAdjust="spacingAndGlyphs">2</text>
<text x="570.98" y="146.9" font-size="9.6" fill="#1e1e1e" stroke="#1e1e1e" stroke-width="0.22" textLength="4.8" lengthAdjust="spacingAndGlyphs">4</text>
<text x="597.52" y="146.9" font-size="9.6" fill="#1e1e1e" stroke="#1e1e1e" stroke-width="0.22" textLength="4.8" lengthAdjust="spacingAndGlyphs">6</text>
<text x="624.06" y="146.9" font-size="9.6" fill="#1e1e1e" stroke="#1e1e1e" stroke-width="0.22" textLength="4.8" lengthAdjust="spacingAndGlyphs">8</text>
<text x="647.9" y="146.9" font-size="9.6" fill="#1e1e1e" stroke="#1e1e1e" stroke-width="0.22" textLength="10.2" lengthAdjust="spacingAndGlyphs">10</text>
<text x="538.5" y="160.7" font-size="10.7" fill="#1e1e1e" stroke="#1e1e1e" stroke-width="0.22" textLength="96.6" lengthAdjust="spacingAndGlyphs">FFT Frequency (eV)</text>
<text transform="translate(679.4,105.3) rotate(-90)" font-size="10.4" fill="#1e1e1e" textLength="56.5" lengthAdjust="spacingAndGlyphs">Energy (eV)</text>
<rect x="341" y="192" width="131.7" height="126.5" fill="none" stroke="#222" stroke-width="0.7"/>
<line x1="472.7" y1="318.5" x2="475.3" y2="318.5" stroke="#222" stroke-width="0.7"/>
<line x1="472.7" y1="305.85" x2="474.2" y2="305.85" stroke="#222" stroke-width="0.7"/>
<line x1="472.7" y1="293.2" x2="475.3" y2="293.2" stroke="#222" stroke-width="0.7"/>
<line x1="472.7" y1="280.55" x2="474.2" y2="280.55" stroke="#222" stroke-width="0.7"/>
<line x1="472.7" y1="267.9" x2="475.3" y2="267.9" stroke="#222" stroke-width="0.7"/>
<line x1="472.7" y1="255.25" x2="474.2" y2="255.25" stroke="#222" stroke-width="0.7"/>
<line x1="472.7" y1="242.60000000000002" x2="475.3" y2="242.60000000000002" stroke="#222" stroke-width="0.7"/>
<line x1="472.7" y1="229.95" x2="474.2" y2="229.95" stroke="#222" stroke-width="0.7"/>
<line x1="472.7" y1="217.3" x2="475.3" y2="217.3" stroke="#222" stroke-width="0.7"/>
<line x1="472.7" y1="204.64999999999998" x2="474.2" y2="204.64999999999998" stroke="#222" stroke-width="0.7"/>
<line x1="472.7" y1="192.0" x2="475.3" y2="192.0" stroke="#222" stroke-width="0.7"/>
<text x="476.9" y="321.9" font-size="9.6" fill="#1e1e1e" stroke="#1e1e1e" stroke-width="0.22" textLength="10.2" lengthAdjust="spacingAndGlyphs">18</text>
<text x="476.9" y="296.6" font-size="9.6" fill="#1e1e1e" stroke="#1e1e1e" stroke-width="0.22" textLength="10.2" lengthAdjust="spacingAndGlyphs">20</text>
<text x="476.9" y="271.3" font-size="9.6" fill="#1e1e1e" stroke="#1e1e1e" stroke-width="0.22" textLength="10.2" lengthAdjust="spacingAndGlyphs">22</text>
<text x="476.9" y="246.0" font-size="9.6" fill="#1e1e1e" stroke="#1e1e1e" stroke-width="0.22" textLength="10.2" lengthAdjust="spacingAndGlyphs">24</text>
<text x="476.9" y="220.7" font-size="9.6" fill="#1e1e1e" stroke="#1e1e1e" stroke-width="0.22" textLength="10.2" lengthAdjust="spacingAndGlyphs">26</text>
<text x="476.9" y="195.4" font-size="9.6" fill="#1e1e1e" stroke="#1e1e1e" stroke-width="0.22" textLength="10.2" lengthAdjust="spacingAndGlyphs">28</text>
<line x1="341.0" y1="318.5" x2="341.0" y2="321.1" stroke="#222" stroke-width="0.7"/>
<line x1="354.17" y1="318.5" x2="354.17" y2="320.0" stroke="#222" stroke-width="0.7"/>
<line x1="367.34" y1="318.5" x2="367.34" y2="321.1" stroke="#222" stroke-width="0.7"/>
<line x1="380.51" y1="318.5" x2="380.51" y2="320.0" stroke="#222" stroke-width="0.7"/>
<line x1="393.68" y1="318.5" x2="393.68" y2="321.1" stroke="#222" stroke-width="0.7"/>
<line x1="406.85" y1="318.5" x2="406.85" y2="320.0" stroke="#222" stroke-width="0.7"/>
<line x1="420.02" y1="318.5" x2="420.02" y2="321.1" stroke="#222" stroke-width="0.7"/>
<line x1="433.19" y1="318.5" x2="433.19" y2="320.0" stroke="#222" stroke-width="0.7"/>
<line x1="446.36" y1="318.5" x2="446.36" y2="321.1" stroke="#222" stroke-width="0.7"/>
<line x1="459.53" y1="318.5" x2="459.53" y2="320.0" stroke="#222" stroke-width="0.7"/>
<line x1="472.7" y1="318.5" x2="472.7" y2="321.1" stroke="#222" stroke-width="0.7"/>
<text x="338.6" y="330.1" font-size="9.6" fill="#1e1e1e" stroke="#1e1e1e" stroke-width="0.22" textLength="4.8" lengthAdjust="spacingAndGlyphs">0</text>
<text x="364.94" y="330.1" font-size="9.6" fill="#1e1e1e" stroke="#1e1e1e" stroke-width="0.22" textLength="4.8" lengthAdjust="spacingAndGlyphs">2</text>
<text x="391.28" y="330.1" font-size="9.6" fill="#1e1e1e" stroke="#1e1e1e" stroke-width="0.22" textLength="4.8" lengthAdjust="spacingAndGlyphs">4</text>
<text x="417.62" y="330.1" font-size="9.6" fill="#1e1e1e" stroke="#1e1e1e" stroke-width="0.22" textLength="4.8" lengthAdjust="spacingAndGlyphs">6</text>
<text x="443.96" y="330.1" font-size="9.6" fill="#1e1e1e" stroke="#1e1e1e" stroke-width="0.22" textLength="4.8" lengthAdjust="spacingAndGlyphs">8</text>
<text x="467.6" y="330.1" font-size="9.6" fill="#1e1e1e" stroke="#1e1e1e" stroke-width="0.22" textLength="10.2" lengthAdjust="spacingAndGlyphs">10</text>
<text x="363.9" y="343.9" font-size="10.7" fill="#1e1e1e" stroke="#1e1e1e" stroke-width="0.22" textLength="96.6" lengthAdjust="spacingAndGlyphs">FFT Frequency (eV)</text>
<text transform="translate(500.5,287.2) rotate(-90)" font-size="10.4" fill="#1e1e1e" textLength="56.5" lengthAdjust="spacingAndGlyphs">Energy (eV)</text>
<rect x="520.3" y="192" width="132.70000000000005" height="126.5" fill="none" stroke="#222" stroke-width="0.7"/>
<line x1="653" y1="318.5" x2="655.6" y2="318.5" stroke="#222" stroke-width="0.7"/>
<line x1="653" y1="305.85" x2="654.5" y2="305.85" stroke="#222" stroke-width="0.7"/>
<line x1="653" y1="293.2" x2="655.6" y2="293.2" stroke="#222" stroke-width="0.7"/>
<line x1="653" y1="280.55" x2="654.5" y2="280.55" stroke="#222" stroke-width="0.7"/>
<line x1="653" y1="267.9" x2="655.6" y2="267.9" stroke="#222" stroke-width="0.7"/>
<line x1="653" y1="255.25" x2="654.5" y2="255.25" stroke="#222" stroke-width="0.7"/>
<line x1="653" y1="242.60000000000002" x2="655.6" y2="242.60000000000002" stroke="#222" stroke-width="0.7"/>
<line x1="653" y1="229.95" x2="654.5" y2="229.95" stroke="#222" stroke-width="0.7"/>
<line x1="653" y1="217.3" x2="655.6" y2="217.3" stroke="#222" stroke-width="0.7"/>
<line x1="653" y1="204.64999999999998" x2="654.5" y2="204.64999999999998" stroke="#222" stroke-width="0.7"/>
<line x1="653" y1="192.0" x2="655.6" y2="192.0" stroke="#222" stroke-width="0.7"/>
<text x="657.2" y="321.9" font-size="9.6" fill="#1e1e1e" stroke="#1e1e1e" stroke-width="0.22" textLength="10.2" lengthAdjust="spacingAndGlyphs">18</text>
<text x="657.2" y="296.6" font-size="9.6" fill="#1e1e1e" stroke="#1e1e1e" stroke-width="0.22" textLength="10.2" lengthAdjust="spacingAndGlyphs">20</text>
<text x="657.2" y="271.3" font-size="9.6" fill="#1e1e1e" stroke="#1e1e1e" stroke-width="0.22" textLength="10.2" lengthAdjust="spacingAndGlyphs">22</text>
<text x="657.2" y="246.0" font-size="9.6" fill="#1e1e1e" stroke="#1e1e1e" stroke-width="0.22" textLength="10.2" lengthAdjust="spacingAndGlyphs">24</text>
<text x="657.2" y="220.7" font-size="9.6" fill="#1e1e1e" stroke="#1e1e1e" stroke-width="0.22" textLength="10.2" lengthAdjust="spacingAndGlyphs">26</text>
<text x="657.2" y="195.4" font-size="9.6" fill="#1e1e1e" stroke="#1e1e1e" stroke-width="0.22" textLength="10.2" lengthAdjust="spacingAndGlyphs">28</text>
<line x1="520.3" y1="318.5" x2="520.3" y2="321.1" stroke="#222" stroke-width="0.7"/>
<line x1="533.5699999999999" y1="318.5" x2="533.5699999999999" y2="320.0" stroke="#222" stroke-width="0.7"/>
<line x1="546.8399999999999" y1="318.5" x2="546.8399999999999" y2="321.1" stroke="#222" stroke-width="0.7"/>
<line x1="560.11" y1="318.5" x2="560.11" y2="320.0" stroke="#222" stroke-width="0.7"/>
<line x1="573.38" y1="318.5" x2="573.38" y2="321.1" stroke="#222" stroke-width="0.7"/>
<line x1="586.65" y1="318.5" x2="586.65" y2="320.0" stroke="#222" stroke-width="0.7"/>
<line x1="599.92" y1="318.5" x2="599.92" y2="321.1" stroke="#222" stroke-width="0.7"/>
<line x1="613.1899999999999" y1="318.5" x2="613.1899999999999" y2="320.0" stroke="#222" stroke-width="0.7"/>
<line x1="626.46" y1="318.5" x2="626.46" y2="321.1" stroke="#222" stroke-width="0.7"/>
<line x1="639.73" y1="318.5" x2="639.73" y2="320.0" stroke="#222" stroke-width="0.7"/>
<line x1="653.0" y1="318.5" x2="653.0" y2="321.1" stroke="#222" stroke-width="0.7"/>
<text x="517.9" y="330.1" font-size="9.6" fill="#1e1e1e" stroke="#1e1e1e" stroke-width="0.22" textLength="4.8" lengthAdjust="spacingAndGlyphs">0</text>
<text x="544.44" y="330.1" font-size="9.6" fill="#1e1e1e" stroke="#1e1e1e" stroke-width="0.22" textLength="4.8" lengthAdjust="spacingAndGlyphs">2</text>
<text x="570.98" y="330.1" font-size="9.6" fill="#1e1e1e" stroke="#1e1e1e" stroke-width="0.22" textLength="4.8" lengthAdjust="spacingAndGlyphs">4</text>
<text x="597.52" y="330.1" font-size="9.6" fill="#1e1e1e" stroke="#1e1e1e" stroke-width="0.22" textLength="4.8" lengthAdjust="spacingAndGlyphs">6</text>
<text x="624.06" y="330.1" font-size="9.6" fill="#1e1e1e" stroke="#1e1e1e" stroke-width="0.22" textLength="4.8" lengthAdjust="spacingAndGlyphs">8</text>
<text x="647.9" y="330.1" font-size="9.6" fill="#1e1e1e" stroke="#1e1e1e" stroke-width="0.22" textLength="10.2" lengthAdjust="spacingAndGlyphs">10</text>
<text x="538.5" y="343.9" font-size="10.7" fill="#1e1e1e" stroke="#1e1e1e" stroke-width="0.22" textLength="96.6" lengthAdjust="spacingAndGlyphs">FFT Frequency (eV)</text>
<text transform="translate(679.2,287.9) rotate(-90)" font-size="10.4" fill="#1e1e1e" textLength="56.5" lengthAdjust="spacingAndGlyphs">Energy (eV)</text>
<text x="392" y="27.7" font-size="15" fill="#eaea46" stroke="#eaea46" stroke-width="0.22" textLength="76" lengthAdjust="spacingAndGlyphs">Experiment</text>
<text x="578.7" y="27.9" font-size="15" fill="#eaea46" stroke="#eaea46" stroke-width="0.22" textLength="69.8" lengthAdjust="spacingAndGlyphs">Simulation</text>
<text x="391.9" y="210.5" font-size="15" fill="#eaea46" stroke="#eaea46" stroke-width="0.22" textLength="76" lengthAdjust="spacingAndGlyphs">Experiment</text>
<text x="577.4" y="210.4" font-size="15" fill="#eaea46" stroke="#eaea46" stroke-width="0.22" textLength="70" lengthAdjust="spacingAndGlyphs">Simulation</text>
<text x="430.6" y="46.7" font-size="12.3" fill="#eaea46" stroke="#eaea46" stroke-width="0.22">τ</text>
<text x="435.8" y="52.7" font-size="9.3" fill="#eaea46" stroke="#eaea46" stroke-width="0.22">D</text>
<polyline points="449.90,38.50 443.50,41.60 449.90,44.70" fill="none" stroke="#eaea46" stroke-width="1.25" stroke-linejoin="miter"/>
<polyline points="456.30,38.50 449.90,41.60 456.30,44.70" fill="none" stroke="#eaea46" stroke-width="1.25" stroke-linejoin="miter"/>
<text x="459.6" y="46.8" font-size="15" fill="#eaea46" stroke="#eaea46" stroke-width="0.22">0</text>
<text x="608.2" y="47.2" font-size="12.3" fill="#eaea46" stroke="#eaea46" stroke-width="0.22">τ</text>
<text x="614.2" y="53.0" font-size="9.3" fill="#eaea46" stroke="#eaea46" stroke-width="0.22">D</text>
<polyline points="628.70,38.60 622.30,41.80 628.70,45.00" fill="none" stroke="#eaea46" stroke-width="1.25" stroke-linejoin="miter"/>
<polyline points="634.90,38.60 628.50,41.80 634.90,45.00" fill="none" stroke="#eaea46" stroke-width="1.25" stroke-linejoin="miter"/>
<text x="637.6" y="47.3" font-size="15" fill="#eaea46" stroke="#eaea46" stroke-width="0.22">0</text>
<text x="430.4" y="230.2" font-size="12.3" fill="#eaea46" stroke="#eaea46" stroke-width="0.22">τ</text>
<text x="436.4" y="235.8" font-size="9.3" fill="#eaea46" stroke="#eaea46" stroke-width="0.22">D</text>
<text x="442.6" y="230.2" font-size="15.5" fill="#eaea46" stroke="#eaea46" stroke-width="0.22">≈</text>
<text x="455.0" y="230.3" font-size="15.5" fill="#eaea46" stroke="#eaea46" stroke-width="0.22">0</text>
<text x="611.9" y="230.2" font-size="12.3" fill="#eaea46" stroke="#eaea46" stroke-width="0.22">τ</text>
<text x="617.8" y="235.4" font-size="9.3" fill="#eaea46" stroke="#eaea46" stroke-width="0.22">D</text>
<text x="625.3" y="230.2" font-size="15.5" fill="#eaea46" stroke="#eaea46" stroke-width="0.22">≈</text>
<text x="636.3" y="230.1" font-size="15.5" fill="#eaea46" stroke="#eaea46" stroke-width="0.22">0</text>
</svg></body></html>
